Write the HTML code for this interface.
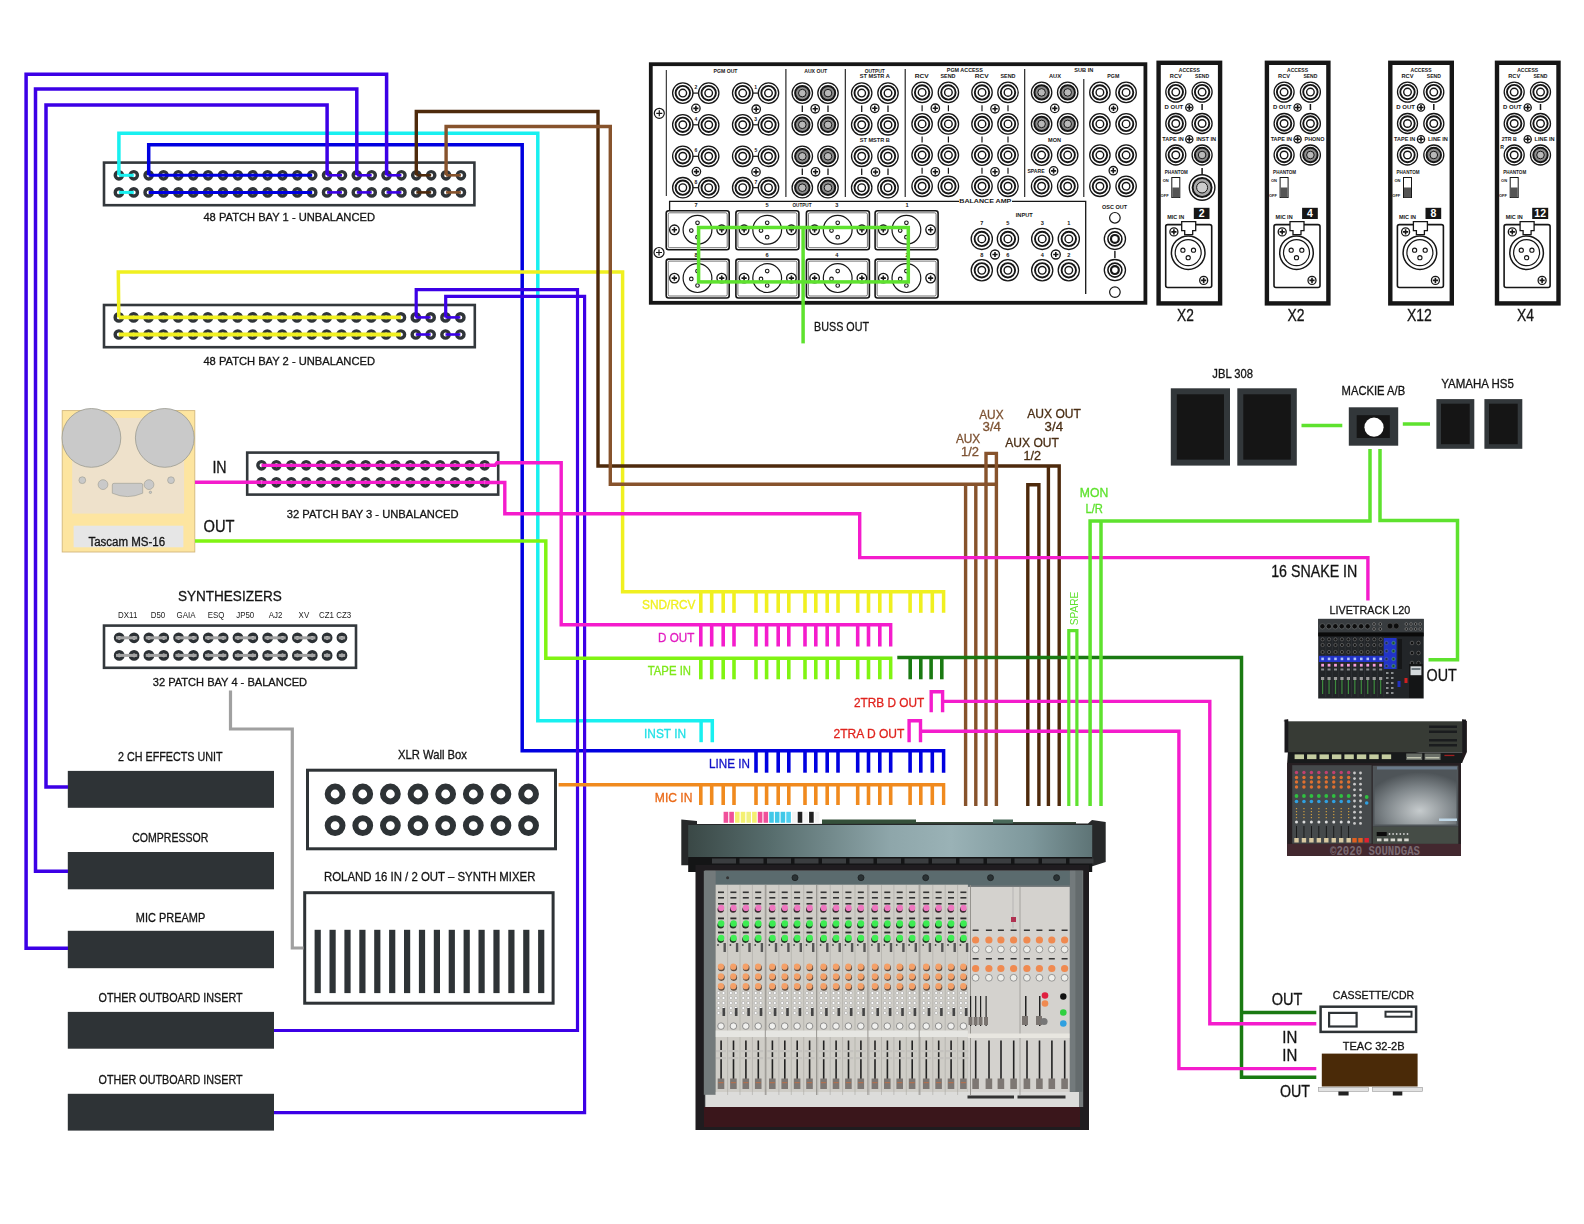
<!DOCTYPE html>
<html><head><meta charset="utf-8"><title>Studio Wiring Diagram</title>
<style>
html,body{margin:0;padding:0;background:#fff;}
body{width:1584px;height:1224px;overflow:hidden;font-family:"Liberation Sans", sans-serif;}
svg{display:block;}
</style></head><body>
<svg width="1584" height="1224" viewBox="0 0 1584 1224" font-family="Liberation Sans, sans-serif">
<rect width="1584" height="1224" fill="#ffffff"/>
<g id="panels">
<rect x="650.8" y="64.2" width="494.6" height="238.6" fill="#fff" stroke="#161616" stroke-width="3.8"/>
<line x1="666.3" y1="70" x2="666.3" y2="196" stroke="#161616" stroke-width="1"/>
<circle cx="659.3" cy="113.3" r="5" fill="#fff" stroke="#161616" stroke-width="1.2"/>
<path d="M656.3,113.3 h6 M659.3,110.3 v6" stroke="#161616" stroke-width="1.2"/>
<circle cx="659" cy="252.5" r="5" fill="#fff" stroke="#161616" stroke-width="1.2"/>
<path d="M656,252.5 h6 M659,249.5 v6" stroke="#161616" stroke-width="1.2"/>
<line x1="785.9" y1="69" x2="785.9" y2="197" stroke="#161616" stroke-width="1.1"/>
<line x1="845.3" y1="69" x2="845.3" y2="197" stroke="#161616" stroke-width="1.1"/>
<line x1="905.2" y1="69" x2="905.2" y2="197" stroke="#161616" stroke-width="1.1"/>
<line x1="1024.7" y1="69" x2="1024.7" y2="197" stroke="#161616" stroke-width="1.1"/>
<line x1="1083.8" y1="79" x2="1083.8" y2="197" stroke="#161616" stroke-width="1.1"/>
<circle cx="682.8" cy="93.1" r="10.2" fill="#fff" stroke="#161616" stroke-width="1.3"/>
<circle cx="682.8" cy="93.1" r="7.2" fill="none" stroke="#161616" stroke-width="1.9"/>
<circle cx="682.8" cy="93.1" r="3.8" fill="none" stroke="#161616" stroke-width="1.4"/>
<circle cx="708.7" cy="93.1" r="10.2" fill="#fff" stroke="#161616" stroke-width="1.3"/>
<circle cx="708.7" cy="93.1" r="7.2" fill="none" stroke="#161616" stroke-width="1.9"/>
<circle cx="708.7" cy="93.1" r="3.8" fill="none" stroke="#161616" stroke-width="1.4"/>
<circle cx="742.7" cy="93.1" r="10.2" fill="#fff" stroke="#161616" stroke-width="1.3"/>
<circle cx="742.7" cy="93.1" r="7.2" fill="none" stroke="#161616" stroke-width="1.9"/>
<circle cx="742.7" cy="93.1" r="3.8" fill="none" stroke="#161616" stroke-width="1.4"/>
<circle cx="768.5" cy="93.1" r="10.2" fill="#fff" stroke="#161616" stroke-width="1.3"/>
<circle cx="768.5" cy="93.1" r="7.2" fill="none" stroke="#161616" stroke-width="1.9"/>
<circle cx="768.5" cy="93.1" r="3.8" fill="none" stroke="#161616" stroke-width="1.4"/>
<line x1="692.6" y1="93.1" x2="698.9" y2="93.1" stroke="#161616" stroke-width="1.2"/>
<line x1="752.5" y1="93.1" x2="758.7" y2="93.1" stroke="#161616" stroke-width="1.2"/>
<circle cx="682.8" cy="124.8" r="10.2" fill="#fff" stroke="#161616" stroke-width="1.3"/>
<circle cx="682.8" cy="124.8" r="7.2" fill="none" stroke="#161616" stroke-width="1.9"/>
<circle cx="682.8" cy="124.8" r="3.8" fill="none" stroke="#161616" stroke-width="1.4"/>
<circle cx="708.7" cy="124.8" r="10.2" fill="#fff" stroke="#161616" stroke-width="1.3"/>
<circle cx="708.7" cy="124.8" r="7.2" fill="none" stroke="#161616" stroke-width="1.9"/>
<circle cx="708.7" cy="124.8" r="3.8" fill="none" stroke="#161616" stroke-width="1.4"/>
<circle cx="742.7" cy="124.8" r="10.2" fill="#fff" stroke="#161616" stroke-width="1.3"/>
<circle cx="742.7" cy="124.8" r="7.2" fill="none" stroke="#161616" stroke-width="1.9"/>
<circle cx="742.7" cy="124.8" r="3.8" fill="none" stroke="#161616" stroke-width="1.4"/>
<circle cx="768.5" cy="124.8" r="10.2" fill="#fff" stroke="#161616" stroke-width="1.3"/>
<circle cx="768.5" cy="124.8" r="7.2" fill="none" stroke="#161616" stroke-width="1.9"/>
<circle cx="768.5" cy="124.8" r="3.8" fill="none" stroke="#161616" stroke-width="1.4"/>
<line x1="692.6" y1="124.8" x2="698.9" y2="124.8" stroke="#161616" stroke-width="1.2"/>
<line x1="752.5" y1="124.8" x2="758.7" y2="124.8" stroke="#161616" stroke-width="1.2"/>
<circle cx="682.8" cy="156.3" r="10.2" fill="#fff" stroke="#161616" stroke-width="1.3"/>
<circle cx="682.8" cy="156.3" r="7.2" fill="none" stroke="#161616" stroke-width="1.9"/>
<circle cx="682.8" cy="156.3" r="3.8" fill="none" stroke="#161616" stroke-width="1.4"/>
<circle cx="708.7" cy="156.3" r="10.2" fill="#fff" stroke="#161616" stroke-width="1.3"/>
<circle cx="708.7" cy="156.3" r="7.2" fill="none" stroke="#161616" stroke-width="1.9"/>
<circle cx="708.7" cy="156.3" r="3.8" fill="none" stroke="#161616" stroke-width="1.4"/>
<circle cx="742.7" cy="156.3" r="10.2" fill="#fff" stroke="#161616" stroke-width="1.3"/>
<circle cx="742.7" cy="156.3" r="7.2" fill="none" stroke="#161616" stroke-width="1.9"/>
<circle cx="742.7" cy="156.3" r="3.8" fill="none" stroke="#161616" stroke-width="1.4"/>
<circle cx="768.5" cy="156.3" r="10.2" fill="#fff" stroke="#161616" stroke-width="1.3"/>
<circle cx="768.5" cy="156.3" r="7.2" fill="none" stroke="#161616" stroke-width="1.9"/>
<circle cx="768.5" cy="156.3" r="3.8" fill="none" stroke="#161616" stroke-width="1.4"/>
<line x1="692.6" y1="156.3" x2="698.9" y2="156.3" stroke="#161616" stroke-width="1.2"/>
<line x1="752.5" y1="156.3" x2="758.7" y2="156.3" stroke="#161616" stroke-width="1.2"/>
<circle cx="682.8" cy="187.7" r="10.2" fill="#fff" stroke="#161616" stroke-width="1.3"/>
<circle cx="682.8" cy="187.7" r="7.2" fill="none" stroke="#161616" stroke-width="1.9"/>
<circle cx="682.8" cy="187.7" r="3.8" fill="none" stroke="#161616" stroke-width="1.4"/>
<circle cx="708.7" cy="187.7" r="10.2" fill="#fff" stroke="#161616" stroke-width="1.3"/>
<circle cx="708.7" cy="187.7" r="7.2" fill="none" stroke="#161616" stroke-width="1.9"/>
<circle cx="708.7" cy="187.7" r="3.8" fill="none" stroke="#161616" stroke-width="1.4"/>
<circle cx="742.7" cy="187.7" r="10.2" fill="#fff" stroke="#161616" stroke-width="1.3"/>
<circle cx="742.7" cy="187.7" r="7.2" fill="none" stroke="#161616" stroke-width="1.9"/>
<circle cx="742.7" cy="187.7" r="3.8" fill="none" stroke="#161616" stroke-width="1.4"/>
<circle cx="768.5" cy="187.7" r="10.2" fill="#fff" stroke="#161616" stroke-width="1.3"/>
<circle cx="768.5" cy="187.7" r="7.2" fill="none" stroke="#161616" stroke-width="1.9"/>
<circle cx="768.5" cy="187.7" r="3.8" fill="none" stroke="#161616" stroke-width="1.4"/>
<line x1="692.6" y1="187.7" x2="698.9" y2="187.7" stroke="#161616" stroke-width="1.2"/>
<line x1="752.5" y1="187.7" x2="758.7" y2="187.7" stroke="#161616" stroke-width="1.2"/>
<circle cx="695.9" cy="108.4" r="4.2" fill="#fff" stroke="#161616" stroke-width="1.3"/>
<path d="M693.3,108.4 h5.2 M695.9,105.80000000000001 v5.2" stroke="#161616" stroke-width="1.6"/>
<circle cx="756.2" cy="109.2" r="4.2" fill="#fff" stroke="#161616" stroke-width="1.3"/>
<path d="M753.6,109.2 h5.2 M756.2,106.60000000000001 v5.2" stroke="#161616" stroke-width="1.6"/>
<circle cx="696.4" cy="171.6" r="4.2" fill="#fff" stroke="#161616" stroke-width="1.3"/>
<path d="M693.8,171.6 h5.2 M696.4,169.0 v5.2" stroke="#161616" stroke-width="1.6"/>
<circle cx="756" cy="171.9" r="4.2" fill="#fff" stroke="#161616" stroke-width="1.3"/>
<path d="M753.4,171.9 h5.2 M756,169.3 v5.2" stroke="#161616" stroke-width="1.6"/>
<circle cx="802.3" cy="93.1" r="10.2" fill="#fff" stroke="#161616" stroke-width="1.3"/>
<circle cx="802.3" cy="93.1" r="7.2" fill="#8d8d8d" stroke="#161616" stroke-width="2"/>
<circle cx="802.3" cy="93.1" r="3.8" fill="#b8b8b8" stroke="#161616" stroke-width="1.0"/>
<circle cx="828" cy="93.1" r="10.2" fill="#fff" stroke="#161616" stroke-width="1.3"/>
<circle cx="828" cy="93.1" r="7.2" fill="#8d8d8d" stroke="#161616" stroke-width="2"/>
<circle cx="828" cy="93.1" r="3.8" fill="#b8b8b8" stroke="#161616" stroke-width="1.0"/>
<circle cx="802.3" cy="124.8" r="10.2" fill="#fff" stroke="#161616" stroke-width="1.3"/>
<circle cx="802.3" cy="124.8" r="7.2" fill="#8d8d8d" stroke="#161616" stroke-width="2"/>
<circle cx="802.3" cy="124.8" r="3.8" fill="#b8b8b8" stroke="#161616" stroke-width="1.0"/>
<circle cx="828" cy="124.8" r="10.2" fill="#fff" stroke="#161616" stroke-width="1.3"/>
<circle cx="828" cy="124.8" r="7.2" fill="#8d8d8d" stroke="#161616" stroke-width="2"/>
<circle cx="828" cy="124.8" r="3.8" fill="#b8b8b8" stroke="#161616" stroke-width="1.0"/>
<circle cx="802.3" cy="156.3" r="10.2" fill="#fff" stroke="#161616" stroke-width="1.3"/>
<circle cx="802.3" cy="156.3" r="7.2" fill="#8d8d8d" stroke="#161616" stroke-width="2"/>
<circle cx="802.3" cy="156.3" r="3.8" fill="#b8b8b8" stroke="#161616" stroke-width="1.0"/>
<circle cx="828" cy="156.3" r="10.2" fill="#fff" stroke="#161616" stroke-width="1.3"/>
<circle cx="828" cy="156.3" r="7.2" fill="#8d8d8d" stroke="#161616" stroke-width="2"/>
<circle cx="828" cy="156.3" r="3.8" fill="#b8b8b8" stroke="#161616" stroke-width="1.0"/>
<circle cx="802.3" cy="187.7" r="10.2" fill="#fff" stroke="#161616" stroke-width="1.3"/>
<circle cx="802.3" cy="187.7" r="7.2" fill="#8d8d8d" stroke="#161616" stroke-width="2"/>
<circle cx="802.3" cy="187.7" r="3.8" fill="#b8b8b8" stroke="#161616" stroke-width="1.0"/>
<circle cx="828" cy="187.7" r="10.2" fill="#fff" stroke="#161616" stroke-width="1.3"/>
<circle cx="828" cy="187.7" r="7.2" fill="#8d8d8d" stroke="#161616" stroke-width="2"/>
<circle cx="828" cy="187.7" r="3.8" fill="#b8b8b8" stroke="#161616" stroke-width="1.0"/>
<circle cx="815.2" cy="108.8" r="4.2" fill="#fff" stroke="#161616" stroke-width="1.3"/>
<path d="M812.6,108.8 h5.2 M815.2,106.2 v5.2" stroke="#161616" stroke-width="1.6"/>
<circle cx="815.5" cy="171.8" r="4.2" fill="#fff" stroke="#161616" stroke-width="1.3"/>
<path d="M812.9,171.8 h5.2 M815.5,169.20000000000002 v5.2" stroke="#161616" stroke-width="1.6"/>
<line x1="802.3" y1="105.5" x2="802.3" y2="112.1" stroke="#161616" stroke-width="1.3"/>
<line x1="828" y1="105.5" x2="828" y2="112.1" stroke="#161616" stroke-width="1.3"/>
<line x1="861.7" y1="105.5" x2="861.7" y2="112.1" stroke="#161616" stroke-width="1.3"/>
<line x1="888" y1="105.5" x2="888" y2="112.1" stroke="#161616" stroke-width="1.3"/>
<line x1="802.3" y1="168.5" x2="802.3" y2="175.10000000000002" stroke="#161616" stroke-width="1.3"/>
<line x1="828" y1="168.5" x2="828" y2="175.10000000000002" stroke="#161616" stroke-width="1.3"/>
<line x1="861.7" y1="168.5" x2="861.7" y2="175.10000000000002" stroke="#161616" stroke-width="1.3"/>
<line x1="888" y1="168.5" x2="888" y2="175.10000000000002" stroke="#161616" stroke-width="1.3"/>
<circle cx="861.7" cy="93.1" r="10.2" fill="#fff" stroke="#161616" stroke-width="1.3"/>
<circle cx="861.7" cy="93.1" r="7.2" fill="none" stroke="#161616" stroke-width="1.9"/>
<circle cx="861.7" cy="93.1" r="3.8" fill="none" stroke="#161616" stroke-width="1.4"/>
<circle cx="888" cy="93.1" r="10.2" fill="#fff" stroke="#161616" stroke-width="1.3"/>
<circle cx="888" cy="93.1" r="7.2" fill="none" stroke="#161616" stroke-width="1.9"/>
<circle cx="888" cy="93.1" r="3.8" fill="none" stroke="#161616" stroke-width="1.4"/>
<circle cx="861.7" cy="124.8" r="10.2" fill="#fff" stroke="#161616" stroke-width="1.3"/>
<circle cx="861.7" cy="124.8" r="7.2" fill="none" stroke="#161616" stroke-width="1.9"/>
<circle cx="861.7" cy="124.8" r="3.8" fill="none" stroke="#161616" stroke-width="1.4"/>
<circle cx="888" cy="124.8" r="10.2" fill="#fff" stroke="#161616" stroke-width="1.3"/>
<circle cx="888" cy="124.8" r="7.2" fill="none" stroke="#161616" stroke-width="1.9"/>
<circle cx="888" cy="124.8" r="3.8" fill="none" stroke="#161616" stroke-width="1.4"/>
<circle cx="861.7" cy="156.3" r="10.2" fill="#fff" stroke="#161616" stroke-width="1.3"/>
<circle cx="861.7" cy="156.3" r="7.2" fill="none" stroke="#161616" stroke-width="1.9"/>
<circle cx="861.7" cy="156.3" r="3.8" fill="none" stroke="#161616" stroke-width="1.4"/>
<circle cx="888" cy="156.3" r="10.2" fill="#fff" stroke="#161616" stroke-width="1.3"/>
<circle cx="888" cy="156.3" r="7.2" fill="none" stroke="#161616" stroke-width="1.9"/>
<circle cx="888" cy="156.3" r="3.8" fill="none" stroke="#161616" stroke-width="1.4"/>
<circle cx="861.7" cy="187.7" r="10.2" fill="#fff" stroke="#161616" stroke-width="1.3"/>
<circle cx="861.7" cy="187.7" r="7.2" fill="none" stroke="#161616" stroke-width="1.9"/>
<circle cx="861.7" cy="187.7" r="3.8" fill="none" stroke="#161616" stroke-width="1.4"/>
<circle cx="888" cy="187.7" r="10.2" fill="#fff" stroke="#161616" stroke-width="1.3"/>
<circle cx="888" cy="187.7" r="7.2" fill="none" stroke="#161616" stroke-width="1.9"/>
<circle cx="888" cy="187.7" r="3.8" fill="none" stroke="#161616" stroke-width="1.4"/>
<circle cx="874.8" cy="108.3" r="4.2" fill="#fff" stroke="#161616" stroke-width="1.3"/>
<path d="M872.1999999999999,108.3 h5.2 M874.8,105.7 v5.2" stroke="#161616" stroke-width="1.6"/>
<circle cx="875.5" cy="172" r="4.2" fill="#fff" stroke="#161616" stroke-width="1.3"/>
<path d="M872.9,172 h5.2 M875.5,169.4 v5.2" stroke="#161616" stroke-width="1.6"/>
<circle cx="922.1" cy="92.4" r="10.2" fill="#fff" stroke="#161616" stroke-width="1.3"/>
<circle cx="922.1" cy="92.4" r="7.2" fill="none" stroke="#161616" stroke-width="1.9"/>
<circle cx="922.1" cy="92.4" r="3.8" fill="none" stroke="#161616" stroke-width="1.4"/>
<circle cx="948.4" cy="92.4" r="10.2" fill="#fff" stroke="#161616" stroke-width="1.3"/>
<circle cx="948.4" cy="92.4" r="7.2" fill="none" stroke="#161616" stroke-width="1.9"/>
<circle cx="948.4" cy="92.4" r="3.8" fill="none" stroke="#161616" stroke-width="1.4"/>
<circle cx="982" cy="92.4" r="10.2" fill="#fff" stroke="#161616" stroke-width="1.3"/>
<circle cx="982" cy="92.4" r="7.2" fill="none" stroke="#161616" stroke-width="1.9"/>
<circle cx="982" cy="92.4" r="3.8" fill="none" stroke="#161616" stroke-width="1.4"/>
<circle cx="1008" cy="92.4" r="10.2" fill="#fff" stroke="#161616" stroke-width="1.3"/>
<circle cx="1008" cy="92.4" r="7.2" fill="none" stroke="#161616" stroke-width="1.9"/>
<circle cx="1008" cy="92.4" r="3.8" fill="none" stroke="#161616" stroke-width="1.4"/>
<circle cx="922.1" cy="123.9" r="10.2" fill="#fff" stroke="#161616" stroke-width="1.3"/>
<circle cx="922.1" cy="123.9" r="7.2" fill="none" stroke="#161616" stroke-width="1.9"/>
<circle cx="922.1" cy="123.9" r="3.8" fill="none" stroke="#161616" stroke-width="1.4"/>
<circle cx="948.4" cy="123.9" r="10.2" fill="#fff" stroke="#161616" stroke-width="1.3"/>
<circle cx="948.4" cy="123.9" r="7.2" fill="none" stroke="#161616" stroke-width="1.9"/>
<circle cx="948.4" cy="123.9" r="3.8" fill="none" stroke="#161616" stroke-width="1.4"/>
<circle cx="982" cy="123.9" r="10.2" fill="#fff" stroke="#161616" stroke-width="1.3"/>
<circle cx="982" cy="123.9" r="7.2" fill="none" stroke="#161616" stroke-width="1.9"/>
<circle cx="982" cy="123.9" r="3.8" fill="none" stroke="#161616" stroke-width="1.4"/>
<circle cx="1008" cy="123.9" r="10.2" fill="#fff" stroke="#161616" stroke-width="1.3"/>
<circle cx="1008" cy="123.9" r="7.2" fill="none" stroke="#161616" stroke-width="1.9"/>
<circle cx="1008" cy="123.9" r="3.8" fill="none" stroke="#161616" stroke-width="1.4"/>
<circle cx="922.1" cy="155.1" r="10.2" fill="#fff" stroke="#161616" stroke-width="1.3"/>
<circle cx="922.1" cy="155.1" r="7.2" fill="none" stroke="#161616" stroke-width="1.9"/>
<circle cx="922.1" cy="155.1" r="3.8" fill="none" stroke="#161616" stroke-width="1.4"/>
<circle cx="948.4" cy="155.1" r="10.2" fill="#fff" stroke="#161616" stroke-width="1.3"/>
<circle cx="948.4" cy="155.1" r="7.2" fill="none" stroke="#161616" stroke-width="1.9"/>
<circle cx="948.4" cy="155.1" r="3.8" fill="none" stroke="#161616" stroke-width="1.4"/>
<circle cx="982" cy="155.1" r="10.2" fill="#fff" stroke="#161616" stroke-width="1.3"/>
<circle cx="982" cy="155.1" r="7.2" fill="none" stroke="#161616" stroke-width="1.9"/>
<circle cx="982" cy="155.1" r="3.8" fill="none" stroke="#161616" stroke-width="1.4"/>
<circle cx="1008" cy="155.1" r="10.2" fill="#fff" stroke="#161616" stroke-width="1.3"/>
<circle cx="1008" cy="155.1" r="7.2" fill="none" stroke="#161616" stroke-width="1.9"/>
<circle cx="1008" cy="155.1" r="3.8" fill="none" stroke="#161616" stroke-width="1.4"/>
<circle cx="922.1" cy="186.3" r="10.2" fill="#fff" stroke="#161616" stroke-width="1.3"/>
<circle cx="922.1" cy="186.3" r="7.2" fill="none" stroke="#161616" stroke-width="1.9"/>
<circle cx="922.1" cy="186.3" r="3.8" fill="none" stroke="#161616" stroke-width="1.4"/>
<circle cx="948.4" cy="186.3" r="10.2" fill="#fff" stroke="#161616" stroke-width="1.3"/>
<circle cx="948.4" cy="186.3" r="7.2" fill="none" stroke="#161616" stroke-width="1.9"/>
<circle cx="948.4" cy="186.3" r="3.8" fill="none" stroke="#161616" stroke-width="1.4"/>
<circle cx="982" cy="186.3" r="10.2" fill="#fff" stroke="#161616" stroke-width="1.3"/>
<circle cx="982" cy="186.3" r="7.2" fill="none" stroke="#161616" stroke-width="1.9"/>
<circle cx="982" cy="186.3" r="3.8" fill="none" stroke="#161616" stroke-width="1.4"/>
<circle cx="1008" cy="186.3" r="10.2" fill="#fff" stroke="#161616" stroke-width="1.3"/>
<circle cx="1008" cy="186.3" r="7.2" fill="none" stroke="#161616" stroke-width="1.9"/>
<circle cx="1008" cy="186.3" r="3.8" fill="none" stroke="#161616" stroke-width="1.4"/>
<line x1="922.1" y1="105.2" x2="922.1" y2="111.2" stroke="#161616" stroke-width="1.2"/>
<line x1="948.4" y1="105.2" x2="948.4" y2="111.2" stroke="#161616" stroke-width="1.2"/>
<line x1="982" y1="105.2" x2="982" y2="111.2" stroke="#161616" stroke-width="1.2"/>
<line x1="1008" y1="105.2" x2="1008" y2="111.2" stroke="#161616" stroke-width="1.2"/>
<line x1="922.1" y1="136.5" x2="922.1" y2="142.5" stroke="#161616" stroke-width="1.2"/>
<line x1="948.4" y1="136.5" x2="948.4" y2="142.5" stroke="#161616" stroke-width="1.2"/>
<line x1="982" y1="136.5" x2="982" y2="142.5" stroke="#161616" stroke-width="1.2"/>
<line x1="1008" y1="136.5" x2="1008" y2="142.5" stroke="#161616" stroke-width="1.2"/>
<line x1="922.1" y1="167.7" x2="922.1" y2="173.7" stroke="#161616" stroke-width="1.2"/>
<line x1="948.4" y1="167.7" x2="948.4" y2="173.7" stroke="#161616" stroke-width="1.2"/>
<line x1="982" y1="167.7" x2="982" y2="173.7" stroke="#161616" stroke-width="1.2"/>
<line x1="1008" y1="167.7" x2="1008" y2="173.7" stroke="#161616" stroke-width="1.2"/>
<circle cx="935.3" cy="108.2" r="4.2" fill="#fff" stroke="#161616" stroke-width="1.3"/>
<path d="M932.6999999999999,108.2 h5.2 M935.3,105.60000000000001 v5.2" stroke="#161616" stroke-width="1.6"/>
<circle cx="995" cy="108.8" r="4.2" fill="#fff" stroke="#161616" stroke-width="1.3"/>
<path d="M992.4,108.8 h5.2 M995,106.2 v5.2" stroke="#161616" stroke-width="1.6"/>
<circle cx="935.3" cy="171.8" r="4.2" fill="#fff" stroke="#161616" stroke-width="1.3"/>
<path d="M932.6999999999999,171.8 h5.2 M935.3,169.20000000000002 v5.2" stroke="#161616" stroke-width="1.6"/>
<circle cx="995" cy="171.8" r="4.2" fill="#fff" stroke="#161616" stroke-width="1.3"/>
<path d="M992.4,171.8 h5.2 M995,169.20000000000002 v5.2" stroke="#161616" stroke-width="1.6"/>
<circle cx="1041.6" cy="92.4" r="10.2" fill="#fff" stroke="#161616" stroke-width="1.3"/>
<circle cx="1041.6" cy="92.4" r="7.2" fill="#8d8d8d" stroke="#161616" stroke-width="2"/>
<circle cx="1041.6" cy="92.4" r="3.8" fill="#b8b8b8" stroke="#161616" stroke-width="1.0"/>
<circle cx="1067.7" cy="92.4" r="10.2" fill="#fff" stroke="#161616" stroke-width="1.3"/>
<circle cx="1067.7" cy="92.4" r="7.2" fill="#8d8d8d" stroke="#161616" stroke-width="2"/>
<circle cx="1067.7" cy="92.4" r="3.8" fill="#b8b8b8" stroke="#161616" stroke-width="1.0"/>
<circle cx="1099.9" cy="92.4" r="10.2" fill="#fff" stroke="#161616" stroke-width="1.3"/>
<circle cx="1099.9" cy="92.4" r="7.2" fill="none" stroke="#161616" stroke-width="1.9"/>
<circle cx="1099.9" cy="92.4" r="3.8" fill="none" stroke="#161616" stroke-width="1.4"/>
<circle cx="1126.1" cy="92.4" r="10.2" fill="#fff" stroke="#161616" stroke-width="1.3"/>
<circle cx="1126.1" cy="92.4" r="7.2" fill="none" stroke="#161616" stroke-width="1.9"/>
<circle cx="1126.1" cy="92.4" r="3.8" fill="none" stroke="#161616" stroke-width="1.4"/>
<circle cx="1041.6" cy="123.9" r="10.2" fill="#fff" stroke="#161616" stroke-width="1.3"/>
<circle cx="1041.6" cy="123.9" r="7.2" fill="#8d8d8d" stroke="#161616" stroke-width="2"/>
<circle cx="1041.6" cy="123.9" r="3.8" fill="#b8b8b8" stroke="#161616" stroke-width="1.0"/>
<circle cx="1067.7" cy="123.9" r="10.2" fill="#fff" stroke="#161616" stroke-width="1.3"/>
<circle cx="1067.7" cy="123.9" r="7.2" fill="#8d8d8d" stroke="#161616" stroke-width="2"/>
<circle cx="1067.7" cy="123.9" r="3.8" fill="#b8b8b8" stroke="#161616" stroke-width="1.0"/>
<circle cx="1099.9" cy="123.9" r="10.2" fill="#fff" stroke="#161616" stroke-width="1.3"/>
<circle cx="1099.9" cy="123.9" r="7.2" fill="none" stroke="#161616" stroke-width="1.9"/>
<circle cx="1099.9" cy="123.9" r="3.8" fill="none" stroke="#161616" stroke-width="1.4"/>
<circle cx="1126.1" cy="123.9" r="10.2" fill="#fff" stroke="#161616" stroke-width="1.3"/>
<circle cx="1126.1" cy="123.9" r="7.2" fill="none" stroke="#161616" stroke-width="1.9"/>
<circle cx="1126.1" cy="123.9" r="3.8" fill="none" stroke="#161616" stroke-width="1.4"/>
<circle cx="1041.6" cy="155.1" r="10.2" fill="#fff" stroke="#161616" stroke-width="1.3"/>
<circle cx="1041.6" cy="155.1" r="7.2" fill="none" stroke="#161616" stroke-width="1.9"/>
<circle cx="1041.6" cy="155.1" r="3.8" fill="none" stroke="#161616" stroke-width="1.4"/>
<circle cx="1067.7" cy="155.1" r="10.2" fill="#fff" stroke="#161616" stroke-width="1.3"/>
<circle cx="1067.7" cy="155.1" r="7.2" fill="none" stroke="#161616" stroke-width="1.9"/>
<circle cx="1067.7" cy="155.1" r="3.8" fill="none" stroke="#161616" stroke-width="1.4"/>
<circle cx="1099.9" cy="155.1" r="10.2" fill="#fff" stroke="#161616" stroke-width="1.3"/>
<circle cx="1099.9" cy="155.1" r="7.2" fill="none" stroke="#161616" stroke-width="1.9"/>
<circle cx="1099.9" cy="155.1" r="3.8" fill="none" stroke="#161616" stroke-width="1.4"/>
<circle cx="1126.1" cy="155.1" r="10.2" fill="#fff" stroke="#161616" stroke-width="1.3"/>
<circle cx="1126.1" cy="155.1" r="7.2" fill="none" stroke="#161616" stroke-width="1.9"/>
<circle cx="1126.1" cy="155.1" r="3.8" fill="none" stroke="#161616" stroke-width="1.4"/>
<circle cx="1041.6" cy="186.3" r="10.2" fill="#fff" stroke="#161616" stroke-width="1.3"/>
<circle cx="1041.6" cy="186.3" r="7.2" fill="none" stroke="#161616" stroke-width="1.9"/>
<circle cx="1041.6" cy="186.3" r="3.8" fill="none" stroke="#161616" stroke-width="1.4"/>
<circle cx="1067.7" cy="186.3" r="10.2" fill="#fff" stroke="#161616" stroke-width="1.3"/>
<circle cx="1067.7" cy="186.3" r="7.2" fill="none" stroke="#161616" stroke-width="1.9"/>
<circle cx="1067.7" cy="186.3" r="3.8" fill="none" stroke="#161616" stroke-width="1.4"/>
<circle cx="1099.9" cy="186.3" r="10.2" fill="#fff" stroke="#161616" stroke-width="1.3"/>
<circle cx="1099.9" cy="186.3" r="7.2" fill="none" stroke="#161616" stroke-width="1.9"/>
<circle cx="1099.9" cy="186.3" r="3.8" fill="none" stroke="#161616" stroke-width="1.4"/>
<circle cx="1126.1" cy="186.3" r="10.2" fill="#fff" stroke="#161616" stroke-width="1.3"/>
<circle cx="1126.1" cy="186.3" r="7.2" fill="none" stroke="#161616" stroke-width="1.9"/>
<circle cx="1126.1" cy="186.3" r="3.8" fill="none" stroke="#161616" stroke-width="1.4"/>
<circle cx="1054.8" cy="108.4" r="4.2" fill="#fff" stroke="#161616" stroke-width="1.3"/>
<path d="M1052.2,108.4 h5.2 M1054.8,105.80000000000001 v5.2" stroke="#161616" stroke-width="1.6"/>
<circle cx="1113.5" cy="108.4" r="4.2" fill="#fff" stroke="#161616" stroke-width="1.3"/>
<path d="M1110.9,108.4 h5.2 M1113.5,105.80000000000001 v5.2" stroke="#161616" stroke-width="1.6"/>
<circle cx="1053.6" cy="170.9" r="4.2" fill="#fff" stroke="#161616" stroke-width="1.3"/>
<path d="M1051.0,170.9 h5.2 M1053.6,168.3 v5.2" stroke="#161616" stroke-width="1.6"/>
<circle cx="1113.3" cy="170.7" r="4.2" fill="#fff" stroke="#161616" stroke-width="1.3"/>
<path d="M1110.7,170.7 h5.2 M1113.3,168.1 v5.2" stroke="#161616" stroke-width="1.6"/>
<text x="725.5" y="73.42" font-size="5.6" font-weight="bold" fill="#161616" text-anchor="middle" font-family="Liberation Sans, sans-serif" textLength="24" lengthAdjust="spacingAndGlyphs">PGM OUT</text>
<text x="815.7" y="73.02" font-size="5.6" font-weight="bold" fill="#161616" text-anchor="middle" font-family="Liberation Sans, sans-serif" textLength="23" lengthAdjust="spacingAndGlyphs">AUX OUT</text>
<text x="874.8" y="73.02" font-size="5.6" font-weight="bold" fill="#161616" text-anchor="middle" font-family="Liberation Sans, sans-serif" textLength="20" lengthAdjust="spacingAndGlyphs">OUTPUT</text>
<text x="874.8" y="78.32" font-size="5.6" font-weight="bold" fill="#161616" text-anchor="middle" font-family="Liberation Sans, sans-serif" textLength="30" lengthAdjust="spacingAndGlyphs">ST MSTR  A</text>
<text x="874.8" y="142.42" font-size="5.6" font-weight="bold" fill="#161616" text-anchor="middle" font-family="Liberation Sans, sans-serif" textLength="30" lengthAdjust="spacingAndGlyphs">ST MSTR  B</text>
<text x="964.8" y="72.12" font-size="5.6" font-weight="bold" fill="#161616" text-anchor="middle" font-family="Liberation Sans, sans-serif" textLength="36" lengthAdjust="spacingAndGlyphs">PGM ACCESS</text>
<text x="921.8" y="78.02" font-size="5.6" font-weight="bold" fill="#161616" text-anchor="middle" font-family="Liberation Sans, sans-serif" textLength="14" lengthAdjust="spacingAndGlyphs">RCV</text>
<text x="948" y="78.02" font-size="5.6" font-weight="bold" fill="#161616" text-anchor="middle" font-family="Liberation Sans, sans-serif" textLength="15" lengthAdjust="spacingAndGlyphs">SEND</text>
<text x="981.7" y="78.02" font-size="5.6" font-weight="bold" fill="#161616" text-anchor="middle" font-family="Liberation Sans, sans-serif" textLength="14" lengthAdjust="spacingAndGlyphs">RCV</text>
<text x="1008" y="78.02" font-size="5.6" font-weight="bold" fill="#161616" text-anchor="middle" font-family="Liberation Sans, sans-serif" textLength="15" lengthAdjust="spacingAndGlyphs">SEND</text>
<text x="1083.8" y="71.82" font-size="5.6" font-weight="bold" fill="#161616" text-anchor="middle" font-family="Liberation Sans, sans-serif" textLength="19" lengthAdjust="spacingAndGlyphs">SUB IN</text>
<text x="1055" y="77.82" font-size="5.6" font-weight="bold" fill="#161616" text-anchor="middle" font-family="Liberation Sans, sans-serif" textLength="12" lengthAdjust="spacingAndGlyphs">AUX</text>
<text x="1113.3" y="77.52" font-size="5.6" font-weight="bold" fill="#161616" text-anchor="middle" font-family="Liberation Sans, sans-serif" textLength="12" lengthAdjust="spacingAndGlyphs">PGM</text>
<text x="1054.6" y="141.52" font-size="5.6" font-weight="bold" fill="#161616" text-anchor="middle" font-family="Liberation Sans, sans-serif" textLength="13" lengthAdjust="spacingAndGlyphs">MON</text>
<text x="1036" y="172.92" font-size="5.6" font-weight="bold" fill="#161616" text-anchor="middle" font-family="Liberation Sans, sans-serif" textLength="17" lengthAdjust="spacingAndGlyphs">SPARE</text>
<text x="695.8" y="88.80" font-size="5" font-weight="bold" fill="#161616" text-anchor="middle" font-family="Liberation Sans, sans-serif" >2</text>
<text x="755.6" y="88.80" font-size="5" font-weight="bold" fill="#161616" text-anchor="middle" font-family="Liberation Sans, sans-serif" >1</text>
<text x="695.8" y="120.80" font-size="5" font-weight="bold" fill="#161616" text-anchor="middle" font-family="Liberation Sans, sans-serif" >4</text>
<text x="755.6" y="120.80" font-size="5" font-weight="bold" fill="#161616" text-anchor="middle" font-family="Liberation Sans, sans-serif" >3</text>
<text x="696" y="151.80" font-size="5" font-weight="bold" fill="#161616" text-anchor="middle" font-family="Liberation Sans, sans-serif" >6</text>
<text x="756" y="151.80" font-size="5" font-weight="bold" fill="#161616" text-anchor="middle" font-family="Liberation Sans, sans-serif" >5</text>
<text x="696" y="183.80" font-size="5" font-weight="bold" fill="#161616" text-anchor="middle" font-family="Liberation Sans, sans-serif" >8</text>
<text x="756" y="183.80" font-size="5" font-weight="bold" fill="#161616" text-anchor="middle" font-family="Liberation Sans, sans-serif" >7</text>
<path d="M669.6,214 V201.4 H959 M1012,201.4 H1085.7 V294" fill="none" stroke="#161616" stroke-width="1.3"/>
<text x="985.3" y="203.43" font-size="6.2" font-weight="bold" fill="#161616" text-anchor="middle" font-family="Liberation Sans, sans-serif" textLength="52" lengthAdjust="spacingAndGlyphs">BALANCE AMP</text>
<text x="802" y="207.22" font-size="5.6" font-weight="bold" fill="#161616" text-anchor="middle" font-family="Liberation Sans, sans-serif" textLength="19" lengthAdjust="spacingAndGlyphs">OUTPUT</text>
<text x="696" y="207.22" font-size="5.6" font-weight="bold" fill="#161616" text-anchor="middle" font-family="Liberation Sans, sans-serif" >7</text>
<text x="767" y="207.22" font-size="5.6" font-weight="bold" fill="#161616" text-anchor="middle" font-family="Liberation Sans, sans-serif" >5</text>
<text x="836.7" y="207.22" font-size="5.6" font-weight="bold" fill="#161616" text-anchor="middle" font-family="Liberation Sans, sans-serif" >3</text>
<text x="907" y="207.22" font-size="5.6" font-weight="bold" fill="#161616" text-anchor="middle" font-family="Liberation Sans, sans-serif" >1</text>
<text x="696" y="256.52" font-size="5.6" font-weight="bold" fill="#161616" text-anchor="middle" font-family="Liberation Sans, sans-serif" >8</text>
<text x="767" y="256.52" font-size="5.6" font-weight="bold" fill="#161616" text-anchor="middle" font-family="Liberation Sans, sans-serif" >6</text>
<text x="836.7" y="256.52" font-size="5.6" font-weight="bold" fill="#161616" text-anchor="middle" font-family="Liberation Sans, sans-serif" >4</text>
<text x="907" y="256.52" font-size="5.6" font-weight="bold" fill="#161616" text-anchor="middle" font-family="Liberation Sans, sans-serif" >2</text>
<rect x="666.2" y="210.8" width="63" height="38.9" rx="2.5" fill="#fff" stroke="#161616" stroke-width="1.6"/>
<rect x="668.2" y="212.8" width="59" height="34.9" rx="1.5" fill="none" stroke="#161616" stroke-width="0.6"/>
<circle cx="697.5" cy="229.8" r="14.4" fill="#fff" stroke="#161616" stroke-width="1.2"/>
<circle cx="697.5" cy="222.8" r="1.8" fill="none" stroke="#161616" stroke-width="1.1"/>
<circle cx="691.3" cy="230.60000000000002" r="1.8" fill="none" stroke="#161616" stroke-width="1.1"/>
<circle cx="697.5" cy="237.20000000000002" r="1.8" fill="none" stroke="#161616" stroke-width="1.1"/>
<circle cx="674.4000000000001" cy="229.8" r="4.8" fill="#fff" stroke="#161616" stroke-width="1.3"/>
<path d="M671.8000000000001,229.8 h5.2 M674.4000000000001,227.20000000000002 v5.2" stroke="#161616" stroke-width="1.6"/>
<circle cx="721.7" cy="229.8" r="4.8" fill="#fff" stroke="#161616" stroke-width="1.3"/>
<path d="M719.1,229.8 h5.2 M721.7,227.20000000000002 v5.2" stroke="#161616" stroke-width="1.6"/>
<rect x="666.2" y="259.1" width="63" height="38.9" rx="2.5" fill="#fff" stroke="#161616" stroke-width="1.6"/>
<rect x="668.2" y="261.1" width="59" height="34.9" rx="1.5" fill="none" stroke="#161616" stroke-width="0.6"/>
<circle cx="697.5" cy="278.1" r="14.4" fill="#fff" stroke="#161616" stroke-width="1.2"/>
<circle cx="697.5" cy="271.1" r="1.8" fill="none" stroke="#161616" stroke-width="1.1"/>
<circle cx="691.3" cy="278.90000000000003" r="1.8" fill="none" stroke="#161616" stroke-width="1.1"/>
<circle cx="697.5" cy="285.5" r="1.8" fill="none" stroke="#161616" stroke-width="1.1"/>
<circle cx="674.4000000000001" cy="278.1" r="4.8" fill="#fff" stroke="#161616" stroke-width="1.3"/>
<path d="M671.8000000000001,278.1 h5.2 M674.4000000000001,275.5 v5.2" stroke="#161616" stroke-width="1.6"/>
<circle cx="721.7" cy="278.1" r="4.8" fill="#fff" stroke="#161616" stroke-width="1.3"/>
<path d="M719.1,278.1 h5.2 M721.7,275.5 v5.2" stroke="#161616" stroke-width="1.6"/>
<rect x="735.9" y="210.8" width="63" height="38.9" rx="2.5" fill="#fff" stroke="#161616" stroke-width="1.6"/>
<rect x="737.9" y="212.8" width="59" height="34.9" rx="1.5" fill="none" stroke="#161616" stroke-width="0.6"/>
<circle cx="767.1999999999999" cy="229.8" r="14.4" fill="#fff" stroke="#161616" stroke-width="1.2"/>
<circle cx="767.1999999999999" cy="222.8" r="1.8" fill="none" stroke="#161616" stroke-width="1.1"/>
<circle cx="760.9999999999999" cy="230.60000000000002" r="1.8" fill="none" stroke="#161616" stroke-width="1.1"/>
<circle cx="767.1999999999999" cy="237.20000000000002" r="1.8" fill="none" stroke="#161616" stroke-width="1.1"/>
<circle cx="744.1" cy="229.8" r="4.8" fill="#fff" stroke="#161616" stroke-width="1.3"/>
<path d="M741.5,229.8 h5.2 M744.1,227.20000000000002 v5.2" stroke="#161616" stroke-width="1.6"/>
<circle cx="791.4" cy="229.8" r="4.8" fill="#fff" stroke="#161616" stroke-width="1.3"/>
<path d="M788.8,229.8 h5.2 M791.4,227.20000000000002 v5.2" stroke="#161616" stroke-width="1.6"/>
<rect x="735.9" y="259.1" width="63" height="38.9" rx="2.5" fill="#fff" stroke="#161616" stroke-width="1.6"/>
<rect x="737.9" y="261.1" width="59" height="34.9" rx="1.5" fill="none" stroke="#161616" stroke-width="0.6"/>
<circle cx="767.1999999999999" cy="278.1" r="14.4" fill="#fff" stroke="#161616" stroke-width="1.2"/>
<circle cx="767.1999999999999" cy="271.1" r="1.8" fill="none" stroke="#161616" stroke-width="1.1"/>
<circle cx="760.9999999999999" cy="278.90000000000003" r="1.8" fill="none" stroke="#161616" stroke-width="1.1"/>
<circle cx="767.1999999999999" cy="285.5" r="1.8" fill="none" stroke="#161616" stroke-width="1.1"/>
<circle cx="744.1" cy="278.1" r="4.8" fill="#fff" stroke="#161616" stroke-width="1.3"/>
<path d="M741.5,278.1 h5.2 M744.1,275.5 v5.2" stroke="#161616" stroke-width="1.6"/>
<circle cx="791.4" cy="278.1" r="4.8" fill="#fff" stroke="#161616" stroke-width="1.3"/>
<path d="M788.8,278.1 h5.2 M791.4,275.5 v5.2" stroke="#161616" stroke-width="1.6"/>
<rect x="806.4" y="210.8" width="63" height="38.9" rx="2.5" fill="#fff" stroke="#161616" stroke-width="1.6"/>
<rect x="808.4" y="212.8" width="59" height="34.9" rx="1.5" fill="none" stroke="#161616" stroke-width="0.6"/>
<circle cx="837.6999999999999" cy="229.8" r="14.4" fill="#fff" stroke="#161616" stroke-width="1.2"/>
<circle cx="837.6999999999999" cy="222.8" r="1.8" fill="none" stroke="#161616" stroke-width="1.1"/>
<circle cx="831.4999999999999" cy="230.60000000000002" r="1.8" fill="none" stroke="#161616" stroke-width="1.1"/>
<circle cx="837.6999999999999" cy="237.20000000000002" r="1.8" fill="none" stroke="#161616" stroke-width="1.1"/>
<circle cx="814.6" cy="229.8" r="4.8" fill="#fff" stroke="#161616" stroke-width="1.3"/>
<path d="M812.0,229.8 h5.2 M814.6,227.20000000000002 v5.2" stroke="#161616" stroke-width="1.6"/>
<circle cx="861.9" cy="229.8" r="4.8" fill="#fff" stroke="#161616" stroke-width="1.3"/>
<path d="M859.3,229.8 h5.2 M861.9,227.20000000000002 v5.2" stroke="#161616" stroke-width="1.6"/>
<rect x="806.4" y="259.1" width="63" height="38.9" rx="2.5" fill="#fff" stroke="#161616" stroke-width="1.6"/>
<rect x="808.4" y="261.1" width="59" height="34.9" rx="1.5" fill="none" stroke="#161616" stroke-width="0.6"/>
<circle cx="837.6999999999999" cy="278.1" r="14.4" fill="#fff" stroke="#161616" stroke-width="1.2"/>
<circle cx="837.6999999999999" cy="271.1" r="1.8" fill="none" stroke="#161616" stroke-width="1.1"/>
<circle cx="831.4999999999999" cy="278.90000000000003" r="1.8" fill="none" stroke="#161616" stroke-width="1.1"/>
<circle cx="837.6999999999999" cy="285.5" r="1.8" fill="none" stroke="#161616" stroke-width="1.1"/>
<circle cx="814.6" cy="278.1" r="4.8" fill="#fff" stroke="#161616" stroke-width="1.3"/>
<path d="M812.0,278.1 h5.2 M814.6,275.5 v5.2" stroke="#161616" stroke-width="1.6"/>
<circle cx="861.9" cy="278.1" r="4.8" fill="#fff" stroke="#161616" stroke-width="1.3"/>
<path d="M859.3,278.1 h5.2 M861.9,275.5 v5.2" stroke="#161616" stroke-width="1.6"/>
<rect x="875.1" y="210.8" width="63" height="38.9" rx="2.5" fill="#fff" stroke="#161616" stroke-width="1.6"/>
<rect x="877.1" y="212.8" width="59" height="34.9" rx="1.5" fill="none" stroke="#161616" stroke-width="0.6"/>
<circle cx="906.4" cy="229.8" r="14.4" fill="#fff" stroke="#161616" stroke-width="1.2"/>
<circle cx="906.4" cy="222.8" r="1.8" fill="none" stroke="#161616" stroke-width="1.1"/>
<circle cx="900.1999999999999" cy="230.60000000000002" r="1.8" fill="none" stroke="#161616" stroke-width="1.1"/>
<circle cx="906.4" cy="237.20000000000002" r="1.8" fill="none" stroke="#161616" stroke-width="1.1"/>
<circle cx="883.3000000000001" cy="229.8" r="4.8" fill="#fff" stroke="#161616" stroke-width="1.3"/>
<path d="M880.7,229.8 h5.2 M883.3000000000001,227.20000000000002 v5.2" stroke="#161616" stroke-width="1.6"/>
<circle cx="930.6" cy="229.8" r="4.8" fill="#fff" stroke="#161616" stroke-width="1.3"/>
<path d="M928.0,229.8 h5.2 M930.6,227.20000000000002 v5.2" stroke="#161616" stroke-width="1.6"/>
<rect x="875.1" y="259.1" width="63" height="38.9" rx="2.5" fill="#fff" stroke="#161616" stroke-width="1.6"/>
<rect x="877.1" y="261.1" width="59" height="34.9" rx="1.5" fill="none" stroke="#161616" stroke-width="0.6"/>
<circle cx="906.4" cy="278.1" r="14.4" fill="#fff" stroke="#161616" stroke-width="1.2"/>
<circle cx="906.4" cy="271.1" r="1.8" fill="none" stroke="#161616" stroke-width="1.1"/>
<circle cx="900.1999999999999" cy="278.90000000000003" r="1.8" fill="none" stroke="#161616" stroke-width="1.1"/>
<circle cx="906.4" cy="285.5" r="1.8" fill="none" stroke="#161616" stroke-width="1.1"/>
<circle cx="883.3000000000001" cy="278.1" r="4.8" fill="#fff" stroke="#161616" stroke-width="1.3"/>
<path d="M880.7,278.1 h5.2 M883.3000000000001,275.5 v5.2" stroke="#161616" stroke-width="1.6"/>
<circle cx="930.6" cy="278.1" r="4.8" fill="#fff" stroke="#161616" stroke-width="1.3"/>
<path d="M928.0,278.1 h5.2 M930.6,275.5 v5.2" stroke="#161616" stroke-width="1.6"/>
<circle cx="981.8" cy="238.9" r="10.6" fill="#fff" stroke="#161616" stroke-width="1.3"/>
<circle cx="981.8" cy="238.9" r="7.2" fill="none" stroke="#161616" stroke-width="1.9"/>
<circle cx="981.8" cy="238.9" r="3.8" fill="none" stroke="#161616" stroke-width="1.4"/>
<circle cx="981.8" cy="270.3" r="10.6" fill="#fff" stroke="#161616" stroke-width="1.3"/>
<circle cx="981.8" cy="270.3" r="7.2" fill="none" stroke="#161616" stroke-width="1.9"/>
<circle cx="981.8" cy="270.3" r="3.8" fill="none" stroke="#161616" stroke-width="1.4"/>
<text x="981.8" y="225.32" font-size="5.6" font-weight="bold" fill="#161616" text-anchor="middle" font-family="Liberation Sans, sans-serif" >7</text>
<text x="981.8" y="256.92" font-size="5.6" font-weight="bold" fill="#161616" text-anchor="middle" font-family="Liberation Sans, sans-serif" >8</text>
<circle cx="1007.9" cy="238.9" r="10.6" fill="#fff" stroke="#161616" stroke-width="1.3"/>
<circle cx="1007.9" cy="238.9" r="7.2" fill="none" stroke="#161616" stroke-width="1.9"/>
<circle cx="1007.9" cy="238.9" r="3.8" fill="none" stroke="#161616" stroke-width="1.4"/>
<circle cx="1007.9" cy="270.3" r="10.6" fill="#fff" stroke="#161616" stroke-width="1.3"/>
<circle cx="1007.9" cy="270.3" r="7.2" fill="none" stroke="#161616" stroke-width="1.9"/>
<circle cx="1007.9" cy="270.3" r="3.8" fill="none" stroke="#161616" stroke-width="1.4"/>
<text x="1007.9" y="225.32" font-size="5.6" font-weight="bold" fill="#161616" text-anchor="middle" font-family="Liberation Sans, sans-serif" >5</text>
<text x="1007.9" y="256.92" font-size="5.6" font-weight="bold" fill="#161616" text-anchor="middle" font-family="Liberation Sans, sans-serif" >6</text>
<circle cx="1042.2" cy="238.9" r="10.6" fill="#fff" stroke="#161616" stroke-width="1.3"/>
<circle cx="1042.2" cy="238.9" r="7.2" fill="none" stroke="#161616" stroke-width="1.9"/>
<circle cx="1042.2" cy="238.9" r="3.8" fill="none" stroke="#161616" stroke-width="1.4"/>
<circle cx="1042.2" cy="270.3" r="10.6" fill="#fff" stroke="#161616" stroke-width="1.3"/>
<circle cx="1042.2" cy="270.3" r="7.2" fill="none" stroke="#161616" stroke-width="1.9"/>
<circle cx="1042.2" cy="270.3" r="3.8" fill="none" stroke="#161616" stroke-width="1.4"/>
<text x="1042.2" y="225.32" font-size="5.6" font-weight="bold" fill="#161616" text-anchor="middle" font-family="Liberation Sans, sans-serif" >3</text>
<text x="1042.2" y="256.92" font-size="5.6" font-weight="bold" fill="#161616" text-anchor="middle" font-family="Liberation Sans, sans-serif" >4</text>
<circle cx="1068.8" cy="238.9" r="10.6" fill="#fff" stroke="#161616" stroke-width="1.3"/>
<circle cx="1068.8" cy="238.9" r="7.2" fill="none" stroke="#161616" stroke-width="1.9"/>
<circle cx="1068.8" cy="238.9" r="3.8" fill="none" stroke="#161616" stroke-width="1.4"/>
<circle cx="1068.8" cy="270.3" r="10.6" fill="#fff" stroke="#161616" stroke-width="1.3"/>
<circle cx="1068.8" cy="270.3" r="7.2" fill="none" stroke="#161616" stroke-width="1.9"/>
<circle cx="1068.8" cy="270.3" r="3.8" fill="none" stroke="#161616" stroke-width="1.4"/>
<text x="1068.8" y="225.32" font-size="5.6" font-weight="bold" fill="#161616" text-anchor="middle" font-family="Liberation Sans, sans-serif" >1</text>
<text x="1068.8" y="256.92" font-size="5.6" font-weight="bold" fill="#161616" text-anchor="middle" font-family="Liberation Sans, sans-serif" >2</text>
<circle cx="995" cy="254.5" r="4.5" fill="#fff" stroke="#161616" stroke-width="1.3"/>
<path d="M992.4,254.5 h5.2 M995,251.9 v5.2" stroke="#161616" stroke-width="1.6"/>
<circle cx="1055.8" cy="254.5" r="4.5" fill="#fff" stroke="#161616" stroke-width="1.3"/>
<path d="M1053.2,254.5 h5.2 M1055.8,251.9 v5.2" stroke="#161616" stroke-width="1.6"/>
<text x="1024.3" y="216.72" font-size="5.6" font-weight="bold" fill="#161616" text-anchor="middle" font-family="Liberation Sans, sans-serif" textLength="17" lengthAdjust="spacingAndGlyphs">INPUT</text>
<text x="1114.6" y="209.02" font-size="5.6" font-weight="bold" fill="#161616" text-anchor="middle" font-family="Liberation Sans, sans-serif" textLength="25" lengthAdjust="spacingAndGlyphs">OSC OUT</text>
<circle cx="1114.9" cy="217.8" r="5.3" fill="none" stroke="#161616" stroke-width="1.2"/>
<circle cx="1114.9" cy="292.1" r="5.3" fill="none" stroke="#161616" stroke-width="1.2"/>
<circle cx="1114.9" cy="238.9" r="10.6" fill="#fff" stroke="#161616" stroke-width="1.3"/>
<circle cx="1114.9" cy="238.9" r="7.0" fill="none" stroke="#161616" stroke-width="1.6"/>
<circle cx="1114.9" cy="238.9" r="3.9" fill="none" stroke="#161616" stroke-width="2.2"/>
<circle cx="1114.9" cy="270.1" r="10.6" fill="#fff" stroke="#161616" stroke-width="1.3"/>
<circle cx="1114.9" cy="270.1" r="7.0" fill="none" stroke="#161616" stroke-width="1.6"/>
<circle cx="1114.9" cy="270.1" r="3.9" fill="none" stroke="#161616" stroke-width="2.2"/>
<line x1="1114.9" y1="251" x2="1114.9" y2="258" stroke="#161616" stroke-width="1.4"/>
<rect x="1158.6" y="62.8" width="61.5" height="240.6" fill="#fff" stroke="#161616" stroke-width="4.4"/>
<text x="1189.3" y="72.37" font-size="5.2" font-weight="bold" fill="#161616" text-anchor="middle" font-family="Liberation Sans, sans-serif" textLength="21" lengthAdjust="spacingAndGlyphs">ACCESS</text>
<text x="1175.8" y="78.17" font-size="5.2" font-weight="bold" fill="#161616" text-anchor="middle" font-family="Liberation Sans, sans-serif" textLength="12" lengthAdjust="spacingAndGlyphs">RCV</text>
<text x="1202.1" y="78.17" font-size="5.2" font-weight="bold" fill="#161616" text-anchor="middle" font-family="Liberation Sans, sans-serif" textLength="14" lengthAdjust="spacingAndGlyphs">SEND</text>
<circle cx="1175.8" cy="92.1" r="10" fill="#fff" stroke="#161616" stroke-width="1.3"/>
<circle cx="1175.8" cy="92.1" r="7.2" fill="none" stroke="#161616" stroke-width="1.9"/>
<circle cx="1175.8" cy="92.1" r="3.8" fill="none" stroke="#161616" stroke-width="1.4"/>
<circle cx="1202.1" cy="92.1" r="10" fill="#fff" stroke="#161616" stroke-width="1.3"/>
<circle cx="1202.1" cy="92.1" r="7.2" fill="none" stroke="#161616" stroke-width="1.9"/>
<circle cx="1202.1" cy="92.1" r="3.8" fill="none" stroke="#161616" stroke-width="1.4"/>
<circle cx="1175.8" cy="123.5" r="10" fill="#fff" stroke="#161616" stroke-width="1.3"/>
<circle cx="1175.8" cy="123.5" r="7.2" fill="none" stroke="#161616" stroke-width="1.9"/>
<circle cx="1175.8" cy="123.5" r="3.8" fill="none" stroke="#161616" stroke-width="1.4"/>
<circle cx="1202.1" cy="123.5" r="10" fill="#fff" stroke="#161616" stroke-width="1.3"/>
<circle cx="1202.1" cy="123.5" r="7.2" fill="none" stroke="#161616" stroke-width="1.9"/>
<circle cx="1202.1" cy="123.5" r="3.8" fill="none" stroke="#161616" stroke-width="1.4"/>
<circle cx="1175.8" cy="155" r="10" fill="#fff" stroke="#161616" stroke-width="1.3"/>
<circle cx="1175.8" cy="155" r="7.2" fill="none" stroke="#161616" stroke-width="1.9"/>
<circle cx="1175.8" cy="155" r="3.8" fill="none" stroke="#161616" stroke-width="1.4"/>
<circle cx="1202.1" cy="155" r="10" fill="#fff" stroke="#161616" stroke-width="1.3"/>
<circle cx="1202.1" cy="155" r="7.2" fill="#8d8d8d" stroke="#161616" stroke-width="2"/>
<circle cx="1202.1" cy="155" r="3.8" fill="#b8b8b8" stroke="#161616" stroke-width="1.0"/>
<text x="1173.8999999999999" y="109.37" font-size="5.2" font-weight="bold" fill="#161616" text-anchor="middle" font-family="Liberation Sans, sans-serif" textLength="18.6" lengthAdjust="spacingAndGlyphs">D OUT</text>
<circle cx="1189.3" cy="107.5" r="3.6" fill="#fff" stroke="#161616" stroke-width="1.3"/>
<path d="M1186.7,107.5 h5.2 M1189.3,104.9 v5.2" stroke="#161616" stroke-width="1.6"/>
<line x1="1202.1" y1="104" x2="1202.1" y2="110" stroke="#161616" stroke-width="1.5"/>
<text x="1173.0" y="141.07" font-size="5.2" font-weight="bold" fill="#161616" text-anchor="middle" font-family="Liberation Sans, sans-serif" textLength="21.3" lengthAdjust="spacingAndGlyphs">TAPE IN</text>
<circle cx="1189.3" cy="139.2" r="3.6" fill="#fff" stroke="#161616" stroke-width="1.3"/>
<path d="M1186.7,139.2 h5.2 M1189.3,136.6 v5.2" stroke="#161616" stroke-width="1.6"/>
<text x="1206.1999999999998" y="141.07" font-size="5.2" font-weight="bold" fill="#161616" text-anchor="middle" font-family="Liberation Sans, sans-serif" textLength="20" lengthAdjust="spacingAndGlyphs">INST IN</text>
<text x="1176.3" y="174.37" font-size="5.2" font-weight="bold" fill="#161616" text-anchor="middle" font-family="Liberation Sans, sans-serif" textLength="23" lengthAdjust="spacingAndGlyphs">PHANTOM</text>
<rect x="1171.8" y="177.5" width="8" height="20" fill="#fff" stroke="#161616" stroke-width="1"/>
<rect x="1172.3" y="187.5" width="7" height="10" fill="#555"/>
<text x="1165.7" y="182.44" font-size="4" font-weight="bold" fill="#161616" text-anchor="middle" font-family="Liberation Sans, sans-serif" >ON</text>
<text x="1164.6" y="197.44" font-size="4" font-weight="bold" fill="#161616" text-anchor="middle" font-family="Liberation Sans, sans-serif" >OFF</text>
<line x1="1202.1" y1="168" x2="1202.1" y2="174" stroke="#161616" stroke-width="1.5"/>
<circle cx="1202.1" cy="187.5" r="12.8" fill="#fff" stroke="#161616" stroke-width="1.4"/>
<circle cx="1202.1" cy="187.5" r="9.5" fill="#aaa" stroke="#161616" stroke-width="2"/>
<circle cx="1202.1" cy="187.5" r="5.5" fill="#ccc" stroke="#161616" stroke-width="1"/>
<rect x="1193.8" y="207.8" width="15.7" height="11.2" fill="#161616"/>
<text x="1201.6499999999999" y="217.4" font-size="10.5" font-weight="bold" fill="#fff" text-anchor="middle" font-family="Liberation Sans, sans-serif">2</text>
<text x="1175.8" y="218.64" font-size="5.4" font-weight="bold" fill="#161616" text-anchor="middle" font-family="Liberation Sans, sans-serif" textLength="17" lengthAdjust="spacingAndGlyphs">MIC IN</text>
<rect x="1165.7" y="224.6" width="46" height="62.9" rx="2" fill="#fff" stroke="#161616" stroke-width="1.6"/>
<path d="M1181.7,224.6 v-3 h14 v3 v6 h-3 v4 h-8 v-4 h-3 z" fill="#fff" stroke="#161616" stroke-width="1.3"/>
<circle cx="1188.2" cy="252.7" r="16.8" fill="#fff" stroke="#161616" stroke-width="1.5"/>
<circle cx="1188.2" cy="252.7" r="13" fill="none" stroke="#161616" stroke-width="1.2"/>
<circle cx="1182.9" cy="250.2" r="2.1" fill="none" stroke="#161616" stroke-width="1.1"/>
<circle cx="1193.5" cy="250.2" r="2.1" fill="none" stroke="#161616" stroke-width="1.1"/>
<circle cx="1188.2" cy="257.7" r="2.1" fill="none" stroke="#161616" stroke-width="1.1"/>
<circle cx="1173.9" cy="231.9" r="4" fill="#fff" stroke="#161616" stroke-width="1.3"/>
<path d="M1171.3000000000002,231.9 h5.2 M1173.9,229.3 v5.2" stroke="#161616" stroke-width="1.6"/>
<circle cx="1203.7" cy="280.4" r="4" fill="#fff" stroke="#161616" stroke-width="1.3"/>
<path d="M1201.1000000000001,280.4 h5.2 M1203.7,277.79999999999995 v5.2" stroke="#161616" stroke-width="1.6"/>
<rect x="1266.8999999999999" y="62.8" width="61.5" height="240.6" fill="#fff" stroke="#161616" stroke-width="4.4"/>
<text x="1297.6" y="72.37" font-size="5.2" font-weight="bold" fill="#161616" text-anchor="middle" font-family="Liberation Sans, sans-serif" textLength="21" lengthAdjust="spacingAndGlyphs">ACCESS</text>
<text x="1284.1" y="78.17" font-size="5.2" font-weight="bold" fill="#161616" text-anchor="middle" font-family="Liberation Sans, sans-serif" textLength="12" lengthAdjust="spacingAndGlyphs">RCV</text>
<text x="1310.3999999999999" y="78.17" font-size="5.2" font-weight="bold" fill="#161616" text-anchor="middle" font-family="Liberation Sans, sans-serif" textLength="14" lengthAdjust="spacingAndGlyphs">SEND</text>
<circle cx="1284.1" cy="92.1" r="10" fill="#fff" stroke="#161616" stroke-width="1.3"/>
<circle cx="1284.1" cy="92.1" r="7.2" fill="none" stroke="#161616" stroke-width="1.9"/>
<circle cx="1284.1" cy="92.1" r="3.8" fill="none" stroke="#161616" stroke-width="1.4"/>
<circle cx="1310.3999999999999" cy="92.1" r="10" fill="#fff" stroke="#161616" stroke-width="1.3"/>
<circle cx="1310.3999999999999" cy="92.1" r="7.2" fill="none" stroke="#161616" stroke-width="1.9"/>
<circle cx="1310.3999999999999" cy="92.1" r="3.8" fill="none" stroke="#161616" stroke-width="1.4"/>
<circle cx="1284.1" cy="123.5" r="10" fill="#fff" stroke="#161616" stroke-width="1.3"/>
<circle cx="1284.1" cy="123.5" r="7.2" fill="none" stroke="#161616" stroke-width="1.9"/>
<circle cx="1284.1" cy="123.5" r="3.8" fill="none" stroke="#161616" stroke-width="1.4"/>
<circle cx="1310.3999999999999" cy="123.5" r="10" fill="#fff" stroke="#161616" stroke-width="1.3"/>
<circle cx="1310.3999999999999" cy="123.5" r="7.2" fill="none" stroke="#161616" stroke-width="1.9"/>
<circle cx="1310.3999999999999" cy="123.5" r="3.8" fill="none" stroke="#161616" stroke-width="1.4"/>
<circle cx="1284.1" cy="155" r="10" fill="#fff" stroke="#161616" stroke-width="1.3"/>
<circle cx="1284.1" cy="155" r="7.2" fill="none" stroke="#161616" stroke-width="1.9"/>
<circle cx="1284.1" cy="155" r="3.8" fill="none" stroke="#161616" stroke-width="1.4"/>
<circle cx="1310.3999999999999" cy="155" r="10" fill="#fff" stroke="#161616" stroke-width="1.3"/>
<circle cx="1310.3999999999999" cy="155" r="7.2" fill="#8d8d8d" stroke="#161616" stroke-width="2"/>
<circle cx="1310.3999999999999" cy="155" r="3.8" fill="#b8b8b8" stroke="#161616" stroke-width="1.0"/>
<text x="1282.1999999999998" y="109.37" font-size="5.2" font-weight="bold" fill="#161616" text-anchor="middle" font-family="Liberation Sans, sans-serif" textLength="18.6" lengthAdjust="spacingAndGlyphs">D OUT</text>
<circle cx="1297.6" cy="107.5" r="3.6" fill="#fff" stroke="#161616" stroke-width="1.3"/>
<path d="M1295.0,107.5 h5.2 M1297.6,104.9 v5.2" stroke="#161616" stroke-width="1.6"/>
<line x1="1310.3999999999999" y1="104" x2="1310.3999999999999" y2="110" stroke="#161616" stroke-width="1.5"/>
<text x="1281.3" y="141.07" font-size="5.2" font-weight="bold" fill="#161616" text-anchor="middle" font-family="Liberation Sans, sans-serif" textLength="21.3" lengthAdjust="spacingAndGlyphs">TAPE IN</text>
<circle cx="1297.6" cy="139.2" r="3.6" fill="#fff" stroke="#161616" stroke-width="1.3"/>
<path d="M1295.0,139.2 h5.2 M1297.6,136.6 v5.2" stroke="#161616" stroke-width="1.6"/>
<text x="1314.4999999999998" y="141.07" font-size="5.2" font-weight="bold" fill="#161616" text-anchor="middle" font-family="Liberation Sans, sans-serif" textLength="20" lengthAdjust="spacingAndGlyphs">PHONO</text>
<text x="1284.6" y="174.37" font-size="5.2" font-weight="bold" fill="#161616" text-anchor="middle" font-family="Liberation Sans, sans-serif" textLength="23" lengthAdjust="spacingAndGlyphs">PHANTOM</text>
<rect x="1280.1" y="177.5" width="8" height="20" fill="#fff" stroke="#161616" stroke-width="1"/>
<rect x="1280.6" y="187.5" width="7" height="10" fill="#555"/>
<text x="1274.0" y="182.44" font-size="4" font-weight="bold" fill="#161616" text-anchor="middle" font-family="Liberation Sans, sans-serif" >ON</text>
<text x="1272.8999999999999" y="197.44" font-size="4" font-weight="bold" fill="#161616" text-anchor="middle" font-family="Liberation Sans, sans-serif" >OFF</text>
<rect x="1302.1" y="207.8" width="15.7" height="11.2" fill="#161616"/>
<text x="1309.9499999999998" y="217.4" font-size="10.5" font-weight="bold" fill="#fff" text-anchor="middle" font-family="Liberation Sans, sans-serif">4</text>
<text x="1284.1" y="218.64" font-size="5.4" font-weight="bold" fill="#161616" text-anchor="middle" font-family="Liberation Sans, sans-serif" textLength="17" lengthAdjust="spacingAndGlyphs">MIC IN</text>
<rect x="1274.0" y="224.6" width="46" height="62.9" rx="2" fill="#fff" stroke="#161616" stroke-width="1.6"/>
<path d="M1290.0,224.6 v-3 h14 v3 v6 h-3 v4 h-8 v-4 h-3 z" fill="#fff" stroke="#161616" stroke-width="1.3"/>
<circle cx="1296.5" cy="252.7" r="16.8" fill="#fff" stroke="#161616" stroke-width="1.5"/>
<circle cx="1296.5" cy="252.7" r="13" fill="none" stroke="#161616" stroke-width="1.2"/>
<circle cx="1291.2" cy="250.2" r="2.1" fill="none" stroke="#161616" stroke-width="1.1"/>
<circle cx="1301.8" cy="250.2" r="2.1" fill="none" stroke="#161616" stroke-width="1.1"/>
<circle cx="1296.5" cy="257.7" r="2.1" fill="none" stroke="#161616" stroke-width="1.1"/>
<circle cx="1282.2" cy="231.9" r="4" fill="#fff" stroke="#161616" stroke-width="1.3"/>
<path d="M1279.6000000000001,231.9 h5.2 M1282.2,229.3 v5.2" stroke="#161616" stroke-width="1.6"/>
<circle cx="1312.0" cy="280.4" r="4" fill="#fff" stroke="#161616" stroke-width="1.3"/>
<path d="M1309.4,280.4 h5.2 M1312.0,277.79999999999995 v5.2" stroke="#161616" stroke-width="1.6"/>
<rect x="1390.3" y="62.8" width="61.5" height="240.6" fill="#fff" stroke="#161616" stroke-width="4.4"/>
<text x="1421" y="72.37" font-size="5.2" font-weight="bold" fill="#161616" text-anchor="middle" font-family="Liberation Sans, sans-serif" textLength="21" lengthAdjust="spacingAndGlyphs">ACCESS</text>
<text x="1407.5" y="78.17" font-size="5.2" font-weight="bold" fill="#161616" text-anchor="middle" font-family="Liberation Sans, sans-serif" textLength="12" lengthAdjust="spacingAndGlyphs">RCV</text>
<text x="1433.8" y="78.17" font-size="5.2" font-weight="bold" fill="#161616" text-anchor="middle" font-family="Liberation Sans, sans-serif" textLength="14" lengthAdjust="spacingAndGlyphs">SEND</text>
<circle cx="1407.5" cy="92.1" r="10" fill="#fff" stroke="#161616" stroke-width="1.3"/>
<circle cx="1407.5" cy="92.1" r="7.2" fill="none" stroke="#161616" stroke-width="1.9"/>
<circle cx="1407.5" cy="92.1" r="3.8" fill="none" stroke="#161616" stroke-width="1.4"/>
<circle cx="1433.8" cy="92.1" r="10" fill="#fff" stroke="#161616" stroke-width="1.3"/>
<circle cx="1433.8" cy="92.1" r="7.2" fill="none" stroke="#161616" stroke-width="1.9"/>
<circle cx="1433.8" cy="92.1" r="3.8" fill="none" stroke="#161616" stroke-width="1.4"/>
<circle cx="1407.5" cy="123.5" r="10" fill="#fff" stroke="#161616" stroke-width="1.3"/>
<circle cx="1407.5" cy="123.5" r="7.2" fill="none" stroke="#161616" stroke-width="1.9"/>
<circle cx="1407.5" cy="123.5" r="3.8" fill="none" stroke="#161616" stroke-width="1.4"/>
<circle cx="1433.8" cy="123.5" r="10" fill="#fff" stroke="#161616" stroke-width="1.3"/>
<circle cx="1433.8" cy="123.5" r="7.2" fill="none" stroke="#161616" stroke-width="1.9"/>
<circle cx="1433.8" cy="123.5" r="3.8" fill="none" stroke="#161616" stroke-width="1.4"/>
<circle cx="1407.5" cy="155" r="10" fill="#fff" stroke="#161616" stroke-width="1.3"/>
<circle cx="1407.5" cy="155" r="7.2" fill="none" stroke="#161616" stroke-width="1.9"/>
<circle cx="1407.5" cy="155" r="3.8" fill="none" stroke="#161616" stroke-width="1.4"/>
<circle cx="1433.8" cy="155" r="10" fill="#fff" stroke="#161616" stroke-width="1.3"/>
<circle cx="1433.8" cy="155" r="7.2" fill="#8d8d8d" stroke="#161616" stroke-width="2"/>
<circle cx="1433.8" cy="155" r="3.8" fill="#b8b8b8" stroke="#161616" stroke-width="1.0"/>
<text x="1405.6" y="109.37" font-size="5.2" font-weight="bold" fill="#161616" text-anchor="middle" font-family="Liberation Sans, sans-serif" textLength="18.6" lengthAdjust="spacingAndGlyphs">D OUT</text>
<circle cx="1421.0" cy="107.5" r="3.6" fill="#fff" stroke="#161616" stroke-width="1.3"/>
<path d="M1418.4,107.5 h5.2 M1421.0,104.9 v5.2" stroke="#161616" stroke-width="1.6"/>
<line x1="1433.8" y1="104" x2="1433.8" y2="110" stroke="#161616" stroke-width="1.5"/>
<text x="1404.7" y="141.07" font-size="5.2" font-weight="bold" fill="#161616" text-anchor="middle" font-family="Liberation Sans, sans-serif" textLength="21.3" lengthAdjust="spacingAndGlyphs">TAPE IN</text>
<circle cx="1421.0" cy="139.2" r="3.6" fill="#fff" stroke="#161616" stroke-width="1.3"/>
<path d="M1418.4,139.2 h5.2 M1421.0,136.6 v5.2" stroke="#161616" stroke-width="1.6"/>
<text x="1437.8999999999999" y="141.07" font-size="5.2" font-weight="bold" fill="#161616" text-anchor="middle" font-family="Liberation Sans, sans-serif" textLength="20" lengthAdjust="spacingAndGlyphs">LINE IN</text>
<text x="1408" y="174.37" font-size="5.2" font-weight="bold" fill="#161616" text-anchor="middle" font-family="Liberation Sans, sans-serif" textLength="23" lengthAdjust="spacingAndGlyphs">PHANTOM</text>
<rect x="1403.5" y="177.5" width="8" height="20" fill="#fff" stroke="#161616" stroke-width="1"/>
<rect x="1404" y="187.5" width="7" height="10" fill="#555"/>
<text x="1397.4" y="182.44" font-size="4" font-weight="bold" fill="#161616" text-anchor="middle" font-family="Liberation Sans, sans-serif" >ON</text>
<text x="1396.3" y="197.44" font-size="4" font-weight="bold" fill="#161616" text-anchor="middle" font-family="Liberation Sans, sans-serif" >OFF</text>
<rect x="1425.5" y="207.8" width="15.7" height="11.2" fill="#161616"/>
<text x="1433.35" y="217.4" font-size="10.5" font-weight="bold" fill="#fff" text-anchor="middle" font-family="Liberation Sans, sans-serif">8</text>
<text x="1407.5" y="218.64" font-size="5.4" font-weight="bold" fill="#161616" text-anchor="middle" font-family="Liberation Sans, sans-serif" textLength="17" lengthAdjust="spacingAndGlyphs">MIC IN</text>
<rect x="1397.4" y="224.6" width="46" height="62.9" rx="2" fill="#fff" stroke="#161616" stroke-width="1.6"/>
<path d="M1413.4,224.6 v-3 h14 v3 v6 h-3 v4 h-8 v-4 h-3 z" fill="#fff" stroke="#161616" stroke-width="1.3"/>
<circle cx="1419.9" cy="252.7" r="16.8" fill="#fff" stroke="#161616" stroke-width="1.5"/>
<circle cx="1419.9" cy="252.7" r="13" fill="none" stroke="#161616" stroke-width="1.2"/>
<circle cx="1414.6000000000001" cy="250.2" r="2.1" fill="none" stroke="#161616" stroke-width="1.1"/>
<circle cx="1425.2" cy="250.2" r="2.1" fill="none" stroke="#161616" stroke-width="1.1"/>
<circle cx="1419.9" cy="257.7" r="2.1" fill="none" stroke="#161616" stroke-width="1.1"/>
<circle cx="1405.6000000000001" cy="231.9" r="4" fill="#fff" stroke="#161616" stroke-width="1.3"/>
<path d="M1403.0000000000002,231.9 h5.2 M1405.6000000000001,229.3 v5.2" stroke="#161616" stroke-width="1.6"/>
<circle cx="1435.4" cy="280.4" r="4" fill="#fff" stroke="#161616" stroke-width="1.3"/>
<path d="M1432.8000000000002,280.4 h5.2 M1435.4,277.79999999999995 v5.2" stroke="#161616" stroke-width="1.6"/>
<rect x="1497.0" y="62.8" width="61.5" height="240.6" fill="#fff" stroke="#161616" stroke-width="4.4"/>
<text x="1527.7" y="72.37" font-size="5.2" font-weight="bold" fill="#161616" text-anchor="middle" font-family="Liberation Sans, sans-serif" textLength="21" lengthAdjust="spacingAndGlyphs">ACCESS</text>
<text x="1514.2" y="78.17" font-size="5.2" font-weight="bold" fill="#161616" text-anchor="middle" font-family="Liberation Sans, sans-serif" textLength="12" lengthAdjust="spacingAndGlyphs">RCV</text>
<text x="1540.5" y="78.17" font-size="5.2" font-weight="bold" fill="#161616" text-anchor="middle" font-family="Liberation Sans, sans-serif" textLength="14" lengthAdjust="spacingAndGlyphs">SEND</text>
<circle cx="1514.2" cy="92.1" r="10" fill="#fff" stroke="#161616" stroke-width="1.3"/>
<circle cx="1514.2" cy="92.1" r="7.2" fill="none" stroke="#161616" stroke-width="1.9"/>
<circle cx="1514.2" cy="92.1" r="3.8" fill="none" stroke="#161616" stroke-width="1.4"/>
<circle cx="1540.5" cy="92.1" r="10" fill="#fff" stroke="#161616" stroke-width="1.3"/>
<circle cx="1540.5" cy="92.1" r="7.2" fill="none" stroke="#161616" stroke-width="1.9"/>
<circle cx="1540.5" cy="92.1" r="3.8" fill="none" stroke="#161616" stroke-width="1.4"/>
<circle cx="1514.2" cy="123.5" r="10" fill="#fff" stroke="#161616" stroke-width="1.3"/>
<circle cx="1514.2" cy="123.5" r="7.2" fill="none" stroke="#161616" stroke-width="1.9"/>
<circle cx="1514.2" cy="123.5" r="3.8" fill="none" stroke="#161616" stroke-width="1.4"/>
<circle cx="1540.5" cy="123.5" r="10" fill="#fff" stroke="#161616" stroke-width="1.3"/>
<circle cx="1540.5" cy="123.5" r="7.2" fill="none" stroke="#161616" stroke-width="1.9"/>
<circle cx="1540.5" cy="123.5" r="3.8" fill="none" stroke="#161616" stroke-width="1.4"/>
<circle cx="1514.2" cy="155" r="10" fill="#fff" stroke="#161616" stroke-width="1.3"/>
<circle cx="1514.2" cy="155" r="7.2" fill="none" stroke="#161616" stroke-width="1.9"/>
<circle cx="1514.2" cy="155" r="3.8" fill="none" stroke="#161616" stroke-width="1.4"/>
<circle cx="1540.5" cy="155" r="10" fill="#fff" stroke="#161616" stroke-width="1.3"/>
<circle cx="1540.5" cy="155" r="7.2" fill="#8d8d8d" stroke="#161616" stroke-width="2"/>
<circle cx="1540.5" cy="155" r="3.8" fill="#b8b8b8" stroke="#161616" stroke-width="1.0"/>
<text x="1512.3" y="109.37" font-size="5.2" font-weight="bold" fill="#161616" text-anchor="middle" font-family="Liberation Sans, sans-serif" textLength="18.6" lengthAdjust="spacingAndGlyphs">D OUT</text>
<circle cx="1527.7" cy="107.5" r="3.6" fill="#fff" stroke="#161616" stroke-width="1.3"/>
<path d="M1525.1000000000001,107.5 h5.2 M1527.7,104.9 v5.2" stroke="#161616" stroke-width="1.6"/>
<line x1="1540.5" y1="104" x2="1540.5" y2="110" stroke="#161616" stroke-width="1.5"/>
<text x="1509.2" y="141.07" font-size="5.2" font-weight="bold" fill="#161616" text-anchor="middle" font-family="Liberation Sans, sans-serif" textLength="15" lengthAdjust="spacingAndGlyphs">2TR B</text>
<circle cx="1527.7" cy="139.2" r="3.6" fill="#fff" stroke="#161616" stroke-width="1.3"/>
<path d="M1525.1000000000001,139.2 h5.2 M1527.7,136.6 v5.2" stroke="#161616" stroke-width="1.6"/>
<text x="1502.2" y="148.87" font-size="5.2" font-weight="bold" fill="#161616" text-anchor="middle" font-family="Liberation Sans, sans-serif" >R</text>
<text x="1544.6" y="141.07" font-size="5.2" font-weight="bold" fill="#161616" text-anchor="middle" font-family="Liberation Sans, sans-serif" textLength="20" lengthAdjust="spacingAndGlyphs">LINE IN</text>
<text x="1514.7" y="174.37" font-size="5.2" font-weight="bold" fill="#161616" text-anchor="middle" font-family="Liberation Sans, sans-serif" textLength="23" lengthAdjust="spacingAndGlyphs">PHANTOM</text>
<rect x="1510.2" y="177.5" width="8" height="20" fill="#fff" stroke="#161616" stroke-width="1"/>
<rect x="1510.7" y="187.5" width="7" height="10" fill="#555"/>
<text x="1504.1000000000001" y="182.44" font-size="4" font-weight="bold" fill="#161616" text-anchor="middle" font-family="Liberation Sans, sans-serif" >ON</text>
<text x="1503.0" y="197.44" font-size="4" font-weight="bold" fill="#161616" text-anchor="middle" font-family="Liberation Sans, sans-serif" >OFF</text>
<rect x="1532.2" y="207.8" width="16" height="11.2" fill="#161616"/>
<text x="1540.2" y="217.4" font-size="10.5" font-weight="bold" fill="#fff" text-anchor="middle" font-family="Liberation Sans, sans-serif">12</text>
<text x="1514.2" y="218.64" font-size="5.4" font-weight="bold" fill="#161616" text-anchor="middle" font-family="Liberation Sans, sans-serif" textLength="17" lengthAdjust="spacingAndGlyphs">MIC IN</text>
<rect x="1504.1000000000001" y="224.6" width="46" height="62.9" rx="2" fill="#fff" stroke="#161616" stroke-width="1.6"/>
<path d="M1520.1000000000001,224.6 v-3 h14 v3 v6 h-3 v4 h-8 v-4 h-3 z" fill="#fff" stroke="#161616" stroke-width="1.3"/>
<circle cx="1526.6000000000001" cy="252.7" r="16.8" fill="#fff" stroke="#161616" stroke-width="1.5"/>
<circle cx="1526.6000000000001" cy="252.7" r="13" fill="none" stroke="#161616" stroke-width="1.2"/>
<circle cx="1521.3000000000002" cy="250.2" r="2.1" fill="none" stroke="#161616" stroke-width="1.1"/>
<circle cx="1531.9" cy="250.2" r="2.1" fill="none" stroke="#161616" stroke-width="1.1"/>
<circle cx="1526.6000000000001" cy="257.7" r="2.1" fill="none" stroke="#161616" stroke-width="1.1"/>
<circle cx="1512.3000000000002" cy="231.9" r="4" fill="#fff" stroke="#161616" stroke-width="1.3"/>
<path d="M1509.7000000000003,231.9 h5.2 M1512.3000000000002,229.3 v5.2" stroke="#161616" stroke-width="1.6"/>
<circle cx="1542.1000000000001" cy="280.4" r="4" fill="#fff" stroke="#161616" stroke-width="1.3"/>
<path d="M1539.5000000000002,280.4 h5.2 M1542.1000000000001,277.79999999999995 v5.2" stroke="#161616" stroke-width="1.6"/>
</g>
<g id="photos">
<rect x="723.60" y="811.80" width="4.60" height="11.00" fill="#f0509a" />
<rect x="729.30" y="811.80" width="4.60" height="11.00" fill="#f0509a" />
<rect x="735.00" y="811.80" width="4.60" height="11.00" fill="#f4f070" />
<rect x="740.70" y="811.80" width="4.60" height="11.00" fill="#f4f070" />
<rect x="746.40" y="811.80" width="4.60" height="11.00" fill="#f0f080" />
<rect x="752.10" y="811.80" width="4.60" height="11.00" fill="#f4f070" />
<rect x="757.80" y="811.80" width="4.60" height="11.00" fill="#f0509a" />
<rect x="763.50" y="811.80" width="4.60" height="11.00" fill="#f0509a" />
<rect x="769.20" y="811.80" width="4.60" height="11.00" fill="#40c8e8" />
<rect x="774.90" y="811.80" width="4.60" height="11.00" fill="#40c8e8" />
<rect x="780.60" y="811.80" width="4.60" height="11.00" fill="#40c8e8" />
<rect x="786.30" y="811.80" width="4.60" height="11.00" fill="#50d0f0" />
<rect x="792.00" y="811.80" width="4.60" height="11.00" fill="#f4f4f4" />
<rect x="797.70" y="811.80" width="4.60" height="11.00" fill="#202020" />
<rect x="803.40" y="811.80" width="4.60" height="11.00" fill="#f4f4f4" />
<rect x="809.10" y="811.80" width="4.60" height="11.00" fill="#202020" />
<rect x="814.80" y="811.80" width="4.60" height="11.00" fill="#f4f4f4" />
<rect x="822.00" y="819.50" width="94.00" height="5.50" fill="#35503a" />
<rect x="916.00" y="822.00" width="160.00" height="3.00" fill="#3a4a3a" />
<rect x="993.00" y="819.50" width="20.00" height="6.00" fill="#4a6a5a" />
<path d="M681.3,819.4 L697,821 L697,824 L1088,823.5 L1092,820 L1105.7,822 L1105.7,862 L1090,867 L1082,867 L704,867 L695,865.3 L681.3,865.3 Z" fill="#262829"/>
<defs><linearGradient id="brg" x1="0" y1="0" x2="1" y2="0"><stop offset="0" stop-color="#3a4846"/><stop offset="0.2" stop-color="#566c6c"/><stop offset="0.5" stop-color="#8ea6aa"/><stop offset="0.65" stop-color="#9ab2b6"/><stop offset="0.85" stop-color="#7e989c"/><stop offset="1" stop-color="#5e7476"/></linearGradient></defs>
<rect x="688.20" y="825.00" width="404.00" height="33.50" fill="url(#brg)" />
<rect x="688.20" y="857.00" width="404.00" height="15.00" fill="#141516" />
<rect x="712.00" y="858.50" width="24.00" height="5.00" fill="#3a3d3f" />
<rect x="739.50" y="858.50" width="24.00" height="5.00" fill="#3a3d3f" />
<rect x="767.00" y="858.50" width="24.00" height="5.00" fill="#3a3d3f" />
<rect x="794.50" y="858.50" width="24.00" height="5.00" fill="#3a3d3f" />
<rect x="822.00" y="858.50" width="24.00" height="5.00" fill="#3a3d3f" />
<rect x="849.50" y="858.50" width="24.00" height="5.00" fill="#3a3d3f" />
<rect x="877.00" y="858.50" width="24.00" height="5.00" fill="#3a3d3f" />
<rect x="904.50" y="858.50" width="24.00" height="5.00" fill="#3a3d3f" />
<rect x="932.00" y="858.50" width="24.00" height="5.00" fill="#3a3d3f" />
<rect x="959.50" y="858.50" width="24.00" height="5.00" fill="#3a3d3f" />
<rect x="987.00" y="858.50" width="24.00" height="5.00" fill="#3a3d3f" />
<rect x="1014.50" y="858.50" width="24.00" height="5.00" fill="#3a3d3f" />
<rect x="1042.00" y="858.50" width="24.00" height="5.00" fill="#3a3d3f" />
<rect x="1069.50" y="858.50" width="24.00" height="5.00" fill="#3a3d3f" />
<rect x="695.50" y="865.00" width="393.50" height="265.00" fill="#1f1c1f" />
<rect x="704.80" y="870.50" width="378.40" height="236.50" fill="#767b7c" />
<rect x="715.40" y="871.00" width="354.60" height="14.50" fill="#5b6b6e" />
<circle cx="795.00" cy="877.70" r="3" fill="#2a3234" stroke="#1a1e20" stroke-width="0.8"/>
<circle cx="861.00" cy="877.70" r="3" fill="#2a3234" stroke="#1a1e20" stroke-width="0.8"/>
<circle cx="925.70" cy="877.70" r="3" fill="#2a3234" stroke="#1a1e20" stroke-width="0.8"/>
<circle cx="990.50" cy="877.70" r="3" fill="#2a3234" stroke="#1a1e20" stroke-width="0.8"/>
<circle cx="1056.60" cy="877.70" r="3" fill="#2a3234" stroke="#1a1e20" stroke-width="0.8"/>
<circle cx="727.60" cy="877.70" r="1.5" fill="#333" />
<rect x="715.40" y="884.70" width="252.50" height="213.60" fill="#cfcdc7" />
<rect x="967.70" y="887.00" width="102.20" height="211.30" fill="#d4d2ce" />
<rect x="705.50" y="1092.00" width="373.50" height="15.00" fill="#dcdcda" />
<rect x="704.00" y="1107.00" width="376.00" height="20.00" fill="#3a161b" />
<line x1="715.20" y1="885" x2="715.20" y2="1095" stroke="#a9a7a2" stroke-width="0.6"/>
<rect x="718.00" y="891.50" width="6.00" height="1.60" fill="#333" />
<rect x="718.00" y="897.00" width="6.00" height="1.60" fill="#333" />
<rect x="718.00" y="903.00" width="6.00" height="1.60" fill="#333" />
<circle cx="720.70" cy="909.60" r="3.2" fill="#3a2a30" />
<circle cx="721.20" cy="907.90" r="3.1" fill="#ee78c0" />
<rect x="718.00" y="917.50" width="6.00" height="1.80" fill="#2a2a2a" />
<circle cx="720.70" cy="925.20" r="3.3" fill="#1f3a22" />
<circle cx="721.20" cy="923.50" r="3.2" fill="#3cec52" />
<rect x="718.00" y="931.60" width="6.00" height="1.80" fill="#2a2a2a" />
<circle cx="720.70" cy="939.60" r="3.3" fill="#1f3a22" />
<circle cx="721.20" cy="938.00" r="3.2" fill="#42ee56" />
<rect x="723.50" y="943.00" width="2.40" height="9.00" fill="#555" />
<circle cx="718.00" cy="945.00" r="0.9" fill="#444" />
<circle cx="721.40" cy="967.90" r="3.3" fill="#5a4a40" />
<circle cx="720.90" cy="966.70" r="3.1" fill="#f4a068" />
<circle cx="721.40" cy="977.60" r="3.3" fill="#5a4a40" />
<circle cx="720.90" cy="976.40" r="3.1" fill="#f4a068" />
<circle cx="721.40" cy="987.40" r="3.3" fill="#5a4a40" />
<circle cx="720.90" cy="986.20" r="3.1" fill="#f4a068" />
<circle cx="718.50" cy="993.00" r="1.5" fill="#fff" stroke="#999" stroke-width="0.5"/>
<circle cx="723.50" cy="993.00" r="1.5" fill="#fff" stroke="#999" stroke-width="0.5"/>
<circle cx="718.50" cy="998.00" r="1.5" fill="#fff" stroke="#999" stroke-width="0.5"/>
<circle cx="723.50" cy="998.00" r="1.5" fill="#fff" stroke="#999" stroke-width="0.5"/>
<circle cx="718.50" cy="1003.00" r="1.5" fill="#fff" stroke="#999" stroke-width="0.5"/>
<circle cx="723.50" cy="1003.00" r="1.5" fill="#fff" stroke="#999" stroke-width="0.5"/>
<circle cx="718.50" cy="1008.00" r="1.5" fill="#fff" stroke="#999" stroke-width="0.5"/>
<circle cx="723.50" cy="1008.00" r="1.5" fill="#fff" stroke="#999" stroke-width="0.5"/>
<circle cx="718.50" cy="1013.00" r="1.5" fill="#fff" stroke="#999" stroke-width="0.5"/>
<circle cx="723.50" cy="1013.00" r="1.5" fill="#fff" stroke="#999" stroke-width="0.5"/>
<rect x="722.50" y="1008.00" width="2.60" height="8.00" fill="#444" />
<circle cx="721.00" cy="1026.10" r="3.3" fill="#f0f0ee" stroke="#777" stroke-width="0.8"/>
<rect x="720.30" y="1040.50" width="1.60" height="42.00" fill="#222" />
<rect x="717.70" y="1078.50" width="6.60" height="10.50" fill="#7d7773" />
<rect x="718.40" y="1082.00" width="5.20" height="1.20" fill="#b07050" />
<rect x="716.00" y="1050.00" width="10.00" height="2.20" fill="#c4c2be" />
<rect x="716.00" y="1057.00" width="10.00" height="2.20" fill="#c4c2be" />
<line x1="727.60" y1="885" x2="727.60" y2="1095" stroke="#a9a7a2" stroke-width="0.6"/>
<rect x="730.40" y="891.50" width="6.00" height="1.60" fill="#333" />
<rect x="730.40" y="897.00" width="6.00" height="1.60" fill="#333" />
<rect x="730.40" y="903.00" width="6.00" height="1.60" fill="#333" />
<circle cx="733.10" cy="909.60" r="3.2" fill="#3a2a30" />
<circle cx="733.60" cy="907.90" r="3.1" fill="#ee78c0" />
<rect x="730.40" y="917.50" width="6.00" height="1.80" fill="#2a2a2a" />
<circle cx="733.10" cy="925.20" r="3.3" fill="#1f3a22" />
<circle cx="733.60" cy="923.50" r="3.2" fill="#3cec52" />
<rect x="730.40" y="931.60" width="6.00" height="1.80" fill="#2a2a2a" />
<circle cx="733.10" cy="939.60" r="3.3" fill="#1f3a22" />
<circle cx="733.60" cy="938.00" r="3.2" fill="#42ee56" />
<rect x="735.90" y="943.00" width="2.40" height="9.00" fill="#555" />
<circle cx="730.40" cy="945.00" r="0.9" fill="#444" />
<circle cx="733.80" cy="967.90" r="3.3" fill="#5a4a40" />
<circle cx="733.30" cy="966.70" r="3.1" fill="#f4a068" />
<circle cx="733.80" cy="977.60" r="3.3" fill="#5a4a40" />
<circle cx="733.30" cy="976.40" r="3.1" fill="#f4a068" />
<circle cx="733.80" cy="987.40" r="3.3" fill="#5a4a40" />
<circle cx="733.30" cy="986.20" r="3.1" fill="#f4a068" />
<circle cx="730.90" cy="993.00" r="1.5" fill="#fff" stroke="#999" stroke-width="0.5"/>
<circle cx="735.90" cy="993.00" r="1.5" fill="#fff" stroke="#999" stroke-width="0.5"/>
<circle cx="730.90" cy="998.00" r="1.5" fill="#fff" stroke="#999" stroke-width="0.5"/>
<circle cx="735.90" cy="998.00" r="1.5" fill="#fff" stroke="#999" stroke-width="0.5"/>
<circle cx="730.90" cy="1003.00" r="1.5" fill="#fff" stroke="#999" stroke-width="0.5"/>
<circle cx="735.90" cy="1003.00" r="1.5" fill="#fff" stroke="#999" stroke-width="0.5"/>
<circle cx="730.90" cy="1008.00" r="1.5" fill="#fff" stroke="#999" stroke-width="0.5"/>
<circle cx="735.90" cy="1008.00" r="1.5" fill="#fff" stroke="#999" stroke-width="0.5"/>
<circle cx="730.90" cy="1013.00" r="1.5" fill="#fff" stroke="#999" stroke-width="0.5"/>
<circle cx="735.90" cy="1013.00" r="1.5" fill="#fff" stroke="#999" stroke-width="0.5"/>
<rect x="734.90" y="1008.00" width="2.60" height="8.00" fill="#444" />
<circle cx="733.40" cy="1026.10" r="3.3" fill="#f0f0ee" stroke="#777" stroke-width="0.8"/>
<rect x="732.70" y="1040.50" width="1.60" height="42.00" fill="#222" />
<rect x="730.10" y="1078.50" width="6.60" height="10.50" fill="#7d7773" />
<rect x="730.80" y="1082.00" width="5.20" height="1.20" fill="#b07050" />
<rect x="728.40" y="1050.00" width="10.00" height="2.20" fill="#c4c2be" />
<rect x="728.40" y="1057.00" width="10.00" height="2.20" fill="#c4c2be" />
<line x1="740.00" y1="885" x2="740.00" y2="1095" stroke="#a9a7a2" stroke-width="0.6"/>
<rect x="742.80" y="891.50" width="6.00" height="1.60" fill="#333" />
<rect x="742.80" y="897.00" width="6.00" height="1.60" fill="#333" />
<rect x="742.80" y="903.00" width="6.00" height="1.60" fill="#333" />
<circle cx="745.50" cy="909.60" r="3.2" fill="#3a2a30" />
<circle cx="746.00" cy="907.90" r="3.1" fill="#ee78c0" />
<rect x="742.80" y="917.50" width="6.00" height="1.80" fill="#2a2a2a" />
<circle cx="745.50" cy="925.20" r="3.3" fill="#1f3a22" />
<circle cx="746.00" cy="923.50" r="3.2" fill="#3cec52" />
<rect x="742.80" y="931.60" width="6.00" height="1.80" fill="#2a2a2a" />
<circle cx="745.50" cy="939.60" r="3.3" fill="#1f3a22" />
<circle cx="746.00" cy="938.00" r="3.2" fill="#42ee56" />
<rect x="748.30" y="943.00" width="2.40" height="9.00" fill="#555" />
<circle cx="742.80" cy="945.00" r="0.9" fill="#444" />
<circle cx="746.20" cy="967.90" r="3.3" fill="#5a4a40" />
<circle cx="745.70" cy="966.70" r="3.1" fill="#f4a068" />
<circle cx="746.20" cy="977.60" r="3.3" fill="#5a4a40" />
<circle cx="745.70" cy="976.40" r="3.1" fill="#f4a068" />
<circle cx="746.20" cy="987.40" r="3.3" fill="#5a4a40" />
<circle cx="745.70" cy="986.20" r="3.1" fill="#f4a068" />
<circle cx="743.30" cy="993.00" r="1.5" fill="#fff" stroke="#999" stroke-width="0.5"/>
<circle cx="748.30" cy="993.00" r="1.5" fill="#fff" stroke="#999" stroke-width="0.5"/>
<circle cx="743.30" cy="998.00" r="1.5" fill="#fff" stroke="#999" stroke-width="0.5"/>
<circle cx="748.30" cy="998.00" r="1.5" fill="#fff" stroke="#999" stroke-width="0.5"/>
<circle cx="743.30" cy="1003.00" r="1.5" fill="#fff" stroke="#999" stroke-width="0.5"/>
<circle cx="748.30" cy="1003.00" r="1.5" fill="#fff" stroke="#999" stroke-width="0.5"/>
<circle cx="743.30" cy="1008.00" r="1.5" fill="#fff" stroke="#999" stroke-width="0.5"/>
<circle cx="748.30" cy="1008.00" r="1.5" fill="#fff" stroke="#999" stroke-width="0.5"/>
<circle cx="743.30" cy="1013.00" r="1.5" fill="#fff" stroke="#999" stroke-width="0.5"/>
<circle cx="748.30" cy="1013.00" r="1.5" fill="#fff" stroke="#999" stroke-width="0.5"/>
<rect x="747.30" y="1008.00" width="2.60" height="8.00" fill="#444" />
<circle cx="745.80" cy="1026.10" r="3.3" fill="#f0f0ee" stroke="#777" stroke-width="0.8"/>
<rect x="745.10" y="1040.50" width="1.60" height="42.00" fill="#222" />
<rect x="742.50" y="1078.50" width="6.60" height="10.50" fill="#7d7773" />
<rect x="743.20" y="1082.00" width="5.20" height="1.20" fill="#b07050" />
<rect x="740.80" y="1050.00" width="10.00" height="2.20" fill="#c4c2be" />
<rect x="740.80" y="1057.00" width="10.00" height="2.20" fill="#c4c2be" />
<line x1="752.40" y1="885" x2="752.40" y2="1095" stroke="#a9a7a2" stroke-width="0.6"/>
<rect x="755.20" y="891.50" width="6.00" height="1.60" fill="#333" />
<rect x="755.20" y="897.00" width="6.00" height="1.60" fill="#333" />
<rect x="755.20" y="903.00" width="6.00" height="1.60" fill="#333" />
<circle cx="757.90" cy="909.60" r="3.2" fill="#3a2a30" />
<circle cx="758.40" cy="907.90" r="3.1" fill="#ee78c0" />
<rect x="755.20" y="917.50" width="6.00" height="1.80" fill="#2a2a2a" />
<circle cx="757.90" cy="925.20" r="3.3" fill="#1f3a22" />
<circle cx="758.40" cy="923.50" r="3.2" fill="#3cec52" />
<rect x="755.20" y="931.60" width="6.00" height="1.80" fill="#2a2a2a" />
<circle cx="757.90" cy="939.60" r="3.3" fill="#1f3a22" />
<circle cx="758.40" cy="938.00" r="3.2" fill="#42ee56" />
<rect x="760.70" y="943.00" width="2.40" height="9.00" fill="#555" />
<circle cx="755.20" cy="945.00" r="0.9" fill="#444" />
<circle cx="758.60" cy="967.90" r="3.3" fill="#5a4a40" />
<circle cx="758.10" cy="966.70" r="3.1" fill="#f4a068" />
<circle cx="758.60" cy="977.60" r="3.3" fill="#5a4a40" />
<circle cx="758.10" cy="976.40" r="3.1" fill="#f4a068" />
<circle cx="758.60" cy="987.40" r="3.3" fill="#5a4a40" />
<circle cx="758.10" cy="986.20" r="3.1" fill="#f4a068" />
<circle cx="755.70" cy="993.00" r="1.5" fill="#fff" stroke="#999" stroke-width="0.5"/>
<circle cx="760.70" cy="993.00" r="1.5" fill="#fff" stroke="#999" stroke-width="0.5"/>
<circle cx="755.70" cy="998.00" r="1.5" fill="#fff" stroke="#999" stroke-width="0.5"/>
<circle cx="760.70" cy="998.00" r="1.5" fill="#fff" stroke="#999" stroke-width="0.5"/>
<circle cx="755.70" cy="1003.00" r="1.5" fill="#fff" stroke="#999" stroke-width="0.5"/>
<circle cx="760.70" cy="1003.00" r="1.5" fill="#fff" stroke="#999" stroke-width="0.5"/>
<circle cx="755.70" cy="1008.00" r="1.5" fill="#fff" stroke="#999" stroke-width="0.5"/>
<circle cx="760.70" cy="1008.00" r="1.5" fill="#fff" stroke="#999" stroke-width="0.5"/>
<circle cx="755.70" cy="1013.00" r="1.5" fill="#fff" stroke="#999" stroke-width="0.5"/>
<circle cx="760.70" cy="1013.00" r="1.5" fill="#fff" stroke="#999" stroke-width="0.5"/>
<rect x="759.70" y="1008.00" width="2.60" height="8.00" fill="#444" />
<circle cx="758.20" cy="1026.10" r="3.3" fill="#f0f0ee" stroke="#777" stroke-width="0.8"/>
<rect x="757.50" y="1040.50" width="1.60" height="42.00" fill="#222" />
<rect x="754.90" y="1078.50" width="6.60" height="10.50" fill="#7d7773" />
<rect x="755.60" y="1082.00" width="5.20" height="1.20" fill="#b07050" />
<rect x="753.20" y="1050.00" width="10.00" height="2.20" fill="#c4c2be" />
<rect x="753.20" y="1057.00" width="10.00" height="2.20" fill="#c4c2be" />
<line x1="766.50" y1="885" x2="766.50" y2="1095" stroke="#a9a7a2" stroke-width="0.6"/>
<rect x="769.30" y="891.50" width="6.00" height="1.60" fill="#333" />
<rect x="769.30" y="897.00" width="6.00" height="1.60" fill="#333" />
<rect x="769.30" y="903.00" width="6.00" height="1.60" fill="#333" />
<circle cx="772.00" cy="909.60" r="3.2" fill="#3a2a30" />
<circle cx="772.50" cy="907.90" r="3.1" fill="#ee78c0" />
<rect x="769.30" y="917.50" width="6.00" height="1.80" fill="#2a2a2a" />
<circle cx="772.00" cy="925.20" r="3.3" fill="#1f3a22" />
<circle cx="772.50" cy="923.50" r="3.2" fill="#3cec52" />
<rect x="769.30" y="931.60" width="6.00" height="1.80" fill="#2a2a2a" />
<circle cx="772.00" cy="939.60" r="3.3" fill="#1f3a22" />
<circle cx="772.50" cy="938.00" r="3.2" fill="#42ee56" />
<rect x="774.80" y="943.00" width="2.40" height="9.00" fill="#555" />
<circle cx="769.30" cy="945.00" r="0.9" fill="#444" />
<circle cx="772.70" cy="967.90" r="3.3" fill="#5a4a40" />
<circle cx="772.20" cy="966.70" r="3.1" fill="#f4a068" />
<circle cx="772.70" cy="977.60" r="3.3" fill="#5a4a40" />
<circle cx="772.20" cy="976.40" r="3.1" fill="#f4a068" />
<circle cx="772.70" cy="987.40" r="3.3" fill="#5a4a40" />
<circle cx="772.20" cy="986.20" r="3.1" fill="#f4a068" />
<circle cx="769.80" cy="993.00" r="1.5" fill="#fff" stroke="#999" stroke-width="0.5"/>
<circle cx="774.80" cy="993.00" r="1.5" fill="#fff" stroke="#999" stroke-width="0.5"/>
<circle cx="769.80" cy="998.00" r="1.5" fill="#fff" stroke="#999" stroke-width="0.5"/>
<circle cx="774.80" cy="998.00" r="1.5" fill="#fff" stroke="#999" stroke-width="0.5"/>
<circle cx="769.80" cy="1003.00" r="1.5" fill="#fff" stroke="#999" stroke-width="0.5"/>
<circle cx="774.80" cy="1003.00" r="1.5" fill="#fff" stroke="#999" stroke-width="0.5"/>
<circle cx="769.80" cy="1008.00" r="1.5" fill="#fff" stroke="#999" stroke-width="0.5"/>
<circle cx="774.80" cy="1008.00" r="1.5" fill="#fff" stroke="#999" stroke-width="0.5"/>
<circle cx="769.80" cy="1013.00" r="1.5" fill="#fff" stroke="#999" stroke-width="0.5"/>
<circle cx="774.80" cy="1013.00" r="1.5" fill="#fff" stroke="#999" stroke-width="0.5"/>
<rect x="773.80" y="1008.00" width="2.60" height="8.00" fill="#444" />
<circle cx="772.30" cy="1026.10" r="3.3" fill="#f0f0ee" stroke="#777" stroke-width="0.8"/>
<rect x="771.60" y="1040.50" width="1.60" height="42.00" fill="#222" />
<rect x="769.00" y="1078.50" width="6.60" height="10.50" fill="#7d7773" />
<rect x="769.70" y="1082.00" width="5.20" height="1.20" fill="#b07050" />
<rect x="767.30" y="1050.00" width="10.00" height="2.20" fill="#c4c2be" />
<rect x="767.30" y="1057.00" width="10.00" height="2.20" fill="#c4c2be" />
<line x1="778.90" y1="885" x2="778.90" y2="1095" stroke="#a9a7a2" stroke-width="0.6"/>
<rect x="781.70" y="891.50" width="6.00" height="1.60" fill="#333" />
<rect x="781.70" y="897.00" width="6.00" height="1.60" fill="#333" />
<rect x="781.70" y="903.00" width="6.00" height="1.60" fill="#333" />
<circle cx="784.40" cy="909.60" r="3.2" fill="#3a2a30" />
<circle cx="784.90" cy="907.90" r="3.1" fill="#ee78c0" />
<rect x="781.70" y="917.50" width="6.00" height="1.80" fill="#2a2a2a" />
<circle cx="784.40" cy="925.20" r="3.3" fill="#1f3a22" />
<circle cx="784.90" cy="923.50" r="3.2" fill="#3cec52" />
<rect x="781.70" y="931.60" width="6.00" height="1.80" fill="#2a2a2a" />
<circle cx="784.40" cy="939.60" r="3.3" fill="#1f3a22" />
<circle cx="784.90" cy="938.00" r="3.2" fill="#42ee56" />
<rect x="787.20" y="943.00" width="2.40" height="9.00" fill="#555" />
<circle cx="781.70" cy="945.00" r="0.9" fill="#444" />
<circle cx="785.10" cy="967.90" r="3.3" fill="#5a4a40" />
<circle cx="784.60" cy="966.70" r="3.1" fill="#f4a068" />
<circle cx="785.10" cy="977.60" r="3.3" fill="#5a4a40" />
<circle cx="784.60" cy="976.40" r="3.1" fill="#f4a068" />
<circle cx="785.10" cy="987.40" r="3.3" fill="#5a4a40" />
<circle cx="784.60" cy="986.20" r="3.1" fill="#f4a068" />
<circle cx="782.20" cy="993.00" r="1.5" fill="#fff" stroke="#999" stroke-width="0.5"/>
<circle cx="787.20" cy="993.00" r="1.5" fill="#fff" stroke="#999" stroke-width="0.5"/>
<circle cx="782.20" cy="998.00" r="1.5" fill="#fff" stroke="#999" stroke-width="0.5"/>
<circle cx="787.20" cy="998.00" r="1.5" fill="#fff" stroke="#999" stroke-width="0.5"/>
<circle cx="782.20" cy="1003.00" r="1.5" fill="#fff" stroke="#999" stroke-width="0.5"/>
<circle cx="787.20" cy="1003.00" r="1.5" fill="#fff" stroke="#999" stroke-width="0.5"/>
<circle cx="782.20" cy="1008.00" r="1.5" fill="#fff" stroke="#999" stroke-width="0.5"/>
<circle cx="787.20" cy="1008.00" r="1.5" fill="#fff" stroke="#999" stroke-width="0.5"/>
<circle cx="782.20" cy="1013.00" r="1.5" fill="#fff" stroke="#999" stroke-width="0.5"/>
<circle cx="787.20" cy="1013.00" r="1.5" fill="#fff" stroke="#999" stroke-width="0.5"/>
<rect x="786.20" y="1008.00" width="2.60" height="8.00" fill="#444" />
<circle cx="784.70" cy="1026.10" r="3.3" fill="#f0f0ee" stroke="#777" stroke-width="0.8"/>
<rect x="784.00" y="1040.50" width="1.60" height="42.00" fill="#222" />
<rect x="781.40" y="1078.50" width="6.60" height="10.50" fill="#7d7773" />
<rect x="782.10" y="1082.00" width="5.20" height="1.20" fill="#b07050" />
<rect x="779.70" y="1050.00" width="10.00" height="2.20" fill="#c4c2be" />
<rect x="779.70" y="1057.00" width="10.00" height="2.20" fill="#c4c2be" />
<line x1="791.30" y1="885" x2="791.30" y2="1095" stroke="#a9a7a2" stroke-width="0.6"/>
<rect x="794.10" y="891.50" width="6.00" height="1.60" fill="#333" />
<rect x="794.10" y="897.00" width="6.00" height="1.60" fill="#333" />
<rect x="794.10" y="903.00" width="6.00" height="1.60" fill="#333" />
<circle cx="796.80" cy="909.60" r="3.2" fill="#3a2a30" />
<circle cx="797.30" cy="907.90" r="3.1" fill="#ee78c0" />
<rect x="794.10" y="917.50" width="6.00" height="1.80" fill="#2a2a2a" />
<circle cx="796.80" cy="925.20" r="3.3" fill="#1f3a22" />
<circle cx="797.30" cy="923.50" r="3.2" fill="#3cec52" />
<rect x="794.10" y="931.60" width="6.00" height="1.80" fill="#2a2a2a" />
<circle cx="796.80" cy="939.60" r="3.3" fill="#1f3a22" />
<circle cx="797.30" cy="938.00" r="3.2" fill="#42ee56" />
<rect x="799.60" y="943.00" width="2.40" height="9.00" fill="#555" />
<circle cx="794.10" cy="945.00" r="0.9" fill="#444" />
<circle cx="797.50" cy="967.90" r="3.3" fill="#5a4a40" />
<circle cx="797.00" cy="966.70" r="3.1" fill="#f4a068" />
<circle cx="797.50" cy="977.60" r="3.3" fill="#5a4a40" />
<circle cx="797.00" cy="976.40" r="3.1" fill="#f4a068" />
<circle cx="797.50" cy="987.40" r="3.3" fill="#5a4a40" />
<circle cx="797.00" cy="986.20" r="3.1" fill="#f4a068" />
<circle cx="794.60" cy="993.00" r="1.5" fill="#fff" stroke="#999" stroke-width="0.5"/>
<circle cx="799.60" cy="993.00" r="1.5" fill="#fff" stroke="#999" stroke-width="0.5"/>
<circle cx="794.60" cy="998.00" r="1.5" fill="#fff" stroke="#999" stroke-width="0.5"/>
<circle cx="799.60" cy="998.00" r="1.5" fill="#fff" stroke="#999" stroke-width="0.5"/>
<circle cx="794.60" cy="1003.00" r="1.5" fill="#fff" stroke="#999" stroke-width="0.5"/>
<circle cx="799.60" cy="1003.00" r="1.5" fill="#fff" stroke="#999" stroke-width="0.5"/>
<circle cx="794.60" cy="1008.00" r="1.5" fill="#fff" stroke="#999" stroke-width="0.5"/>
<circle cx="799.60" cy="1008.00" r="1.5" fill="#fff" stroke="#999" stroke-width="0.5"/>
<circle cx="794.60" cy="1013.00" r="1.5" fill="#fff" stroke="#999" stroke-width="0.5"/>
<circle cx="799.60" cy="1013.00" r="1.5" fill="#fff" stroke="#999" stroke-width="0.5"/>
<rect x="798.60" y="1008.00" width="2.60" height="8.00" fill="#444" />
<circle cx="797.10" cy="1026.10" r="3.3" fill="#f0f0ee" stroke="#777" stroke-width="0.8"/>
<rect x="796.40" y="1040.50" width="1.60" height="42.00" fill="#222" />
<rect x="793.80" y="1078.50" width="6.60" height="10.50" fill="#7d7773" />
<rect x="794.50" y="1082.00" width="5.20" height="1.20" fill="#b07050" />
<rect x="792.10" y="1050.00" width="10.00" height="2.20" fill="#c4c2be" />
<rect x="792.10" y="1057.00" width="10.00" height="2.20" fill="#c4c2be" />
<line x1="803.70" y1="885" x2="803.70" y2="1095" stroke="#a9a7a2" stroke-width="0.6"/>
<rect x="806.50" y="891.50" width="6.00" height="1.60" fill="#333" />
<rect x="806.50" y="897.00" width="6.00" height="1.60" fill="#333" />
<rect x="806.50" y="903.00" width="6.00" height="1.60" fill="#333" />
<circle cx="809.20" cy="909.60" r="3.2" fill="#3a2a30" />
<circle cx="809.70" cy="907.90" r="3.1" fill="#ee78c0" />
<rect x="806.50" y="917.50" width="6.00" height="1.80" fill="#2a2a2a" />
<circle cx="809.20" cy="925.20" r="3.3" fill="#1f3a22" />
<circle cx="809.70" cy="923.50" r="3.2" fill="#3cec52" />
<rect x="806.50" y="931.60" width="6.00" height="1.80" fill="#2a2a2a" />
<circle cx="809.20" cy="939.60" r="3.3" fill="#1f3a22" />
<circle cx="809.70" cy="938.00" r="3.2" fill="#42ee56" />
<rect x="812.00" y="943.00" width="2.40" height="9.00" fill="#555" />
<circle cx="806.50" cy="945.00" r="0.9" fill="#444" />
<circle cx="809.90" cy="967.90" r="3.3" fill="#5a4a40" />
<circle cx="809.40" cy="966.70" r="3.1" fill="#f4a068" />
<circle cx="809.90" cy="977.60" r="3.3" fill="#5a4a40" />
<circle cx="809.40" cy="976.40" r="3.1" fill="#f4a068" />
<circle cx="809.90" cy="987.40" r="3.3" fill="#5a4a40" />
<circle cx="809.40" cy="986.20" r="3.1" fill="#f4a068" />
<circle cx="807.00" cy="993.00" r="1.5" fill="#fff" stroke="#999" stroke-width="0.5"/>
<circle cx="812.00" cy="993.00" r="1.5" fill="#fff" stroke="#999" stroke-width="0.5"/>
<circle cx="807.00" cy="998.00" r="1.5" fill="#fff" stroke="#999" stroke-width="0.5"/>
<circle cx="812.00" cy="998.00" r="1.5" fill="#fff" stroke="#999" stroke-width="0.5"/>
<circle cx="807.00" cy="1003.00" r="1.5" fill="#fff" stroke="#999" stroke-width="0.5"/>
<circle cx="812.00" cy="1003.00" r="1.5" fill="#fff" stroke="#999" stroke-width="0.5"/>
<circle cx="807.00" cy="1008.00" r="1.5" fill="#fff" stroke="#999" stroke-width="0.5"/>
<circle cx="812.00" cy="1008.00" r="1.5" fill="#fff" stroke="#999" stroke-width="0.5"/>
<circle cx="807.00" cy="1013.00" r="1.5" fill="#fff" stroke="#999" stroke-width="0.5"/>
<circle cx="812.00" cy="1013.00" r="1.5" fill="#fff" stroke="#999" stroke-width="0.5"/>
<rect x="811.00" y="1008.00" width="2.60" height="8.00" fill="#444" />
<circle cx="809.50" cy="1026.10" r="3.3" fill="#f0f0ee" stroke="#777" stroke-width="0.8"/>
<rect x="808.80" y="1040.50" width="1.60" height="42.00" fill="#222" />
<rect x="806.20" y="1078.50" width="6.60" height="10.50" fill="#7d7773" />
<rect x="806.90" y="1082.00" width="5.20" height="1.20" fill="#b07050" />
<rect x="804.50" y="1050.00" width="10.00" height="2.20" fill="#c4c2be" />
<rect x="804.50" y="1057.00" width="10.00" height="2.20" fill="#c4c2be" />
<line x1="817.80" y1="885" x2="817.80" y2="1095" stroke="#a9a7a2" stroke-width="0.6"/>
<rect x="820.60" y="891.50" width="6.00" height="1.60" fill="#333" />
<rect x="820.60" y="897.00" width="6.00" height="1.60" fill="#333" />
<rect x="820.60" y="903.00" width="6.00" height="1.60" fill="#333" />
<circle cx="823.30" cy="909.60" r="3.2" fill="#3a2a30" />
<circle cx="823.80" cy="907.90" r="3.1" fill="#ee78c0" />
<rect x="820.60" y="917.50" width="6.00" height="1.80" fill="#2a2a2a" />
<circle cx="823.30" cy="925.20" r="3.3" fill="#1f3a22" />
<circle cx="823.80" cy="923.50" r="3.2" fill="#3cec52" />
<rect x="820.60" y="931.60" width="6.00" height="1.80" fill="#2a2a2a" />
<circle cx="823.30" cy="939.60" r="3.3" fill="#1f3a22" />
<circle cx="823.80" cy="938.00" r="3.2" fill="#42ee56" />
<rect x="826.10" y="943.00" width="2.40" height="9.00" fill="#555" />
<circle cx="820.60" cy="945.00" r="0.9" fill="#444" />
<circle cx="824.00" cy="967.90" r="3.3" fill="#5a4a40" />
<circle cx="823.50" cy="966.70" r="3.1" fill="#f4a068" />
<circle cx="824.00" cy="977.60" r="3.3" fill="#5a4a40" />
<circle cx="823.50" cy="976.40" r="3.1" fill="#f4a068" />
<circle cx="824.00" cy="987.40" r="3.3" fill="#5a4a40" />
<circle cx="823.50" cy="986.20" r="3.1" fill="#f4a068" />
<circle cx="821.10" cy="993.00" r="1.5" fill="#fff" stroke="#999" stroke-width="0.5"/>
<circle cx="826.10" cy="993.00" r="1.5" fill="#fff" stroke="#999" stroke-width="0.5"/>
<circle cx="821.10" cy="998.00" r="1.5" fill="#fff" stroke="#999" stroke-width="0.5"/>
<circle cx="826.10" cy="998.00" r="1.5" fill="#fff" stroke="#999" stroke-width="0.5"/>
<circle cx="821.10" cy="1003.00" r="1.5" fill="#fff" stroke="#999" stroke-width="0.5"/>
<circle cx="826.10" cy="1003.00" r="1.5" fill="#fff" stroke="#999" stroke-width="0.5"/>
<circle cx="821.10" cy="1008.00" r="1.5" fill="#fff" stroke="#999" stroke-width="0.5"/>
<circle cx="826.10" cy="1008.00" r="1.5" fill="#fff" stroke="#999" stroke-width="0.5"/>
<circle cx="821.10" cy="1013.00" r="1.5" fill="#fff" stroke="#999" stroke-width="0.5"/>
<circle cx="826.10" cy="1013.00" r="1.5" fill="#fff" stroke="#999" stroke-width="0.5"/>
<rect x="825.10" y="1008.00" width="2.60" height="8.00" fill="#444" />
<circle cx="823.60" cy="1026.10" r="3.3" fill="#f0f0ee" stroke="#777" stroke-width="0.8"/>
<rect x="822.90" y="1040.50" width="1.60" height="42.00" fill="#222" />
<rect x="820.30" y="1078.50" width="6.60" height="10.50" fill="#7d7773" />
<rect x="821.00" y="1082.00" width="5.20" height="1.20" fill="#b07050" />
<rect x="818.60" y="1050.00" width="10.00" height="2.20" fill="#c4c2be" />
<rect x="818.60" y="1057.00" width="10.00" height="2.20" fill="#c4c2be" />
<line x1="830.20" y1="885" x2="830.20" y2="1095" stroke="#a9a7a2" stroke-width="0.6"/>
<rect x="833.00" y="891.50" width="6.00" height="1.60" fill="#333" />
<rect x="833.00" y="897.00" width="6.00" height="1.60" fill="#333" />
<rect x="833.00" y="903.00" width="6.00" height="1.60" fill="#333" />
<circle cx="835.70" cy="909.60" r="3.2" fill="#3a2a30" />
<circle cx="836.20" cy="907.90" r="3.1" fill="#ee78c0" />
<rect x="833.00" y="917.50" width="6.00" height="1.80" fill="#2a2a2a" />
<circle cx="835.70" cy="925.20" r="3.3" fill="#1f3a22" />
<circle cx="836.20" cy="923.50" r="3.2" fill="#3cec52" />
<rect x="833.00" y="931.60" width="6.00" height="1.80" fill="#2a2a2a" />
<circle cx="835.70" cy="939.60" r="3.3" fill="#1f3a22" />
<circle cx="836.20" cy="938.00" r="3.2" fill="#42ee56" />
<rect x="838.50" y="943.00" width="2.40" height="9.00" fill="#555" />
<circle cx="833.00" cy="945.00" r="0.9" fill="#444" />
<circle cx="836.40" cy="967.90" r="3.3" fill="#5a4a40" />
<circle cx="835.90" cy="966.70" r="3.1" fill="#f4a068" />
<circle cx="836.40" cy="977.60" r="3.3" fill="#5a4a40" />
<circle cx="835.90" cy="976.40" r="3.1" fill="#f4a068" />
<circle cx="836.40" cy="987.40" r="3.3" fill="#5a4a40" />
<circle cx="835.90" cy="986.20" r="3.1" fill="#f4a068" />
<circle cx="833.50" cy="993.00" r="1.5" fill="#fff" stroke="#999" stroke-width="0.5"/>
<circle cx="838.50" cy="993.00" r="1.5" fill="#fff" stroke="#999" stroke-width="0.5"/>
<circle cx="833.50" cy="998.00" r="1.5" fill="#fff" stroke="#999" stroke-width="0.5"/>
<circle cx="838.50" cy="998.00" r="1.5" fill="#fff" stroke="#999" stroke-width="0.5"/>
<circle cx="833.50" cy="1003.00" r="1.5" fill="#fff" stroke="#999" stroke-width="0.5"/>
<circle cx="838.50" cy="1003.00" r="1.5" fill="#fff" stroke="#999" stroke-width="0.5"/>
<circle cx="833.50" cy="1008.00" r="1.5" fill="#fff" stroke="#999" stroke-width="0.5"/>
<circle cx="838.50" cy="1008.00" r="1.5" fill="#fff" stroke="#999" stroke-width="0.5"/>
<circle cx="833.50" cy="1013.00" r="1.5" fill="#fff" stroke="#999" stroke-width="0.5"/>
<circle cx="838.50" cy="1013.00" r="1.5" fill="#fff" stroke="#999" stroke-width="0.5"/>
<rect x="837.50" y="1008.00" width="2.60" height="8.00" fill="#444" />
<circle cx="836.00" cy="1026.10" r="3.3" fill="#f0f0ee" stroke="#777" stroke-width="0.8"/>
<rect x="835.30" y="1040.50" width="1.60" height="42.00" fill="#222" />
<rect x="832.70" y="1078.50" width="6.60" height="10.50" fill="#7d7773" />
<rect x="833.40" y="1082.00" width="5.20" height="1.20" fill="#b07050" />
<rect x="831.00" y="1050.00" width="10.00" height="2.20" fill="#c4c2be" />
<rect x="831.00" y="1057.00" width="10.00" height="2.20" fill="#c4c2be" />
<line x1="842.60" y1="885" x2="842.60" y2="1095" stroke="#a9a7a2" stroke-width="0.6"/>
<rect x="845.40" y="891.50" width="6.00" height="1.60" fill="#333" />
<rect x="845.40" y="897.00" width="6.00" height="1.60" fill="#333" />
<rect x="845.40" y="903.00" width="6.00" height="1.60" fill="#333" />
<circle cx="848.10" cy="909.60" r="3.2" fill="#3a2a30" />
<circle cx="848.60" cy="907.90" r="3.1" fill="#ee78c0" />
<rect x="845.40" y="917.50" width="6.00" height="1.80" fill="#2a2a2a" />
<circle cx="848.10" cy="925.20" r="3.3" fill="#1f3a22" />
<circle cx="848.60" cy="923.50" r="3.2" fill="#3cec52" />
<rect x="845.40" y="931.60" width="6.00" height="1.80" fill="#2a2a2a" />
<circle cx="848.10" cy="939.60" r="3.3" fill="#1f3a22" />
<circle cx="848.60" cy="938.00" r="3.2" fill="#42ee56" />
<rect x="850.90" y="943.00" width="2.40" height="9.00" fill="#555" />
<circle cx="845.40" cy="945.00" r="0.9" fill="#444" />
<circle cx="848.80" cy="967.90" r="3.3" fill="#5a4a40" />
<circle cx="848.30" cy="966.70" r="3.1" fill="#f4a068" />
<circle cx="848.80" cy="977.60" r="3.3" fill="#5a4a40" />
<circle cx="848.30" cy="976.40" r="3.1" fill="#f4a068" />
<circle cx="848.80" cy="987.40" r="3.3" fill="#5a4a40" />
<circle cx="848.30" cy="986.20" r="3.1" fill="#f4a068" />
<circle cx="845.90" cy="993.00" r="1.5" fill="#fff" stroke="#999" stroke-width="0.5"/>
<circle cx="850.90" cy="993.00" r="1.5" fill="#fff" stroke="#999" stroke-width="0.5"/>
<circle cx="845.90" cy="998.00" r="1.5" fill="#fff" stroke="#999" stroke-width="0.5"/>
<circle cx="850.90" cy="998.00" r="1.5" fill="#fff" stroke="#999" stroke-width="0.5"/>
<circle cx="845.90" cy="1003.00" r="1.5" fill="#fff" stroke="#999" stroke-width="0.5"/>
<circle cx="850.90" cy="1003.00" r="1.5" fill="#fff" stroke="#999" stroke-width="0.5"/>
<circle cx="845.90" cy="1008.00" r="1.5" fill="#fff" stroke="#999" stroke-width="0.5"/>
<circle cx="850.90" cy="1008.00" r="1.5" fill="#fff" stroke="#999" stroke-width="0.5"/>
<circle cx="845.90" cy="1013.00" r="1.5" fill="#fff" stroke="#999" stroke-width="0.5"/>
<circle cx="850.90" cy="1013.00" r="1.5" fill="#fff" stroke="#999" stroke-width="0.5"/>
<rect x="849.90" y="1008.00" width="2.60" height="8.00" fill="#444" />
<circle cx="848.40" cy="1026.10" r="3.3" fill="#f0f0ee" stroke="#777" stroke-width="0.8"/>
<rect x="847.70" y="1040.50" width="1.60" height="42.00" fill="#222" />
<rect x="845.10" y="1078.50" width="6.60" height="10.50" fill="#7d7773" />
<rect x="845.80" y="1082.00" width="5.20" height="1.20" fill="#b07050" />
<rect x="843.40" y="1050.00" width="10.00" height="2.20" fill="#c4c2be" />
<rect x="843.40" y="1057.00" width="10.00" height="2.20" fill="#c4c2be" />
<line x1="855.00" y1="885" x2="855.00" y2="1095" stroke="#a9a7a2" stroke-width="0.6"/>
<rect x="857.80" y="891.50" width="6.00" height="1.60" fill="#333" />
<rect x="857.80" y="897.00" width="6.00" height="1.60" fill="#333" />
<rect x="857.80" y="903.00" width="6.00" height="1.60" fill="#333" />
<circle cx="860.50" cy="909.60" r="3.2" fill="#3a2a30" />
<circle cx="861.00" cy="907.90" r="3.1" fill="#ee78c0" />
<rect x="857.80" y="917.50" width="6.00" height="1.80" fill="#2a2a2a" />
<circle cx="860.50" cy="925.20" r="3.3" fill="#1f3a22" />
<circle cx="861.00" cy="923.50" r="3.2" fill="#3cec52" />
<rect x="857.80" y="931.60" width="6.00" height="1.80" fill="#2a2a2a" />
<circle cx="860.50" cy="939.60" r="3.3" fill="#1f3a22" />
<circle cx="861.00" cy="938.00" r="3.2" fill="#42ee56" />
<rect x="863.30" y="943.00" width="2.40" height="9.00" fill="#555" />
<circle cx="857.80" cy="945.00" r="0.9" fill="#444" />
<circle cx="861.20" cy="967.90" r="3.3" fill="#5a4a40" />
<circle cx="860.70" cy="966.70" r="3.1" fill="#f4a068" />
<circle cx="861.20" cy="977.60" r="3.3" fill="#5a4a40" />
<circle cx="860.70" cy="976.40" r="3.1" fill="#f4a068" />
<circle cx="861.20" cy="987.40" r="3.3" fill="#5a4a40" />
<circle cx="860.70" cy="986.20" r="3.1" fill="#f4a068" />
<circle cx="858.30" cy="993.00" r="1.5" fill="#fff" stroke="#999" stroke-width="0.5"/>
<circle cx="863.30" cy="993.00" r="1.5" fill="#fff" stroke="#999" stroke-width="0.5"/>
<circle cx="858.30" cy="998.00" r="1.5" fill="#fff" stroke="#999" stroke-width="0.5"/>
<circle cx="863.30" cy="998.00" r="1.5" fill="#fff" stroke="#999" stroke-width="0.5"/>
<circle cx="858.30" cy="1003.00" r="1.5" fill="#fff" stroke="#999" stroke-width="0.5"/>
<circle cx="863.30" cy="1003.00" r="1.5" fill="#fff" stroke="#999" stroke-width="0.5"/>
<circle cx="858.30" cy="1008.00" r="1.5" fill="#fff" stroke="#999" stroke-width="0.5"/>
<circle cx="863.30" cy="1008.00" r="1.5" fill="#fff" stroke="#999" stroke-width="0.5"/>
<circle cx="858.30" cy="1013.00" r="1.5" fill="#fff" stroke="#999" stroke-width="0.5"/>
<circle cx="863.30" cy="1013.00" r="1.5" fill="#fff" stroke="#999" stroke-width="0.5"/>
<rect x="862.30" y="1008.00" width="2.60" height="8.00" fill="#444" />
<circle cx="860.80" cy="1026.10" r="3.3" fill="#f0f0ee" stroke="#777" stroke-width="0.8"/>
<rect x="860.10" y="1040.50" width="1.60" height="42.00" fill="#222" />
<rect x="857.50" y="1078.50" width="6.60" height="10.50" fill="#7d7773" />
<rect x="858.20" y="1082.00" width="5.20" height="1.20" fill="#b07050" />
<rect x="855.80" y="1050.00" width="10.00" height="2.20" fill="#c4c2be" />
<rect x="855.80" y="1057.00" width="10.00" height="2.20" fill="#c4c2be" />
<line x1="869.10" y1="885" x2="869.10" y2="1095" stroke="#a9a7a2" stroke-width="0.6"/>
<rect x="871.90" y="891.50" width="6.00" height="1.60" fill="#333" />
<rect x="871.90" y="897.00" width="6.00" height="1.60" fill="#333" />
<rect x="871.90" y="903.00" width="6.00" height="1.60" fill="#333" />
<circle cx="874.60" cy="909.60" r="3.2" fill="#3a2a30" />
<circle cx="875.10" cy="907.90" r="3.1" fill="#ee78c0" />
<rect x="871.90" y="917.50" width="6.00" height="1.80" fill="#2a2a2a" />
<circle cx="874.60" cy="925.20" r="3.3" fill="#1f3a22" />
<circle cx="875.10" cy="923.50" r="3.2" fill="#3cec52" />
<rect x="871.90" y="931.60" width="6.00" height="1.80" fill="#2a2a2a" />
<circle cx="874.60" cy="939.60" r="3.3" fill="#1f3a22" />
<circle cx="875.10" cy="938.00" r="3.2" fill="#42ee56" />
<rect x="877.40" y="943.00" width="2.40" height="9.00" fill="#555" />
<circle cx="871.90" cy="945.00" r="0.9" fill="#444" />
<circle cx="875.30" cy="967.90" r="3.3" fill="#5a4a40" />
<circle cx="874.80" cy="966.70" r="3.1" fill="#f4a068" />
<circle cx="875.30" cy="977.60" r="3.3" fill="#5a4a40" />
<circle cx="874.80" cy="976.40" r="3.1" fill="#f4a068" />
<circle cx="875.30" cy="987.40" r="3.3" fill="#5a4a40" />
<circle cx="874.80" cy="986.20" r="3.1" fill="#f4a068" />
<circle cx="872.40" cy="993.00" r="1.5" fill="#fff" stroke="#999" stroke-width="0.5"/>
<circle cx="877.40" cy="993.00" r="1.5" fill="#fff" stroke="#999" stroke-width="0.5"/>
<circle cx="872.40" cy="998.00" r="1.5" fill="#fff" stroke="#999" stroke-width="0.5"/>
<circle cx="877.40" cy="998.00" r="1.5" fill="#fff" stroke="#999" stroke-width="0.5"/>
<circle cx="872.40" cy="1003.00" r="1.5" fill="#fff" stroke="#999" stroke-width="0.5"/>
<circle cx="877.40" cy="1003.00" r="1.5" fill="#fff" stroke="#999" stroke-width="0.5"/>
<circle cx="872.40" cy="1008.00" r="1.5" fill="#fff" stroke="#999" stroke-width="0.5"/>
<circle cx="877.40" cy="1008.00" r="1.5" fill="#fff" stroke="#999" stroke-width="0.5"/>
<circle cx="872.40" cy="1013.00" r="1.5" fill="#fff" stroke="#999" stroke-width="0.5"/>
<circle cx="877.40" cy="1013.00" r="1.5" fill="#fff" stroke="#999" stroke-width="0.5"/>
<rect x="876.40" y="1008.00" width="2.60" height="8.00" fill="#444" />
<circle cx="874.90" cy="1026.10" r="3.3" fill="#f0f0ee" stroke="#777" stroke-width="0.8"/>
<rect x="874.20" y="1040.50" width="1.60" height="42.00" fill="#222" />
<rect x="871.60" y="1078.50" width="6.60" height="10.50" fill="#7d7773" />
<rect x="872.30" y="1082.00" width="5.20" height="1.20" fill="#b07050" />
<rect x="869.90" y="1050.00" width="10.00" height="2.20" fill="#c4c2be" />
<rect x="869.90" y="1057.00" width="10.00" height="2.20" fill="#c4c2be" />
<line x1="881.50" y1="885" x2="881.50" y2="1095" stroke="#a9a7a2" stroke-width="0.6"/>
<rect x="884.30" y="891.50" width="6.00" height="1.60" fill="#333" />
<rect x="884.30" y="897.00" width="6.00" height="1.60" fill="#333" />
<rect x="884.30" y="903.00" width="6.00" height="1.60" fill="#333" />
<circle cx="887.00" cy="909.60" r="3.2" fill="#3a2a30" />
<circle cx="887.50" cy="907.90" r="3.1" fill="#ee78c0" />
<rect x="884.30" y="917.50" width="6.00" height="1.80" fill="#2a2a2a" />
<circle cx="887.00" cy="925.20" r="3.3" fill="#1f3a22" />
<circle cx="887.50" cy="923.50" r="3.2" fill="#3cec52" />
<rect x="884.30" y="931.60" width="6.00" height="1.80" fill="#2a2a2a" />
<circle cx="887.00" cy="939.60" r="3.3" fill="#1f3a22" />
<circle cx="887.50" cy="938.00" r="3.2" fill="#42ee56" />
<rect x="889.80" y="943.00" width="2.40" height="9.00" fill="#555" />
<circle cx="884.30" cy="945.00" r="0.9" fill="#444" />
<circle cx="887.70" cy="967.90" r="3.3" fill="#5a4a40" />
<circle cx="887.20" cy="966.70" r="3.1" fill="#f4a068" />
<circle cx="887.70" cy="977.60" r="3.3" fill="#5a4a40" />
<circle cx="887.20" cy="976.40" r="3.1" fill="#f4a068" />
<circle cx="887.70" cy="987.40" r="3.3" fill="#5a4a40" />
<circle cx="887.20" cy="986.20" r="3.1" fill="#f4a068" />
<circle cx="884.80" cy="993.00" r="1.5" fill="#fff" stroke="#999" stroke-width="0.5"/>
<circle cx="889.80" cy="993.00" r="1.5" fill="#fff" stroke="#999" stroke-width="0.5"/>
<circle cx="884.80" cy="998.00" r="1.5" fill="#fff" stroke="#999" stroke-width="0.5"/>
<circle cx="889.80" cy="998.00" r="1.5" fill="#fff" stroke="#999" stroke-width="0.5"/>
<circle cx="884.80" cy="1003.00" r="1.5" fill="#fff" stroke="#999" stroke-width="0.5"/>
<circle cx="889.80" cy="1003.00" r="1.5" fill="#fff" stroke="#999" stroke-width="0.5"/>
<circle cx="884.80" cy="1008.00" r="1.5" fill="#fff" stroke="#999" stroke-width="0.5"/>
<circle cx="889.80" cy="1008.00" r="1.5" fill="#fff" stroke="#999" stroke-width="0.5"/>
<circle cx="884.80" cy="1013.00" r="1.5" fill="#fff" stroke="#999" stroke-width="0.5"/>
<circle cx="889.80" cy="1013.00" r="1.5" fill="#fff" stroke="#999" stroke-width="0.5"/>
<rect x="888.80" y="1008.00" width="2.60" height="8.00" fill="#444" />
<circle cx="887.30" cy="1026.10" r="3.3" fill="#f0f0ee" stroke="#777" stroke-width="0.8"/>
<rect x="886.60" y="1040.50" width="1.60" height="42.00" fill="#222" />
<rect x="884.00" y="1078.50" width="6.60" height="10.50" fill="#7d7773" />
<rect x="884.70" y="1082.00" width="5.20" height="1.20" fill="#b07050" />
<rect x="882.30" y="1050.00" width="10.00" height="2.20" fill="#c4c2be" />
<rect x="882.30" y="1057.00" width="10.00" height="2.20" fill="#c4c2be" />
<line x1="893.90" y1="885" x2="893.90" y2="1095" stroke="#a9a7a2" stroke-width="0.6"/>
<rect x="896.70" y="891.50" width="6.00" height="1.60" fill="#333" />
<rect x="896.70" y="897.00" width="6.00" height="1.60" fill="#333" />
<rect x="896.70" y="903.00" width="6.00" height="1.60" fill="#333" />
<circle cx="899.40" cy="909.60" r="3.2" fill="#3a2a30" />
<circle cx="899.90" cy="907.90" r="3.1" fill="#ee78c0" />
<rect x="896.70" y="917.50" width="6.00" height="1.80" fill="#2a2a2a" />
<circle cx="899.40" cy="925.20" r="3.3" fill="#1f3a22" />
<circle cx="899.90" cy="923.50" r="3.2" fill="#3cec52" />
<rect x="896.70" y="931.60" width="6.00" height="1.80" fill="#2a2a2a" />
<circle cx="899.40" cy="939.60" r="3.3" fill="#1f3a22" />
<circle cx="899.90" cy="938.00" r="3.2" fill="#42ee56" />
<rect x="902.20" y="943.00" width="2.40" height="9.00" fill="#555" />
<circle cx="896.70" cy="945.00" r="0.9" fill="#444" />
<circle cx="900.10" cy="967.90" r="3.3" fill="#5a4a40" />
<circle cx="899.60" cy="966.70" r="3.1" fill="#f4a068" />
<circle cx="900.10" cy="977.60" r="3.3" fill="#5a4a40" />
<circle cx="899.60" cy="976.40" r="3.1" fill="#f4a068" />
<circle cx="900.10" cy="987.40" r="3.3" fill="#5a4a40" />
<circle cx="899.60" cy="986.20" r="3.1" fill="#f4a068" />
<circle cx="897.20" cy="993.00" r="1.5" fill="#fff" stroke="#999" stroke-width="0.5"/>
<circle cx="902.20" cy="993.00" r="1.5" fill="#fff" stroke="#999" stroke-width="0.5"/>
<circle cx="897.20" cy="998.00" r="1.5" fill="#fff" stroke="#999" stroke-width="0.5"/>
<circle cx="902.20" cy="998.00" r="1.5" fill="#fff" stroke="#999" stroke-width="0.5"/>
<circle cx="897.20" cy="1003.00" r="1.5" fill="#fff" stroke="#999" stroke-width="0.5"/>
<circle cx="902.20" cy="1003.00" r="1.5" fill="#fff" stroke="#999" stroke-width="0.5"/>
<circle cx="897.20" cy="1008.00" r="1.5" fill="#fff" stroke="#999" stroke-width="0.5"/>
<circle cx="902.20" cy="1008.00" r="1.5" fill="#fff" stroke="#999" stroke-width="0.5"/>
<circle cx="897.20" cy="1013.00" r="1.5" fill="#fff" stroke="#999" stroke-width="0.5"/>
<circle cx="902.20" cy="1013.00" r="1.5" fill="#fff" stroke="#999" stroke-width="0.5"/>
<rect x="901.20" y="1008.00" width="2.60" height="8.00" fill="#444" />
<circle cx="899.70" cy="1026.10" r="3.3" fill="#f0f0ee" stroke="#777" stroke-width="0.8"/>
<rect x="899.00" y="1040.50" width="1.60" height="42.00" fill="#222" />
<rect x="896.40" y="1078.50" width="6.60" height="10.50" fill="#7d7773" />
<rect x="897.10" y="1082.00" width="5.20" height="1.20" fill="#b07050" />
<rect x="894.70" y="1050.00" width="10.00" height="2.20" fill="#c4c2be" />
<rect x="894.70" y="1057.00" width="10.00" height="2.20" fill="#c4c2be" />
<line x1="906.30" y1="885" x2="906.30" y2="1095" stroke="#a9a7a2" stroke-width="0.6"/>
<rect x="909.10" y="891.50" width="6.00" height="1.60" fill="#333" />
<rect x="909.10" y="897.00" width="6.00" height="1.60" fill="#333" />
<rect x="909.10" y="903.00" width="6.00" height="1.60" fill="#333" />
<circle cx="911.80" cy="909.60" r="3.2" fill="#3a2a30" />
<circle cx="912.30" cy="907.90" r="3.1" fill="#ee78c0" />
<rect x="909.10" y="917.50" width="6.00" height="1.80" fill="#2a2a2a" />
<circle cx="911.80" cy="925.20" r="3.3" fill="#1f3a22" />
<circle cx="912.30" cy="923.50" r="3.2" fill="#3cec52" />
<rect x="909.10" y="931.60" width="6.00" height="1.80" fill="#2a2a2a" />
<circle cx="911.80" cy="939.60" r="3.3" fill="#1f3a22" />
<circle cx="912.30" cy="938.00" r="3.2" fill="#42ee56" />
<rect x="914.60" y="943.00" width="2.40" height="9.00" fill="#555" />
<circle cx="909.10" cy="945.00" r="0.9" fill="#444" />
<circle cx="912.50" cy="967.90" r="3.3" fill="#5a4a40" />
<circle cx="912.00" cy="966.70" r="3.1" fill="#f4a068" />
<circle cx="912.50" cy="977.60" r="3.3" fill="#5a4a40" />
<circle cx="912.00" cy="976.40" r="3.1" fill="#f4a068" />
<circle cx="912.50" cy="987.40" r="3.3" fill="#5a4a40" />
<circle cx="912.00" cy="986.20" r="3.1" fill="#f4a068" />
<circle cx="909.60" cy="993.00" r="1.5" fill="#fff" stroke="#999" stroke-width="0.5"/>
<circle cx="914.60" cy="993.00" r="1.5" fill="#fff" stroke="#999" stroke-width="0.5"/>
<circle cx="909.60" cy="998.00" r="1.5" fill="#fff" stroke="#999" stroke-width="0.5"/>
<circle cx="914.60" cy="998.00" r="1.5" fill="#fff" stroke="#999" stroke-width="0.5"/>
<circle cx="909.60" cy="1003.00" r="1.5" fill="#fff" stroke="#999" stroke-width="0.5"/>
<circle cx="914.60" cy="1003.00" r="1.5" fill="#fff" stroke="#999" stroke-width="0.5"/>
<circle cx="909.60" cy="1008.00" r="1.5" fill="#fff" stroke="#999" stroke-width="0.5"/>
<circle cx="914.60" cy="1008.00" r="1.5" fill="#fff" stroke="#999" stroke-width="0.5"/>
<circle cx="909.60" cy="1013.00" r="1.5" fill="#fff" stroke="#999" stroke-width="0.5"/>
<circle cx="914.60" cy="1013.00" r="1.5" fill="#fff" stroke="#999" stroke-width="0.5"/>
<rect x="913.60" y="1008.00" width="2.60" height="8.00" fill="#444" />
<circle cx="912.10" cy="1026.10" r="3.3" fill="#f0f0ee" stroke="#777" stroke-width="0.8"/>
<rect x="911.40" y="1040.50" width="1.60" height="42.00" fill="#222" />
<rect x="908.80" y="1078.50" width="6.60" height="10.50" fill="#7d7773" />
<rect x="909.50" y="1082.00" width="5.20" height="1.20" fill="#b07050" />
<rect x="907.10" y="1050.00" width="10.00" height="2.20" fill="#c4c2be" />
<rect x="907.10" y="1057.00" width="10.00" height="2.20" fill="#c4c2be" />
<line x1="920.40" y1="885" x2="920.40" y2="1095" stroke="#a9a7a2" stroke-width="0.6"/>
<rect x="923.20" y="891.50" width="6.00" height="1.60" fill="#333" />
<rect x="923.20" y="897.00" width="6.00" height="1.60" fill="#333" />
<rect x="923.20" y="903.00" width="6.00" height="1.60" fill="#333" />
<circle cx="925.90" cy="909.60" r="3.2" fill="#3a2a30" />
<circle cx="926.40" cy="907.90" r="3.1" fill="#ee78c0" />
<rect x="923.20" y="917.50" width="6.00" height="1.80" fill="#2a2a2a" />
<circle cx="925.90" cy="925.20" r="3.3" fill="#1f3a22" />
<circle cx="926.40" cy="923.50" r="3.2" fill="#3cec52" />
<rect x="923.20" y="931.60" width="6.00" height="1.80" fill="#2a2a2a" />
<circle cx="925.90" cy="939.60" r="3.3" fill="#1f3a22" />
<circle cx="926.40" cy="938.00" r="3.2" fill="#42ee56" />
<rect x="928.70" y="943.00" width="2.40" height="9.00" fill="#555" />
<circle cx="923.20" cy="945.00" r="0.9" fill="#444" />
<circle cx="926.60" cy="967.90" r="3.3" fill="#5a4a40" />
<circle cx="926.10" cy="966.70" r="3.1" fill="#f4a068" />
<circle cx="926.60" cy="977.60" r="3.3" fill="#5a4a40" />
<circle cx="926.10" cy="976.40" r="3.1" fill="#f4a068" />
<circle cx="926.60" cy="987.40" r="3.3" fill="#5a4a40" />
<circle cx="926.10" cy="986.20" r="3.1" fill="#f4a068" />
<circle cx="923.70" cy="993.00" r="1.5" fill="#fff" stroke="#999" stroke-width="0.5"/>
<circle cx="928.70" cy="993.00" r="1.5" fill="#fff" stroke="#999" stroke-width="0.5"/>
<circle cx="923.70" cy="998.00" r="1.5" fill="#fff" stroke="#999" stroke-width="0.5"/>
<circle cx="928.70" cy="998.00" r="1.5" fill="#fff" stroke="#999" stroke-width="0.5"/>
<circle cx="923.70" cy="1003.00" r="1.5" fill="#fff" stroke="#999" stroke-width="0.5"/>
<circle cx="928.70" cy="1003.00" r="1.5" fill="#fff" stroke="#999" stroke-width="0.5"/>
<circle cx="923.70" cy="1008.00" r="1.5" fill="#fff" stroke="#999" stroke-width="0.5"/>
<circle cx="928.70" cy="1008.00" r="1.5" fill="#fff" stroke="#999" stroke-width="0.5"/>
<circle cx="923.70" cy="1013.00" r="1.5" fill="#fff" stroke="#999" stroke-width="0.5"/>
<circle cx="928.70" cy="1013.00" r="1.5" fill="#fff" stroke="#999" stroke-width="0.5"/>
<rect x="927.70" y="1008.00" width="2.60" height="8.00" fill="#444" />
<circle cx="926.20" cy="1026.10" r="3.3" fill="#f0f0ee" stroke="#777" stroke-width="0.8"/>
<rect x="925.50" y="1040.50" width="1.60" height="42.00" fill="#222" />
<rect x="922.90" y="1078.50" width="6.60" height="10.50" fill="#7d7773" />
<rect x="923.60" y="1082.00" width="5.20" height="1.20" fill="#b07050" />
<rect x="921.20" y="1050.00" width="10.00" height="2.20" fill="#c4c2be" />
<rect x="921.20" y="1057.00" width="10.00" height="2.20" fill="#c4c2be" />
<line x1="932.80" y1="885" x2="932.80" y2="1095" stroke="#a9a7a2" stroke-width="0.6"/>
<rect x="935.60" y="891.50" width="6.00" height="1.60" fill="#333" />
<rect x="935.60" y="897.00" width="6.00" height="1.60" fill="#333" />
<rect x="935.60" y="903.00" width="6.00" height="1.60" fill="#333" />
<circle cx="938.30" cy="909.60" r="3.2" fill="#3a2a30" />
<circle cx="938.80" cy="907.90" r="3.1" fill="#ee78c0" />
<rect x="935.60" y="917.50" width="6.00" height="1.80" fill="#2a2a2a" />
<circle cx="938.30" cy="925.20" r="3.3" fill="#1f3a22" />
<circle cx="938.80" cy="923.50" r="3.2" fill="#3cec52" />
<rect x="935.60" y="931.60" width="6.00" height="1.80" fill="#2a2a2a" />
<circle cx="938.30" cy="939.60" r="3.3" fill="#1f3a22" />
<circle cx="938.80" cy="938.00" r="3.2" fill="#42ee56" />
<rect x="941.10" y="943.00" width="2.40" height="9.00" fill="#555" />
<circle cx="935.60" cy="945.00" r="0.9" fill="#444" />
<circle cx="939.00" cy="967.90" r="3.3" fill="#5a4a40" />
<circle cx="938.50" cy="966.70" r="3.1" fill="#f4a068" />
<circle cx="939.00" cy="977.60" r="3.3" fill="#5a4a40" />
<circle cx="938.50" cy="976.40" r="3.1" fill="#f4a068" />
<circle cx="939.00" cy="987.40" r="3.3" fill="#5a4a40" />
<circle cx="938.50" cy="986.20" r="3.1" fill="#f4a068" />
<circle cx="936.10" cy="993.00" r="1.5" fill="#fff" stroke="#999" stroke-width="0.5"/>
<circle cx="941.10" cy="993.00" r="1.5" fill="#fff" stroke="#999" stroke-width="0.5"/>
<circle cx="936.10" cy="998.00" r="1.5" fill="#fff" stroke="#999" stroke-width="0.5"/>
<circle cx="941.10" cy="998.00" r="1.5" fill="#fff" stroke="#999" stroke-width="0.5"/>
<circle cx="936.10" cy="1003.00" r="1.5" fill="#fff" stroke="#999" stroke-width="0.5"/>
<circle cx="941.10" cy="1003.00" r="1.5" fill="#fff" stroke="#999" stroke-width="0.5"/>
<circle cx="936.10" cy="1008.00" r="1.5" fill="#fff" stroke="#999" stroke-width="0.5"/>
<circle cx="941.10" cy="1008.00" r="1.5" fill="#fff" stroke="#999" stroke-width="0.5"/>
<circle cx="936.10" cy="1013.00" r="1.5" fill="#fff" stroke="#999" stroke-width="0.5"/>
<circle cx="941.10" cy="1013.00" r="1.5" fill="#fff" stroke="#999" stroke-width="0.5"/>
<rect x="940.10" y="1008.00" width="2.60" height="8.00" fill="#444" />
<circle cx="938.60" cy="1026.10" r="3.3" fill="#f0f0ee" stroke="#777" stroke-width="0.8"/>
<rect x="937.90" y="1040.50" width="1.60" height="42.00" fill="#222" />
<rect x="935.30" y="1078.50" width="6.60" height="10.50" fill="#7d7773" />
<rect x="936.00" y="1082.00" width="5.20" height="1.20" fill="#b07050" />
<rect x="933.60" y="1050.00" width="10.00" height="2.20" fill="#c4c2be" />
<rect x="933.60" y="1057.00" width="10.00" height="2.20" fill="#c4c2be" />
<line x1="945.20" y1="885" x2="945.20" y2="1095" stroke="#a9a7a2" stroke-width="0.6"/>
<rect x="948.00" y="891.50" width="6.00" height="1.60" fill="#333" />
<rect x="948.00" y="897.00" width="6.00" height="1.60" fill="#333" />
<rect x="948.00" y="903.00" width="6.00" height="1.60" fill="#333" />
<circle cx="950.70" cy="909.60" r="3.2" fill="#3a2a30" />
<circle cx="951.20" cy="907.90" r="3.1" fill="#ee78c0" />
<rect x="948.00" y="917.50" width="6.00" height="1.80" fill="#2a2a2a" />
<circle cx="950.70" cy="925.20" r="3.3" fill="#1f3a22" />
<circle cx="951.20" cy="923.50" r="3.2" fill="#3cec52" />
<rect x="948.00" y="931.60" width="6.00" height="1.80" fill="#2a2a2a" />
<circle cx="950.70" cy="939.60" r="3.3" fill="#1f3a22" />
<circle cx="951.20" cy="938.00" r="3.2" fill="#42ee56" />
<rect x="953.50" y="943.00" width="2.40" height="9.00" fill="#555" />
<circle cx="948.00" cy="945.00" r="0.9" fill="#444" />
<circle cx="951.40" cy="967.90" r="3.3" fill="#5a4a40" />
<circle cx="950.90" cy="966.70" r="3.1" fill="#f4a068" />
<circle cx="951.40" cy="977.60" r="3.3" fill="#5a4a40" />
<circle cx="950.90" cy="976.40" r="3.1" fill="#f4a068" />
<circle cx="951.40" cy="987.40" r="3.3" fill="#5a4a40" />
<circle cx="950.90" cy="986.20" r="3.1" fill="#f4a068" />
<circle cx="948.50" cy="993.00" r="1.5" fill="#fff" stroke="#999" stroke-width="0.5"/>
<circle cx="953.50" cy="993.00" r="1.5" fill="#fff" stroke="#999" stroke-width="0.5"/>
<circle cx="948.50" cy="998.00" r="1.5" fill="#fff" stroke="#999" stroke-width="0.5"/>
<circle cx="953.50" cy="998.00" r="1.5" fill="#fff" stroke="#999" stroke-width="0.5"/>
<circle cx="948.50" cy="1003.00" r="1.5" fill="#fff" stroke="#999" stroke-width="0.5"/>
<circle cx="953.50" cy="1003.00" r="1.5" fill="#fff" stroke="#999" stroke-width="0.5"/>
<circle cx="948.50" cy="1008.00" r="1.5" fill="#fff" stroke="#999" stroke-width="0.5"/>
<circle cx="953.50" cy="1008.00" r="1.5" fill="#fff" stroke="#999" stroke-width="0.5"/>
<circle cx="948.50" cy="1013.00" r="1.5" fill="#fff" stroke="#999" stroke-width="0.5"/>
<circle cx="953.50" cy="1013.00" r="1.5" fill="#fff" stroke="#999" stroke-width="0.5"/>
<rect x="952.50" y="1008.00" width="2.60" height="8.00" fill="#444" />
<circle cx="951.00" cy="1026.10" r="3.3" fill="#f0f0ee" stroke="#777" stroke-width="0.8"/>
<rect x="950.30" y="1040.50" width="1.60" height="42.00" fill="#222" />
<rect x="947.70" y="1078.50" width="6.60" height="10.50" fill="#7d7773" />
<rect x="948.40" y="1082.00" width="5.20" height="1.20" fill="#b07050" />
<rect x="946.00" y="1050.00" width="10.00" height="2.20" fill="#c4c2be" />
<rect x="946.00" y="1057.00" width="10.00" height="2.20" fill="#c4c2be" />
<line x1="957.60" y1="885" x2="957.60" y2="1095" stroke="#a9a7a2" stroke-width="0.6"/>
<rect x="960.40" y="891.50" width="6.00" height="1.60" fill="#333" />
<rect x="960.40" y="897.00" width="6.00" height="1.60" fill="#333" />
<rect x="960.40" y="903.00" width="6.00" height="1.60" fill="#333" />
<circle cx="963.10" cy="909.60" r="3.2" fill="#3a2a30" />
<circle cx="963.60" cy="907.90" r="3.1" fill="#ee78c0" />
<rect x="960.40" y="917.50" width="6.00" height="1.80" fill="#2a2a2a" />
<circle cx="963.10" cy="925.20" r="3.3" fill="#1f3a22" />
<circle cx="963.60" cy="923.50" r="3.2" fill="#3cec52" />
<rect x="960.40" y="931.60" width="6.00" height="1.80" fill="#2a2a2a" />
<circle cx="963.10" cy="939.60" r="3.3" fill="#1f3a22" />
<circle cx="963.60" cy="938.00" r="3.2" fill="#42ee56" />
<rect x="965.90" y="943.00" width="2.40" height="9.00" fill="#555" />
<circle cx="960.40" cy="945.00" r="0.9" fill="#444" />
<circle cx="963.80" cy="967.90" r="3.3" fill="#5a4a40" />
<circle cx="963.30" cy="966.70" r="3.1" fill="#f4a068" />
<circle cx="963.80" cy="977.60" r="3.3" fill="#5a4a40" />
<circle cx="963.30" cy="976.40" r="3.1" fill="#f4a068" />
<circle cx="963.80" cy="987.40" r="3.3" fill="#5a4a40" />
<circle cx="963.30" cy="986.20" r="3.1" fill="#f4a068" />
<circle cx="960.90" cy="993.00" r="1.5" fill="#fff" stroke="#999" stroke-width="0.5"/>
<circle cx="965.90" cy="993.00" r="1.5" fill="#fff" stroke="#999" stroke-width="0.5"/>
<circle cx="960.90" cy="998.00" r="1.5" fill="#fff" stroke="#999" stroke-width="0.5"/>
<circle cx="965.90" cy="998.00" r="1.5" fill="#fff" stroke="#999" stroke-width="0.5"/>
<circle cx="960.90" cy="1003.00" r="1.5" fill="#fff" stroke="#999" stroke-width="0.5"/>
<circle cx="965.90" cy="1003.00" r="1.5" fill="#fff" stroke="#999" stroke-width="0.5"/>
<circle cx="960.90" cy="1008.00" r="1.5" fill="#fff" stroke="#999" stroke-width="0.5"/>
<circle cx="965.90" cy="1008.00" r="1.5" fill="#fff" stroke="#999" stroke-width="0.5"/>
<circle cx="960.90" cy="1013.00" r="1.5" fill="#fff" stroke="#999" stroke-width="0.5"/>
<circle cx="965.90" cy="1013.00" r="1.5" fill="#fff" stroke="#999" stroke-width="0.5"/>
<rect x="964.90" y="1008.00" width="2.60" height="8.00" fill="#444" />
<circle cx="963.40" cy="1026.10" r="3.3" fill="#f0f0ee" stroke="#777" stroke-width="0.8"/>
<rect x="962.70" y="1040.50" width="1.60" height="42.00" fill="#222" />
<rect x="960.10" y="1078.50" width="6.60" height="10.50" fill="#7d7773" />
<rect x="960.80" y="1082.00" width="5.20" height="1.20" fill="#b07050" />
<rect x="958.40" y="1050.00" width="10.00" height="2.20" fill="#c4c2be" />
<rect x="958.40" y="1057.00" width="10.00" height="2.20" fill="#c4c2be" />
<rect x="715.40" y="1030.50" width="252.50" height="6.50" fill="#e6e6e2" />
<line x1="765.30" y1="885" x2="765.30" y2="1095" stroke="#8e8c88" stroke-width="0.9"/>
<line x1="816.60" y1="885" x2="816.60" y2="1095" stroke="#8e8c88" stroke-width="0.9"/>
<line x1="867.90" y1="885" x2="867.90" y2="1095" stroke="#8e8c88" stroke-width="0.9"/>
<line x1="919.20" y1="885" x2="919.20" y2="1095" stroke="#8e8c88" stroke-width="0.9"/>
<line x1="970.50" y1="885" x2="970.50" y2="1095" stroke="#8e8c88" stroke-width="0.9"/>
<line x1="1013" y1="887" x2="1013" y2="928" stroke="#aaa" stroke-width="0.7"/>
<line x1="1020" y1="887" x2="1020" y2="1095" stroke="#9a9894" stroke-width="0.8"/>
<rect x="1011.00" y="917.00" width="5.00" height="5.00" fill="#b03050" />
<rect x="972.60" y="929.50" width="6.00" height="1.50" fill="#333" />
<circle cx="975.60" cy="940.00" r="3.6" fill="#f08a50" />
<circle cx="975.60" cy="949.40" r="3.4" fill="#eeeeea" stroke="#777" stroke-width="0.7"/>
<rect x="972.60" y="958.00" width="6.00" height="1.50" fill="#333" />
<circle cx="975.60" cy="968.50" r="3.6" fill="#f08a50" />
<circle cx="975.60" cy="977.80" r="3.4" fill="#eeeeea" stroke="#777" stroke-width="0.7"/>
<rect x="974.90" y="1040.50" width="1.60" height="42.00" fill="#222" />
<rect x="972.30" y="1078.50" width="6.60" height="10.50" fill="#7d7773" />
<rect x="985.90" y="929.50" width="6.00" height="1.50" fill="#333" />
<circle cx="988.90" cy="940.00" r="3.6" fill="#f08a50" />
<circle cx="988.90" cy="949.40" r="3.4" fill="#eeeeea" stroke="#777" stroke-width="0.7"/>
<rect x="985.90" y="958.00" width="6.00" height="1.50" fill="#333" />
<circle cx="988.90" cy="968.50" r="3.6" fill="#f08a50" />
<circle cx="988.90" cy="977.80" r="3.4" fill="#eeeeea" stroke="#777" stroke-width="0.7"/>
<rect x="988.20" y="1040.50" width="1.60" height="42.00" fill="#222" />
<rect x="985.60" y="1078.50" width="6.60" height="10.50" fill="#7d7773" />
<rect x="997.90" y="929.50" width="6.00" height="1.50" fill="#333" />
<circle cx="1000.90" cy="940.00" r="3.6" fill="#f08a50" />
<circle cx="1000.90" cy="949.40" r="3.4" fill="#eeeeea" stroke="#777" stroke-width="0.7"/>
<rect x="997.90" y="958.00" width="6.00" height="1.50" fill="#333" />
<circle cx="1000.90" cy="968.50" r="3.6" fill="#f08a50" />
<circle cx="1000.90" cy="977.80" r="3.4" fill="#eeeeea" stroke="#777" stroke-width="0.7"/>
<rect x="1000.20" y="1040.50" width="1.60" height="42.00" fill="#222" />
<rect x="997.60" y="1078.50" width="6.60" height="10.50" fill="#7d7773" />
<rect x="1010.60" y="929.50" width="6.00" height="1.50" fill="#333" />
<circle cx="1013.60" cy="940.00" r="3.6" fill="#f08a50" />
<circle cx="1013.60" cy="949.40" r="3.4" fill="#eeeeea" stroke="#777" stroke-width="0.7"/>
<rect x="1010.60" y="958.00" width="6.00" height="1.50" fill="#333" />
<circle cx="1013.60" cy="968.50" r="3.6" fill="#f08a50" />
<circle cx="1013.60" cy="977.80" r="3.4" fill="#eeeeea" stroke="#777" stroke-width="0.7"/>
<rect x="1012.90" y="1040.50" width="1.60" height="42.00" fill="#222" />
<rect x="1010.30" y="1078.50" width="6.60" height="10.50" fill="#7d7773" />
<rect x="1023.90" y="929.50" width="6.00" height="1.50" fill="#333" />
<circle cx="1026.90" cy="940.00" r="3.6" fill="#f08a50" />
<circle cx="1026.90" cy="949.40" r="3.4" fill="#eeeeea" stroke="#777" stroke-width="0.7"/>
<rect x="1023.90" y="958.00" width="6.00" height="1.50" fill="#333" />
<circle cx="1026.90" cy="968.50" r="3.6" fill="#f08a50" />
<circle cx="1026.90" cy="977.80" r="3.4" fill="#eeeeea" stroke="#777" stroke-width="0.7"/>
<rect x="1026.20" y="1040.50" width="1.60" height="42.00" fill="#222" />
<rect x="1023.60" y="1078.50" width="6.60" height="10.50" fill="#7d7773" />
<rect x="1036.40" y="929.50" width="6.00" height="1.50" fill="#333" />
<circle cx="1039.40" cy="940.00" r="3.6" fill="#f08a50" />
<circle cx="1039.40" cy="949.40" r="3.4" fill="#eeeeea" stroke="#777" stroke-width="0.7"/>
<rect x="1036.40" y="958.00" width="6.00" height="1.50" fill="#333" />
<circle cx="1039.40" cy="968.50" r="3.6" fill="#f08a50" />
<circle cx="1039.40" cy="977.80" r="3.4" fill="#eeeeea" stroke="#777" stroke-width="0.7"/>
<rect x="1038.70" y="1040.50" width="1.60" height="42.00" fill="#222" />
<rect x="1036.10" y="1078.50" width="6.60" height="10.50" fill="#7d7773" />
<rect x="1048.80" y="929.50" width="6.00" height="1.50" fill="#333" />
<circle cx="1051.80" cy="940.00" r="3.6" fill="#f08a50" />
<circle cx="1051.80" cy="949.40" r="3.4" fill="#eeeeea" stroke="#777" stroke-width="0.7"/>
<rect x="1048.80" y="958.00" width="6.00" height="1.50" fill="#333" />
<circle cx="1051.80" cy="968.50" r="3.6" fill="#f08a50" />
<circle cx="1051.80" cy="977.80" r="3.4" fill="#eeeeea" stroke="#777" stroke-width="0.7"/>
<rect x="1051.10" y="1040.50" width="1.60" height="42.00" fill="#222" />
<rect x="1048.50" y="1078.50" width="6.60" height="10.50" fill="#7d7773" />
<rect x="1061.60" y="929.50" width="6.00" height="1.50" fill="#333" />
<circle cx="1064.60" cy="940.00" r="3.6" fill="#f08a50" />
<circle cx="1064.60" cy="949.40" r="3.4" fill="#eeeeea" stroke="#777" stroke-width="0.7"/>
<rect x="1061.60" y="958.00" width="6.00" height="1.50" fill="#333" />
<circle cx="1064.60" cy="968.50" r="3.6" fill="#f08a50" />
<circle cx="1064.60" cy="977.80" r="3.4" fill="#eeeeea" stroke="#777" stroke-width="0.7"/>
<rect x="1063.90" y="1040.50" width="1.60" height="42.00" fill="#222" />
<rect x="1061.30" y="1078.50" width="6.60" height="10.50" fill="#7d7773" />
<rect x="970.00" y="996.00" width="1.20" height="30.00" fill="#222" />
<rect x="968.50" y="1017.00" width="4.00" height="8.00" fill="#7a7470" />
<rect x="975.10" y="996.00" width="1.20" height="30.00" fill="#222" />
<rect x="973.60" y="1017.00" width="4.00" height="8.00" fill="#7a7470" />
<rect x="980.00" y="996.00" width="1.20" height="30.00" fill="#222" />
<rect x="978.50" y="1017.00" width="4.00" height="8.00" fill="#7a7470" />
<rect x="985.50" y="996.00" width="1.20" height="30.00" fill="#222" />
<rect x="984.00" y="1017.00" width="4.00" height="8.00" fill="#7a7470" />
<rect x="1025.00" y="996.00" width="1.50" height="30.00" fill="#222" />
<rect x="1022.00" y="1016.00" width="6.00" height="9.00" fill="#7a7470" />
<rect x="1039.00" y="996.00" width="1.50" height="30.00" fill="#222" />
<rect x="1036.00" y="1016.00" width="6.00" height="9.00" fill="#7a7470" />
<circle cx="1045.00" cy="995.50" r="3.3" fill="#e02040" />
<circle cx="1045.00" cy="1003.50" r="3.3" fill="#f08a50" />
<circle cx="1063.30" cy="996.50" r="3.2" fill="#111" />
<circle cx="1063.30" cy="1012.50" r="3.3" fill="#30d040" />
<circle cx="1063.30" cy="1023.50" r="3.3" fill="#30a0e0" />
<circle cx="1044.00" cy="1021.50" r="3.6" fill="#777" />
<rect x="967.70" y="1033.50" width="102.20" height="4.50" fill="#e8e6e0" />
<rect x="967.50" y="1095.50" width="46.50" height="3.00" fill="#333" />
<rect x="1017.50" y="1095.50" width="48.00" height="3.00" fill="#333" />
<rect x="1069.90" y="870.80" width="12.50" height="221.00" fill="#646b6d" />
<rect x="1069.90" y="870.80" width="5.50" height="221.00" fill="#737a7c" />
<rect x="703.80" y="870.80" width="11.60" height="224.00" fill="#737a7b" />
<rect x="1318.20" y="618.90" width="105.50" height="79.60" fill="#222528" />
<rect x="1318.20" y="618.90" width="105.50" height="13.60" fill="#383c3f" />
<circle cx="1322.40" cy="626.30" r="2.7" fill="#0c0c0c" stroke="#6a6e70" stroke-width="0.7"/>
<circle cx="1328.85" cy="626.30" r="2.7" fill="#0c0c0c" stroke="#6a6e70" stroke-width="0.7"/>
<circle cx="1335.30" cy="626.30" r="2.7" fill="#0c0c0c" stroke="#6a6e70" stroke-width="0.7"/>
<circle cx="1341.75" cy="626.30" r="2.7" fill="#0c0c0c" stroke="#6a6e70" stroke-width="0.7"/>
<circle cx="1348.20" cy="626.30" r="2.7" fill="#0c0c0c" stroke="#6a6e70" stroke-width="0.7"/>
<circle cx="1354.65" cy="626.30" r="2.7" fill="#0c0c0c" stroke="#6a6e70" stroke-width="0.7"/>
<circle cx="1361.10" cy="626.30" r="2.7" fill="#0c0c0c" stroke="#6a6e70" stroke-width="0.7"/>
<circle cx="1367.55" cy="626.30" r="2.7" fill="#0c0c0c" stroke="#6a6e70" stroke-width="0.7"/>
<circle cx="1374.00" cy="624.00" r="1.4" fill="#111" stroke="#9a9a9a" stroke-width="0.6"/>
<circle cx="1374.00" cy="629.00" r="1.4" fill="#111" stroke="#9a9a9a" stroke-width="0.6"/>
<circle cx="1380.30" cy="624.00" r="1.4" fill="#111" stroke="#9a9a9a" stroke-width="0.6"/>
<circle cx="1380.30" cy="629.00" r="1.4" fill="#111" stroke="#9a9a9a" stroke-width="0.6"/>
<circle cx="1390.00" cy="626.00" r="2.9" fill="#0c0c0c" stroke="#555" stroke-width="0.6"/>
<circle cx="1396.20" cy="626.00" r="2.9" fill="#0c0c0c" stroke="#555" stroke-width="0.6"/>
<circle cx="1406.30" cy="624.00" r="1.3" fill="#111" stroke="#999" stroke-width="0.6"/>
<circle cx="1406.30" cy="629.00" r="1.3" fill="#111" stroke="#999" stroke-width="0.6"/>
<circle cx="1411.00" cy="624.00" r="1.3" fill="#111" stroke="#999" stroke-width="0.6"/>
<circle cx="1411.00" cy="629.00" r="1.3" fill="#111" stroke="#999" stroke-width="0.6"/>
<circle cx="1415.60" cy="624.00" r="1.3" fill="#111" stroke="#999" stroke-width="0.6"/>
<circle cx="1415.60" cy="629.00" r="1.3" fill="#111" stroke="#999" stroke-width="0.6"/>
<circle cx="1420.20" cy="624.00" r="1.3" fill="#111" stroke="#999" stroke-width="0.6"/>
<circle cx="1420.20" cy="629.00" r="1.3" fill="#111" stroke="#999" stroke-width="0.6"/>
<rect x="1318.20" y="632.50" width="105.50" height="3.90" fill="#0a0a0a" />
<circle cx="1322.60" cy="639.30" r="1.6" fill="#141414" stroke="#7a7a7a" stroke-width="0.6"/>
<circle cx="1322.60" cy="645.00" r="1.6" fill="#141414" stroke="#7a7a7a" stroke-width="0.6"/>
<circle cx="1322.60" cy="652.00" r="1.6" fill="#141414" stroke="#7a7a7a" stroke-width="0.6"/>
<line x1="1325.80" y1="637" x2="1325.80" y2="697" stroke="#3a3d40" stroke-width="0.5"/>
<circle cx="1329.05" cy="639.30" r="1.6" fill="#141414" stroke="#7a7a7a" stroke-width="0.6"/>
<circle cx="1329.05" cy="645.00" r="1.6" fill="#141414" stroke="#7a7a7a" stroke-width="0.6"/>
<circle cx="1329.05" cy="652.00" r="1.6" fill="#141414" stroke="#7a7a7a" stroke-width="0.6"/>
<line x1="1332.25" y1="637" x2="1332.25" y2="697" stroke="#3a3d40" stroke-width="0.5"/>
<circle cx="1335.50" cy="639.30" r="1.6" fill="#141414" stroke="#7a7a7a" stroke-width="0.6"/>
<circle cx="1335.50" cy="645.00" r="1.6" fill="#141414" stroke="#7a7a7a" stroke-width="0.6"/>
<circle cx="1335.50" cy="652.00" r="1.6" fill="#141414" stroke="#7a7a7a" stroke-width="0.6"/>
<line x1="1338.70" y1="637" x2="1338.70" y2="697" stroke="#3a3d40" stroke-width="0.5"/>
<circle cx="1341.95" cy="639.30" r="1.6" fill="#141414" stroke="#7a7a7a" stroke-width="0.6"/>
<circle cx="1341.95" cy="645.00" r="1.6" fill="#141414" stroke="#7a7a7a" stroke-width="0.6"/>
<circle cx="1341.95" cy="652.00" r="1.6" fill="#141414" stroke="#7a7a7a" stroke-width="0.6"/>
<line x1="1345.15" y1="637" x2="1345.15" y2="697" stroke="#3a3d40" stroke-width="0.5"/>
<circle cx="1348.40" cy="639.30" r="1.6" fill="#141414" stroke="#7a7a7a" stroke-width="0.6"/>
<circle cx="1348.40" cy="645.00" r="1.6" fill="#141414" stroke="#7a7a7a" stroke-width="0.6"/>
<circle cx="1348.40" cy="652.00" r="1.6" fill="#141414" stroke="#7a7a7a" stroke-width="0.6"/>
<line x1="1351.60" y1="637" x2="1351.60" y2="697" stroke="#3a3d40" stroke-width="0.5"/>
<circle cx="1354.85" cy="639.30" r="1.6" fill="#141414" stroke="#7a7a7a" stroke-width="0.6"/>
<circle cx="1354.85" cy="645.00" r="1.6" fill="#141414" stroke="#7a7a7a" stroke-width="0.6"/>
<circle cx="1354.85" cy="652.00" r="1.6" fill="#141414" stroke="#7a7a7a" stroke-width="0.6"/>
<line x1="1358.05" y1="637" x2="1358.05" y2="697" stroke="#3a3d40" stroke-width="0.5"/>
<circle cx="1361.30" cy="639.30" r="1.6" fill="#141414" stroke="#7a7a7a" stroke-width="0.6"/>
<circle cx="1361.30" cy="645.00" r="1.6" fill="#141414" stroke="#7a7a7a" stroke-width="0.6"/>
<circle cx="1361.30" cy="652.00" r="1.6" fill="#141414" stroke="#7a7a7a" stroke-width="0.6"/>
<line x1="1364.50" y1="637" x2="1364.50" y2="697" stroke="#3a3d40" stroke-width="0.5"/>
<circle cx="1367.75" cy="639.30" r="1.6" fill="#141414" stroke="#7a7a7a" stroke-width="0.6"/>
<circle cx="1367.75" cy="645.00" r="1.6" fill="#141414" stroke="#7a7a7a" stroke-width="0.6"/>
<circle cx="1367.75" cy="652.00" r="1.6" fill="#141414" stroke="#7a7a7a" stroke-width="0.6"/>
<line x1="1370.95" y1="637" x2="1370.95" y2="697" stroke="#3a3d40" stroke-width="0.5"/>
<circle cx="1374.20" cy="639.30" r="1.6" fill="#141414" stroke="#7a7a7a" stroke-width="0.6"/>
<circle cx="1374.20" cy="645.00" r="1.6" fill="#141414" stroke="#7a7a7a" stroke-width="0.6"/>
<circle cx="1374.20" cy="652.00" r="1.6" fill="#141414" stroke="#7a7a7a" stroke-width="0.6"/>
<line x1="1377.40" y1="637" x2="1377.40" y2="697" stroke="#3a3d40" stroke-width="0.5"/>
<circle cx="1380.65" cy="639.30" r="1.6" fill="#141414" stroke="#7a7a7a" stroke-width="0.6"/>
<circle cx="1380.65" cy="645.00" r="1.6" fill="#141414" stroke="#7a7a7a" stroke-width="0.6"/>
<circle cx="1380.65" cy="652.00" r="1.6" fill="#141414" stroke="#7a7a7a" stroke-width="0.6"/>
<line x1="1383.85" y1="637" x2="1383.85" y2="697" stroke="#3a3d40" stroke-width="0.5"/>
<rect x="1319.00" y="655.80" width="64.80" height="6.20" fill="#2234c8" />
<rect x="1321.30" y="657.60" width="2.60" height="2.60" fill="#b0c0f8" />
<rect x="1321.20" y="663.80" width="2.80" height="2.80" fill="#f4a0dc" />
<rect x="1321.10" y="668.50" width="3.00" height="2.00" fill="#8a8e90" />
<rect x="1322.00" y="678.00" width="1.20" height="16.00" fill="#3e8a3e" />
<rect x="1321.00" y="677.00" width="3.20" height="3.00" fill="#9a9a9a" />
<rect x="1327.75" y="657.60" width="2.60" height="2.60" fill="#b0c0f8" />
<rect x="1327.65" y="663.80" width="2.80" height="2.80" fill="#f4a0dc" />
<rect x="1327.55" y="668.50" width="3.00" height="2.00" fill="#8a8e90" />
<rect x="1328.45" y="678.00" width="1.20" height="16.00" fill="#3e8a3e" />
<rect x="1327.45" y="677.00" width="3.20" height="3.00" fill="#9a9a9a" />
<rect x="1334.20" y="657.60" width="2.60" height="2.60" fill="#b0c0f8" />
<rect x="1334.10" y="663.80" width="2.80" height="2.80" fill="#f4a0dc" />
<rect x="1334.00" y="668.50" width="3.00" height="2.00" fill="#8a8e90" />
<rect x="1334.90" y="678.00" width="1.20" height="16.00" fill="#3e8a3e" />
<rect x="1333.90" y="677.00" width="3.20" height="3.00" fill="#9a9a9a" />
<rect x="1340.65" y="657.60" width="2.60" height="2.60" fill="#b0c0f8" />
<rect x="1340.55" y="663.80" width="2.80" height="2.80" fill="#f4a0dc" />
<rect x="1340.45" y="668.50" width="3.00" height="2.00" fill="#8a8e90" />
<rect x="1341.35" y="678.00" width="1.20" height="16.00" fill="#3e8a3e" />
<rect x="1340.35" y="677.00" width="3.20" height="3.00" fill="#9a9a9a" />
<rect x="1347.10" y="657.60" width="2.60" height="2.60" fill="#b0c0f8" />
<rect x="1347.00" y="663.80" width="2.80" height="2.80" fill="#f4a0dc" />
<rect x="1346.90" y="668.50" width="3.00" height="2.00" fill="#8a8e90" />
<rect x="1347.80" y="678.00" width="1.20" height="16.00" fill="#3e8a3e" />
<rect x="1346.80" y="677.00" width="3.20" height="3.00" fill="#9a9a9a" />
<rect x="1353.55" y="657.60" width="2.60" height="2.60" fill="#b0c0f8" />
<rect x="1353.45" y="663.80" width="2.80" height="2.80" fill="#f4a0dc" />
<rect x="1353.35" y="668.50" width="3.00" height="2.00" fill="#8a8e90" />
<rect x="1354.25" y="678.00" width="1.20" height="16.00" fill="#3e8a3e" />
<rect x="1353.25" y="677.00" width="3.20" height="3.00" fill="#9a9a9a" />
<rect x="1360.00" y="657.60" width="2.60" height="2.60" fill="#b0c0f8" />
<rect x="1359.90" y="663.80" width="2.80" height="2.80" fill="#f4a0dc" />
<rect x="1359.80" y="668.50" width="3.00" height="2.00" fill="#8a8e90" />
<rect x="1360.70" y="678.00" width="1.20" height="16.00" fill="#3e8a3e" />
<rect x="1359.70" y="677.00" width="3.20" height="3.00" fill="#9a9a9a" />
<rect x="1366.45" y="657.60" width="2.60" height="2.60" fill="#b0c0f8" />
<rect x="1366.35" y="663.80" width="2.80" height="2.80" fill="#f4a0dc" />
<rect x="1366.25" y="668.50" width="3.00" height="2.00" fill="#8a8e90" />
<rect x="1367.15" y="678.00" width="1.20" height="16.00" fill="#3e8a3e" />
<rect x="1366.15" y="677.00" width="3.20" height="3.00" fill="#9a9a9a" />
<rect x="1372.90" y="657.60" width="2.60" height="2.60" fill="#b0c0f8" />
<rect x="1372.80" y="663.80" width="2.80" height="2.80" fill="#f4a0dc" />
<rect x="1372.70" y="668.50" width="3.00" height="2.00" fill="#8a8e90" />
<rect x="1373.60" y="678.00" width="1.20" height="16.00" fill="#3e8a3e" />
<rect x="1372.60" y="677.00" width="3.20" height="3.00" fill="#9a9a9a" />
<rect x="1379.35" y="657.60" width="2.60" height="2.60" fill="#b0c0f8" />
<rect x="1379.25" y="663.80" width="2.80" height="2.80" fill="#f4a0dc" />
<rect x="1379.15" y="668.50" width="3.00" height="2.00" fill="#8a8e90" />
<rect x="1380.05" y="678.00" width="1.20" height="16.00" fill="#3e8a3e" />
<rect x="1379.05" y="677.00" width="3.20" height="3.00" fill="#9a9a9a" />
<rect x="1383.80" y="638.00" width="12.80" height="31.00" fill="#2234c8" />
<circle cx="1386.50" cy="643.00" r="1.6" fill="#203050" stroke="#6070c0" stroke-width="0.5"/>
<circle cx="1393.50" cy="643.00" r="1.6" fill="#204a30" stroke="#60c080" stroke-width="0.5"/>
<circle cx="1386.50" cy="651.00" r="1.6" fill="#203050" stroke="#6070c0" stroke-width="0.5"/>
<circle cx="1393.50" cy="651.00" r="1.6" fill="#204a30" stroke="#60c080" stroke-width="0.5"/>
<circle cx="1386.50" cy="659.00" r="1.6" fill="#203050" stroke="#6070c0" stroke-width="0.5"/>
<circle cx="1393.50" cy="659.00" r="1.6" fill="#204a30" stroke="#60c080" stroke-width="0.5"/>
<circle cx="1386.50" cy="666.00" r="1.6" fill="#203050" stroke="#6070c0" stroke-width="0.5"/>
<circle cx="1393.50" cy="666.00" r="1.6" fill="#204a30" stroke="#60c080" stroke-width="0.5"/>
<rect x="1398.00" y="639.00" width="4.00" height="30.00" fill="#151617" />
<circle cx="1412.00" cy="643.00" r="1.8" fill="#111" stroke="#777" stroke-width="0.6"/>
<circle cx="1418.50" cy="643.00" r="1.8" fill="#111" stroke="#777" stroke-width="0.6"/>
<circle cx="1412.00" cy="653.00" r="1.8" fill="#111" stroke="#777" stroke-width="0.6"/>
<circle cx="1418.50" cy="653.00" r="1.8" fill="#111" stroke="#777" stroke-width="0.6"/>
<circle cx="1412.00" cy="663.00" r="1.8" fill="#111" stroke="#777" stroke-width="0.6"/>
<circle cx="1418.50" cy="663.00" r="1.8" fill="#111" stroke="#777" stroke-width="0.6"/>
<rect x="1409.00" y="664.00" width="14.00" height="34.00" fill="#141516" />
<rect x="1410.50" y="666.30" width="10.90" height="8.90" fill="#d4d9dc" />
<rect x="1411.50" y="668.00" width="8.90" height="2.00" fill="#707a80" />
<rect x="1404.50" y="678.00" width="3.00" height="5.00" fill="#d02020" />
<rect x="1397.50" y="681.00" width="3.00" height="6.00" fill="#2030c0" />
<rect x="1386.00" y="672.00" width="2.50" height="2.00" fill="#8a8e90" />
<rect x="1391.00" y="672.00" width="2.50" height="2.00" fill="#8a8e90" />
<rect x="1386.00" y="677.00" width="2.50" height="2.00" fill="#8a8e90" />
<rect x="1391.00" y="677.00" width="2.50" height="2.00" fill="#8a8e90" />
<rect x="1386.00" y="682.00" width="2.50" height="2.00" fill="#8a8e90" />
<rect x="1391.00" y="682.00" width="2.50" height="2.00" fill="#8a8e90" />
<rect x="1386.00" y="687.00" width="2.50" height="2.00" fill="#8a8e90" />
<rect x="1391.00" y="687.00" width="2.50" height="2.00" fill="#8a8e90" />
<rect x="1386.00" y="692.00" width="2.50" height="2.00" fill="#8a8e90" />
<rect x="1391.00" y="692.00" width="2.50" height="2.00" fill="#8a8e90" />
<path d="M1283.3,721 L1288,719.3 L1288,752 L1287.2,763 L1287.2,855.8 L1461,855.8 L1461,763 L1462.2,752 L1462.2,719.3 L1466.9,721 L1466.9,752 L1462,763 Z" fill="#221a1c"/>
<rect x="1287.90" y="721.30" width="174.30" height="31.10" fill="#373b35" />
<rect x="1284.50" y="719.50" width="3.80" height="33.00" fill="#1a191c" />
<rect x="1462.20" y="719.50" width="3.80" height="33.00" fill="#1a191c" />
<rect x="1287.90" y="752.40" width="174.30" height="10.60" fill="#181a1b" />
<rect x="1294.60" y="754.40" width="9.40" height="4.70" fill="#c4ccA0" />
<rect x="1307.05" y="754.40" width="9.40" height="4.70" fill="#c4ccA0" />
<rect x="1319.50" y="754.40" width="9.40" height="4.70" fill="#c4ccA0" />
<rect x="1331.95" y="754.40" width="9.40" height="4.70" fill="#c4ccA0" />
<rect x="1344.40" y="754.40" width="9.40" height="4.70" fill="#c4ccA0" />
<rect x="1356.85" y="754.40" width="9.40" height="4.70" fill="#c4ccA0" />
<rect x="1369.30" y="754.40" width="9.40" height="4.70" fill="#c4ccA0" />
<rect x="1381.75" y="754.40" width="9.40" height="4.70" fill="#c4ccA0" />
<rect x="1406.20" y="753.50" width="16.00" height="6.50" fill="#6a6f68" />
<rect x="1424.60" y="753.50" width="16.00" height="6.50" fill="#6a6f68" />
<rect x="1407.00" y="757.00" width="14.00" height="1.50" fill="#c0c4b0" />
<rect x="1425.40" y="757.00" width="14.00" height="1.50" fill="#c0c4b0" />
<rect x="1444.40" y="754.80" width="10.00" height="1.30" fill="#a02020" />
<rect x="1429.00" y="725.50" width="28.00" height="2.50" fill="#1a1c1e" />
<rect x="1429.00" y="730.50" width="28.00" height="2.50" fill="#1a1c1e" />
<rect x="1429.00" y="739.00" width="28.00" height="2.50" fill="#1a1c1e" />
<rect x="1429.00" y="744.00" width="28.00" height="2.50" fill="#1a1c1e" />
<rect x="1287.20" y="763.00" width="173.80" height="92.80" fill="#261f22" />
<rect x="1292.20" y="765.20" width="79.40" height="78.50" fill="#45494b" />
<circle cx="1296.50" cy="772.50" r="1.7" fill="#c04070" />
<circle cx="1296.50" cy="777.50" r="1.7" fill="#e07030" />
<circle cx="1296.50" cy="782.00" r="1.7" fill="#e07030" />
<circle cx="1296.50" cy="787.00" r="1.7" fill="#e07030" />
<circle cx="1296.50" cy="796.00" r="1.9" fill="#30c040" />
<circle cx="1296.50" cy="801.50" r="1.8" fill="#30a0e0" />
<rect x="1295.90" y="808.00" width="1.20" height="1.20" fill="#d0a040" />
<rect x="1295.90" y="811.00" width="1.20" height="1.20" fill="#d0a040" />
<rect x="1295.90" y="814.00" width="1.20" height="1.20" fill="#d0a040" />
<rect x="1295.90" y="817.00" width="1.20" height="1.20" fill="#d0a040" />
<circle cx="1296.50" cy="822.00" r="1.5" fill="#ddd" />
<rect x="1296.10" y="826.00" width="0.80" height="12.00" fill="#111" />
<rect x="1294.30" y="838.00" width="4.40" height="4.50" fill="#d8c8a0" />
<circle cx="1303.95" cy="772.50" r="1.7" fill="#c04070" />
<circle cx="1303.95" cy="777.50" r="1.7" fill="#e07030" />
<circle cx="1303.95" cy="782.00" r="1.7" fill="#e07030" />
<circle cx="1303.95" cy="787.00" r="1.7" fill="#e07030" />
<circle cx="1303.95" cy="796.00" r="1.9" fill="#30c040" />
<circle cx="1303.95" cy="801.50" r="1.8" fill="#30a0e0" />
<rect x="1303.35" y="808.00" width="1.20" height="1.20" fill="#d0a040" />
<rect x="1303.35" y="811.00" width="1.20" height="1.20" fill="#d0a040" />
<rect x="1303.35" y="814.00" width="1.20" height="1.20" fill="#d0a040" />
<rect x="1303.35" y="817.00" width="1.20" height="1.20" fill="#d0a040" />
<circle cx="1303.95" cy="822.00" r="1.5" fill="#ddd" />
<rect x="1303.55" y="826.00" width="0.80" height="12.00" fill="#111" />
<rect x="1301.75" y="838.00" width="4.40" height="4.50" fill="#d8c8a0" />
<circle cx="1311.40" cy="772.50" r="1.7" fill="#c04070" />
<circle cx="1311.40" cy="777.50" r="1.7" fill="#e07030" />
<circle cx="1311.40" cy="782.00" r="1.7" fill="#e07030" />
<circle cx="1311.40" cy="787.00" r="1.7" fill="#e07030" />
<circle cx="1311.40" cy="796.00" r="1.9" fill="#30c040" />
<circle cx="1311.40" cy="801.50" r="1.8" fill="#30a0e0" />
<rect x="1310.80" y="808.00" width="1.20" height="1.20" fill="#d0a040" />
<rect x="1310.80" y="811.00" width="1.20" height="1.20" fill="#d0a040" />
<rect x="1310.80" y="814.00" width="1.20" height="1.20" fill="#d0a040" />
<rect x="1310.80" y="817.00" width="1.20" height="1.20" fill="#d0a040" />
<circle cx="1311.40" cy="822.00" r="1.5" fill="#ddd" />
<rect x="1311.00" y="826.00" width="0.80" height="12.00" fill="#111" />
<rect x="1309.20" y="838.00" width="4.40" height="4.50" fill="#d8c8a0" />
<circle cx="1318.85" cy="772.50" r="1.7" fill="#c04070" />
<circle cx="1318.85" cy="777.50" r="1.7" fill="#e07030" />
<circle cx="1318.85" cy="782.00" r="1.7" fill="#e07030" />
<circle cx="1318.85" cy="787.00" r="1.7" fill="#e07030" />
<circle cx="1318.85" cy="796.00" r="1.9" fill="#30c040" />
<circle cx="1318.85" cy="801.50" r="1.8" fill="#30a0e0" />
<rect x="1318.25" y="808.00" width="1.20" height="1.20" fill="#d0a040" />
<rect x="1318.25" y="811.00" width="1.20" height="1.20" fill="#d0a040" />
<rect x="1318.25" y="814.00" width="1.20" height="1.20" fill="#d0a040" />
<rect x="1318.25" y="817.00" width="1.20" height="1.20" fill="#d0a040" />
<circle cx="1318.85" cy="822.00" r="1.5" fill="#ddd" />
<rect x="1318.45" y="826.00" width="0.80" height="12.00" fill="#111" />
<rect x="1316.65" y="838.00" width="4.40" height="4.50" fill="#d8c8a0" />
<circle cx="1326.30" cy="772.50" r="1.7" fill="#c04070" />
<circle cx="1326.30" cy="777.50" r="1.7" fill="#e07030" />
<circle cx="1326.30" cy="782.00" r="1.7" fill="#e07030" />
<circle cx="1326.30" cy="787.00" r="1.7" fill="#e07030" />
<circle cx="1326.30" cy="796.00" r="1.9" fill="#30c040" />
<circle cx="1326.30" cy="801.50" r="1.8" fill="#30a0e0" />
<rect x="1325.70" y="808.00" width="1.20" height="1.20" fill="#d0a040" />
<rect x="1325.70" y="811.00" width="1.20" height="1.20" fill="#d0a040" />
<rect x="1325.70" y="814.00" width="1.20" height="1.20" fill="#d0a040" />
<rect x="1325.70" y="817.00" width="1.20" height="1.20" fill="#d0a040" />
<circle cx="1326.30" cy="822.00" r="1.5" fill="#ddd" />
<rect x="1325.90" y="826.00" width="0.80" height="12.00" fill="#111" />
<rect x="1324.10" y="838.00" width="4.40" height="4.50" fill="#d8c8a0" />
<circle cx="1333.75" cy="772.50" r="1.7" fill="#c04070" />
<circle cx="1333.75" cy="777.50" r="1.7" fill="#e07030" />
<circle cx="1333.75" cy="782.00" r="1.7" fill="#e07030" />
<circle cx="1333.75" cy="787.00" r="1.7" fill="#e07030" />
<circle cx="1333.75" cy="796.00" r="1.9" fill="#30c040" />
<circle cx="1333.75" cy="801.50" r="1.8" fill="#30a0e0" />
<rect x="1333.15" y="808.00" width="1.20" height="1.20" fill="#d0a040" />
<rect x="1333.15" y="811.00" width="1.20" height="1.20" fill="#d0a040" />
<rect x="1333.15" y="814.00" width="1.20" height="1.20" fill="#d0a040" />
<rect x="1333.15" y="817.00" width="1.20" height="1.20" fill="#d0a040" />
<circle cx="1333.75" cy="822.00" r="1.5" fill="#ddd" />
<rect x="1333.35" y="826.00" width="0.80" height="12.00" fill="#111" />
<rect x="1331.55" y="838.00" width="4.40" height="4.50" fill="#d8c8a0" />
<circle cx="1341.20" cy="772.50" r="1.7" fill="#c04070" />
<circle cx="1341.20" cy="777.50" r="1.7" fill="#e07030" />
<circle cx="1341.20" cy="782.00" r="1.7" fill="#e07030" />
<circle cx="1341.20" cy="787.00" r="1.7" fill="#e07030" />
<circle cx="1341.20" cy="796.00" r="1.9" fill="#30c040" />
<circle cx="1341.20" cy="801.50" r="1.8" fill="#30a0e0" />
<rect x="1340.60" y="808.00" width="1.20" height="1.20" fill="#d0a040" />
<rect x="1340.60" y="811.00" width="1.20" height="1.20" fill="#d0a040" />
<rect x="1340.60" y="814.00" width="1.20" height="1.20" fill="#d0a040" />
<rect x="1340.60" y="817.00" width="1.20" height="1.20" fill="#d0a040" />
<circle cx="1341.20" cy="822.00" r="1.5" fill="#ddd" />
<rect x="1340.80" y="826.00" width="0.80" height="12.00" fill="#111" />
<rect x="1339.00" y="838.00" width="4.40" height="4.50" fill="#d8c8a0" />
<circle cx="1348.65" cy="772.50" r="1.7" fill="#c04070" />
<circle cx="1348.65" cy="777.50" r="1.7" fill="#e07030" />
<circle cx="1348.65" cy="782.00" r="1.7" fill="#e07030" />
<circle cx="1348.65" cy="787.00" r="1.7" fill="#e07030" />
<circle cx="1348.65" cy="796.00" r="1.9" fill="#30c040" />
<circle cx="1348.65" cy="801.50" r="1.8" fill="#30a0e0" />
<rect x="1348.05" y="808.00" width="1.20" height="1.20" fill="#d0a040" />
<rect x="1348.05" y="811.00" width="1.20" height="1.20" fill="#d0a040" />
<rect x="1348.05" y="814.00" width="1.20" height="1.20" fill="#d0a040" />
<rect x="1348.05" y="817.00" width="1.20" height="1.20" fill="#d0a040" />
<circle cx="1348.65" cy="822.00" r="1.5" fill="#ddd" />
<rect x="1348.25" y="826.00" width="0.80" height="12.00" fill="#111" />
<rect x="1346.45" y="838.00" width="4.40" height="4.50" fill="#d8c8a0" />
<circle cx="1354.50" cy="773.00" r="1.4" fill="#c8c8c8" />
<circle cx="1354.50" cy="778.60" r="1.4" fill="#c8c8c8" />
<circle cx="1354.50" cy="784.20" r="1.4" fill="#c8c8c8" />
<circle cx="1354.50" cy="789.80" r="1.4" fill="#c8c8c8" />
<circle cx="1354.50" cy="795.40" r="1.4" fill="#c8c8c8" />
<circle cx="1354.50" cy="801.00" r="1.4" fill="#c8c8c8" />
<circle cx="1354.50" cy="806.60" r="1.4" fill="#c8c8c8" />
<circle cx="1354.50" cy="812.20" r="1.4" fill="#c8c8c8" />
<circle cx="1354.50" cy="817.80" r="1.4" fill="#c8c8c8" />
<circle cx="1354.50" cy="823.40" r="1.4" fill="#c8c8c8" />
<rect x="1352.30" y="838.00" width="4.40" height="4.50" fill="#e06020" />
<circle cx="1360.50" cy="773.00" r="1.4" fill="#c8c8c8" />
<circle cx="1360.50" cy="778.60" r="1.4" fill="#c8c8c8" />
<circle cx="1360.50" cy="784.20" r="1.4" fill="#c8c8c8" />
<circle cx="1360.50" cy="789.80" r="1.4" fill="#c8c8c8" />
<circle cx="1360.50" cy="795.40" r="1.4" fill="#c8c8c8" />
<circle cx="1360.50" cy="801.00" r="1.4" fill="#c8c8c8" />
<circle cx="1360.50" cy="806.60" r="1.4" fill="#c8c8c8" />
<circle cx="1360.50" cy="812.20" r="1.4" fill="#c8c8c8" />
<circle cx="1360.50" cy="817.80" r="1.4" fill="#c8c8c8" />
<circle cx="1360.50" cy="823.40" r="1.4" fill="#c8c8c8" />
<rect x="1358.30" y="838.00" width="4.40" height="4.50" fill="#e06020" />
<circle cx="1366.70" cy="797.00" r="1.9" fill="#30c040" />
<circle cx="1366.70" cy="803.00" r="1.8" fill="#30a0e0" />
<rect x="1364.50" y="838.00" width="4.40" height="4.50" fill="#e02030" />
<defs><radialGradient id="scr" cx="0.55" cy="0.75" r="0.7"><stop offset="0" stop-color="#c6cbcd"/><stop offset="0.6" stop-color="#7f868a"/><stop offset="1" stop-color="#4e5458"/></radialGradient></defs>
<rect x="1372.70" y="765.70" width="85.60" height="61.00" fill="#50565a" />
<rect x="1374.50" y="769.50" width="82.00" height="55.00" fill="url(#scr)" />
<rect x="1377.00" y="766.50" width="80.00" height="3.00" fill="#6a7a8a" />
<rect x="1439.00" y="818.50" width="18.00" height="2.50" fill="#c0d8e8" />
<rect x="1372.70" y="826.70" width="85.60" height="17.20" fill="#454c46" />
<rect x="1376.70" y="832.00" width="10.00" height="4.00" fill="#0c0c0c" />
<rect x="1377.00" y="838.50" width="4.50" height="2.80" fill="#d8d8d0" />
<rect x="1383.80" y="838.50" width="4.50" height="2.80" fill="#d8d8d0" />
<rect x="1390.60" y="838.50" width="4.50" height="2.80" fill="#d8d8d0" />
<rect x="1397.40" y="838.50" width="4.50" height="2.80" fill="#d8d8d0" />
<rect x="1404.20" y="838.50" width="4.50" height="2.80" fill="#d8d8d0" />
<circle cx="1389.50" cy="834.00" r="0.9" fill="#ccc" />
<circle cx="1393.10" cy="834.00" r="0.9" fill="#ccc" />
<circle cx="1396.70" cy="834.00" r="0.9" fill="#ccc" />
<circle cx="1400.30" cy="834.00" r="0.9" fill="#ccc" />
<circle cx="1403.90" cy="834.00" r="0.9" fill="#ccc" />
<circle cx="1407.50" cy="834.00" r="0.9" fill="#ccc" />
<rect x="1287.20" y="843.90" width="173.80" height="11.90" fill="#43282f" />
<text x="1330" y="855" font-size="13.5" font-weight="bold" fill="#7a6a72" font-family="Liberation Mono, monospace" textLength="90" lengthAdjust="spacingAndGlyphs">©2020 SOUNDGAS</text>
</g>
<g id="devices">
<rect x="67.8" y="770.9" width="206.2" height="36.9" fill="#2e3336"/>
<rect x="67.8" y="852" width="206.2" height="37.3" fill="#2e3336"/>
<rect x="67.8" y="930.8" width="206.2" height="37.4" fill="#2e3336"/>
<rect x="67.8" y="1011.9" width="206.2" height="36.8" fill="#2e3336"/>
<rect x="67.8" y="1093.8" width="206.2" height="36.8" fill="#2e3336"/>
<rect x="307.5" y="770.2" width="248" height="78.6" fill="none" stroke="#2e3336" stroke-width="3"/>
<circle cx="335.10" cy="794" r="7.4" fill="none" stroke="#2e3336" stroke-width="6"/>
<circle cx="335.10" cy="825.6" r="7.4" fill="none" stroke="#2e3336" stroke-width="6"/>
<circle cx="362.74" cy="794" r="7.4" fill="none" stroke="#2e3336" stroke-width="6"/>
<circle cx="362.74" cy="825.6" r="7.4" fill="none" stroke="#2e3336" stroke-width="6"/>
<circle cx="390.38" cy="794" r="7.4" fill="none" stroke="#2e3336" stroke-width="6"/>
<circle cx="390.38" cy="825.6" r="7.4" fill="none" stroke="#2e3336" stroke-width="6"/>
<circle cx="418.02" cy="794" r="7.4" fill="none" stroke="#2e3336" stroke-width="6"/>
<circle cx="418.02" cy="825.6" r="7.4" fill="none" stroke="#2e3336" stroke-width="6"/>
<circle cx="445.66" cy="794" r="7.4" fill="none" stroke="#2e3336" stroke-width="6"/>
<circle cx="445.66" cy="825.6" r="7.4" fill="none" stroke="#2e3336" stroke-width="6"/>
<circle cx="473.30" cy="794" r="7.4" fill="none" stroke="#2e3336" stroke-width="6"/>
<circle cx="473.30" cy="825.6" r="7.4" fill="none" stroke="#2e3336" stroke-width="6"/>
<circle cx="500.94" cy="794" r="7.4" fill="none" stroke="#2e3336" stroke-width="6"/>
<circle cx="500.94" cy="825.6" r="7.4" fill="none" stroke="#2e3336" stroke-width="6"/>
<circle cx="528.58" cy="794" r="7.4" fill="none" stroke="#2e3336" stroke-width="6"/>
<circle cx="528.58" cy="825.6" r="7.4" fill="none" stroke="#2e3336" stroke-width="6"/>
<rect x="304.7" y="892.7" width="248.4" height="110.5" fill="none" stroke="#2e3336" stroke-width="3"/>
<rect x="314.60" y="929.8" width="6.2" height="63.3" fill="#2e3336"/>
<rect x="329.50" y="929.8" width="6.2" height="63.3" fill="#2e3336"/>
<rect x="344.40" y="929.8" width="6.2" height="63.3" fill="#2e3336"/>
<rect x="359.30" y="929.8" width="6.2" height="63.3" fill="#2e3336"/>
<rect x="374.20" y="929.8" width="6.2" height="63.3" fill="#2e3336"/>
<rect x="389.10" y="929.8" width="6.2" height="63.3" fill="#2e3336"/>
<rect x="404.00" y="929.8" width="6.2" height="63.3" fill="#2e3336"/>
<rect x="418.90" y="929.8" width="6.2" height="63.3" fill="#2e3336"/>
<rect x="433.80" y="929.8" width="6.2" height="63.3" fill="#2e3336"/>
<rect x="448.70" y="929.8" width="6.2" height="63.3" fill="#2e3336"/>
<rect x="463.60" y="929.8" width="6.2" height="63.3" fill="#2e3336"/>
<rect x="478.50" y="929.8" width="6.2" height="63.3" fill="#2e3336"/>
<rect x="493.40" y="929.8" width="6.2" height="63.3" fill="#2e3336"/>
<rect x="508.30" y="929.8" width="6.2" height="63.3" fill="#2e3336"/>
<rect x="523.20" y="929.8" width="6.2" height="63.3" fill="#2e3336"/>
<rect x="538.10" y="929.8" width="6.2" height="63.3" fill="#2e3336"/>
<rect x="62.2" y="410.6" width="132.6" height="141.4" fill="#fde5a0" stroke="#d3b77c" stroke-width="0.9"/>
<rect x="72.2" y="417.9" width="111.9" height="95.7" fill="#eee1cb"/>
<rect x="73.6" y="525.7" width="109.8" height="21.6" fill="#e6e6e6"/>
<circle cx="91.4" cy="437.9" r="29.4" fill="#c9c9c9" stroke="#9a9a90" stroke-width="0.8"/>
<circle cx="164.8" cy="437.9" r="29.4" fill="#c9c9c9" stroke="#9a9a90" stroke-width="0.8"/>
<circle cx="82.3" cy="480.2" r="3.4" fill="#c9c9c9" stroke="#9a9a90" stroke-width="0.6"/>
<circle cx="103" cy="484.6" r="4.9" fill="#c9c9c9" stroke="#9a9a90" stroke-width="0.6"/>
<circle cx="149" cy="484.6" r="4.9" fill="#c9c9c9" stroke="#9a9a90" stroke-width="0.6"/>
<circle cx="171" cy="480.2" r="3.4" fill="#c9c9c9" stroke="#9a9a90" stroke-width="0.6"/>
<circle cx="150.4" cy="492.3" r="1.2" fill="#c9c9c9" stroke="#9a9a90" stroke-width="0.6"/>
<path d="M112.3,485 Q112.3,483.3 114,483.3 L141,483.3 Q142.7,483.3 142.7,485 L142.7,493.2 Q135,496.6 127.5,496.6 Q120,496.6 112.3,493.2 Z" fill="#c9c9c9" stroke="#9a9a90" stroke-width="0.6"/>
<rect x="1170.8" y="388.3" width="59.2" height="77.3" fill="#32373a"/>
<rect x="1176.8" y="394.3" width="47.2" height="65.3" fill="#151515"/>
<rect x="1237.3" y="388.3" width="59.5" height="77.3" fill="#32373a"/>
<rect x="1243.3" y="394.3" width="47.5" height="65.3" fill="#151515"/>
<rect x="1436.4" y="399.1" width="37.9" height="49.7" fill="#32373a"/>
<rect x="1441.0" y="403.7" width="28.7" height="40.5" fill="#151515"/>
<rect x="1484.4" y="399.1" width="37.9" height="49.7" fill="#32373a"/>
<rect x="1489.0" y="403.7" width="28.7" height="40.5" fill="#151515"/>
<rect x="1348.8" y="407.3" width="49.4" height="38.4" fill="#32373a"/>
<rect x="1356.7" y="415.2" width="33.1" height="22.8" fill="#151515"/>
<circle cx="1374" cy="427.2" r="9.6" fill="#fff"/>
<rect x="1320.6" y="1006.7" width="95.5" height="25.2" fill="none" stroke="#2e3336" stroke-width="2.5"/>
<rect x="1329.1" y="1012.9" width="27.5" height="13.6" fill="none" stroke="#2e3336" stroke-width="2.2"/>
<rect x="1385.5" y="1011.7" width="26" height="5" fill="none" stroke="#2e3336" stroke-width="2"/>
<rect x="1321.8" y="1053.6" width="95.8" height="32.9" fill="#4a2a08"/>
<rect x="1318.5" y="1087.3" width="50" height="4" fill="#e2e2e2" stroke="#9a9a9a" stroke-width="0.6"/>
<rect x="1372.6" y="1087.3" width="50" height="4" fill="#e2e2e2" stroke="#9a9a9a" stroke-width="0.6"/>
<rect x="1338.4" y="1091.5" width="10.2" height="4" fill="#222"/>
<rect x="1392.8" y="1091.5" width="9.5" height="4" fill="#222"/>
</g>
<g id="cables">
<rect x="104" y="162.6" width="370.4" height="42.599999999999994" fill="none" stroke="#33383c" stroke-width="2.6"/>
<circle cx="118.90" cy="175.30" r="3.65" fill="none" stroke="#2f3438" stroke-width="3.4"/>
<circle cx="118.90" cy="192.40" r="3.65" fill="none" stroke="#2f3438" stroke-width="3.4"/>
<circle cx="133.77" cy="175.30" r="3.65" fill="none" stroke="#2f3438" stroke-width="3.4"/>
<circle cx="133.77" cy="192.40" r="3.65" fill="none" stroke="#2f3438" stroke-width="3.4"/>
<circle cx="148.64" cy="175.30" r="3.65" fill="none" stroke="#2f3438" stroke-width="3.4"/>
<circle cx="148.64" cy="192.40" r="3.65" fill="none" stroke="#2f3438" stroke-width="3.4"/>
<circle cx="163.51" cy="175.30" r="3.65" fill="none" stroke="#2f3438" stroke-width="3.4"/>
<circle cx="163.51" cy="192.40" r="3.65" fill="none" stroke="#2f3438" stroke-width="3.4"/>
<circle cx="178.38" cy="175.30" r="3.65" fill="none" stroke="#2f3438" stroke-width="3.4"/>
<circle cx="178.38" cy="192.40" r="3.65" fill="none" stroke="#2f3438" stroke-width="3.4"/>
<circle cx="193.25" cy="175.30" r="3.65" fill="none" stroke="#2f3438" stroke-width="3.4"/>
<circle cx="193.25" cy="192.40" r="3.65" fill="none" stroke="#2f3438" stroke-width="3.4"/>
<circle cx="208.12" cy="175.30" r="3.65" fill="none" stroke="#2f3438" stroke-width="3.4"/>
<circle cx="208.12" cy="192.40" r="3.65" fill="none" stroke="#2f3438" stroke-width="3.4"/>
<circle cx="222.99" cy="175.30" r="3.65" fill="none" stroke="#2f3438" stroke-width="3.4"/>
<circle cx="222.99" cy="192.40" r="3.65" fill="none" stroke="#2f3438" stroke-width="3.4"/>
<circle cx="237.86" cy="175.30" r="3.65" fill="none" stroke="#2f3438" stroke-width="3.4"/>
<circle cx="237.86" cy="192.40" r="3.65" fill="none" stroke="#2f3438" stroke-width="3.4"/>
<circle cx="252.73" cy="175.30" r="3.65" fill="none" stroke="#2f3438" stroke-width="3.4"/>
<circle cx="252.73" cy="192.40" r="3.65" fill="none" stroke="#2f3438" stroke-width="3.4"/>
<circle cx="267.60" cy="175.30" r="3.65" fill="none" stroke="#2f3438" stroke-width="3.4"/>
<circle cx="267.60" cy="192.40" r="3.65" fill="none" stroke="#2f3438" stroke-width="3.4"/>
<circle cx="282.47" cy="175.30" r="3.65" fill="none" stroke="#2f3438" stroke-width="3.4"/>
<circle cx="282.47" cy="192.40" r="3.65" fill="none" stroke="#2f3438" stroke-width="3.4"/>
<circle cx="297.34" cy="175.30" r="3.65" fill="none" stroke="#2f3438" stroke-width="3.4"/>
<circle cx="297.34" cy="192.40" r="3.65" fill="none" stroke="#2f3438" stroke-width="3.4"/>
<circle cx="312.21" cy="175.30" r="3.65" fill="none" stroke="#2f3438" stroke-width="3.4"/>
<circle cx="312.21" cy="192.40" r="3.65" fill="none" stroke="#2f3438" stroke-width="3.4"/>
<circle cx="327.08" cy="175.30" r="3.65" fill="none" stroke="#2f3438" stroke-width="3.4"/>
<circle cx="327.08" cy="192.40" r="3.65" fill="none" stroke="#2f3438" stroke-width="3.4"/>
<circle cx="341.95" cy="175.30" r="3.65" fill="none" stroke="#2f3438" stroke-width="3.4"/>
<circle cx="341.95" cy="192.40" r="3.65" fill="none" stroke="#2f3438" stroke-width="3.4"/>
<circle cx="356.82" cy="175.30" r="3.65" fill="none" stroke="#2f3438" stroke-width="3.4"/>
<circle cx="356.82" cy="192.40" r="3.65" fill="none" stroke="#2f3438" stroke-width="3.4"/>
<circle cx="371.69" cy="175.30" r="3.65" fill="none" stroke="#2f3438" stroke-width="3.4"/>
<circle cx="371.69" cy="192.40" r="3.65" fill="none" stroke="#2f3438" stroke-width="3.4"/>
<circle cx="386.56" cy="175.30" r="3.65" fill="none" stroke="#2f3438" stroke-width="3.4"/>
<circle cx="386.56" cy="192.40" r="3.65" fill="none" stroke="#2f3438" stroke-width="3.4"/>
<circle cx="401.43" cy="175.30" r="3.65" fill="none" stroke="#2f3438" stroke-width="3.4"/>
<circle cx="401.43" cy="192.40" r="3.65" fill="none" stroke="#2f3438" stroke-width="3.4"/>
<circle cx="416.30" cy="175.30" r="3.65" fill="none" stroke="#2f3438" stroke-width="3.4"/>
<circle cx="416.30" cy="192.40" r="3.65" fill="none" stroke="#2f3438" stroke-width="3.4"/>
<circle cx="431.17" cy="175.30" r="3.65" fill="none" stroke="#2f3438" stroke-width="3.4"/>
<circle cx="431.17" cy="192.40" r="3.65" fill="none" stroke="#2f3438" stroke-width="3.4"/>
<circle cx="446.04" cy="175.30" r="3.65" fill="none" stroke="#2f3438" stroke-width="3.4"/>
<circle cx="446.04" cy="192.40" r="3.65" fill="none" stroke="#2f3438" stroke-width="3.4"/>
<circle cx="460.91" cy="175.30" r="3.65" fill="none" stroke="#2f3438" stroke-width="3.4"/>
<circle cx="460.91" cy="192.40" r="3.65" fill="none" stroke="#2f3438" stroke-width="3.4"/>
<rect x="104" y="305" width="370.8" height="42.19999999999999" fill="none" stroke="#33383c" stroke-width="2.6"/>
<circle cx="118.80" cy="317.40" r="3.65" fill="none" stroke="#2f3438" stroke-width="3.4"/>
<circle cx="118.80" cy="334.50" r="3.65" fill="none" stroke="#2f3438" stroke-width="3.4"/>
<circle cx="133.65" cy="317.40" r="3.65" fill="none" stroke="#2f3438" stroke-width="3.4"/>
<circle cx="133.65" cy="334.50" r="3.65" fill="none" stroke="#2f3438" stroke-width="3.4"/>
<circle cx="148.50" cy="317.40" r="3.65" fill="none" stroke="#2f3438" stroke-width="3.4"/>
<circle cx="148.50" cy="334.50" r="3.65" fill="none" stroke="#2f3438" stroke-width="3.4"/>
<circle cx="163.35" cy="317.40" r="3.65" fill="none" stroke="#2f3438" stroke-width="3.4"/>
<circle cx="163.35" cy="334.50" r="3.65" fill="none" stroke="#2f3438" stroke-width="3.4"/>
<circle cx="178.20" cy="317.40" r="3.65" fill="none" stroke="#2f3438" stroke-width="3.4"/>
<circle cx="178.20" cy="334.50" r="3.65" fill="none" stroke="#2f3438" stroke-width="3.4"/>
<circle cx="193.05" cy="317.40" r="3.65" fill="none" stroke="#2f3438" stroke-width="3.4"/>
<circle cx="193.05" cy="334.50" r="3.65" fill="none" stroke="#2f3438" stroke-width="3.4"/>
<circle cx="207.90" cy="317.40" r="3.65" fill="none" stroke="#2f3438" stroke-width="3.4"/>
<circle cx="207.90" cy="334.50" r="3.65" fill="none" stroke="#2f3438" stroke-width="3.4"/>
<circle cx="222.75" cy="317.40" r="3.65" fill="none" stroke="#2f3438" stroke-width="3.4"/>
<circle cx="222.75" cy="334.50" r="3.65" fill="none" stroke="#2f3438" stroke-width="3.4"/>
<circle cx="237.60" cy="317.40" r="3.65" fill="none" stroke="#2f3438" stroke-width="3.4"/>
<circle cx="237.60" cy="334.50" r="3.65" fill="none" stroke="#2f3438" stroke-width="3.4"/>
<circle cx="252.45" cy="317.40" r="3.65" fill="none" stroke="#2f3438" stroke-width="3.4"/>
<circle cx="252.45" cy="334.50" r="3.65" fill="none" stroke="#2f3438" stroke-width="3.4"/>
<circle cx="267.30" cy="317.40" r="3.65" fill="none" stroke="#2f3438" stroke-width="3.4"/>
<circle cx="267.30" cy="334.50" r="3.65" fill="none" stroke="#2f3438" stroke-width="3.4"/>
<circle cx="282.15" cy="317.40" r="3.65" fill="none" stroke="#2f3438" stroke-width="3.4"/>
<circle cx="282.15" cy="334.50" r="3.65" fill="none" stroke="#2f3438" stroke-width="3.4"/>
<circle cx="297.00" cy="317.40" r="3.65" fill="none" stroke="#2f3438" stroke-width="3.4"/>
<circle cx="297.00" cy="334.50" r="3.65" fill="none" stroke="#2f3438" stroke-width="3.4"/>
<circle cx="311.85" cy="317.40" r="3.65" fill="none" stroke="#2f3438" stroke-width="3.4"/>
<circle cx="311.85" cy="334.50" r="3.65" fill="none" stroke="#2f3438" stroke-width="3.4"/>
<circle cx="326.70" cy="317.40" r="3.65" fill="none" stroke="#2f3438" stroke-width="3.4"/>
<circle cx="326.70" cy="334.50" r="3.65" fill="none" stroke="#2f3438" stroke-width="3.4"/>
<circle cx="341.55" cy="317.40" r="3.65" fill="none" stroke="#2f3438" stroke-width="3.4"/>
<circle cx="341.55" cy="334.50" r="3.65" fill="none" stroke="#2f3438" stroke-width="3.4"/>
<circle cx="356.40" cy="317.40" r="3.65" fill="none" stroke="#2f3438" stroke-width="3.4"/>
<circle cx="356.40" cy="334.50" r="3.65" fill="none" stroke="#2f3438" stroke-width="3.4"/>
<circle cx="371.25" cy="317.40" r="3.65" fill="none" stroke="#2f3438" stroke-width="3.4"/>
<circle cx="371.25" cy="334.50" r="3.65" fill="none" stroke="#2f3438" stroke-width="3.4"/>
<circle cx="386.10" cy="317.40" r="3.65" fill="none" stroke="#2f3438" stroke-width="3.4"/>
<circle cx="386.10" cy="334.50" r="3.65" fill="none" stroke="#2f3438" stroke-width="3.4"/>
<circle cx="400.95" cy="317.40" r="3.65" fill="none" stroke="#2f3438" stroke-width="3.4"/>
<circle cx="400.95" cy="334.50" r="3.65" fill="none" stroke="#2f3438" stroke-width="3.4"/>
<circle cx="415.80" cy="317.40" r="3.65" fill="none" stroke="#2f3438" stroke-width="3.4"/>
<circle cx="415.80" cy="334.50" r="3.65" fill="none" stroke="#2f3438" stroke-width="3.4"/>
<circle cx="430.65" cy="317.40" r="3.65" fill="none" stroke="#2f3438" stroke-width="3.4"/>
<circle cx="430.65" cy="334.50" r="3.65" fill="none" stroke="#2f3438" stroke-width="3.4"/>
<circle cx="445.50" cy="317.40" r="3.65" fill="none" stroke="#2f3438" stroke-width="3.4"/>
<circle cx="445.50" cy="334.50" r="3.65" fill="none" stroke="#2f3438" stroke-width="3.4"/>
<circle cx="460.35" cy="317.40" r="3.65" fill="none" stroke="#2f3438" stroke-width="3.4"/>
<circle cx="460.35" cy="334.50" r="3.65" fill="none" stroke="#2f3438" stroke-width="3.4"/>
<rect x="247.2" y="452.6" width="251.0" height="42.0" fill="none" stroke="#33383c" stroke-width="2.6"/>
<circle cx="261.50" cy="465.30" r="3.65" fill="none" stroke="#2f3438" stroke-width="3.4"/>
<circle cx="261.50" cy="482.30" r="3.65" fill="none" stroke="#2f3438" stroke-width="3.4"/>
<circle cx="276.38" cy="465.30" r="3.65" fill="none" stroke="#2f3438" stroke-width="3.4"/>
<circle cx="276.38" cy="482.30" r="3.65" fill="none" stroke="#2f3438" stroke-width="3.4"/>
<circle cx="291.26" cy="465.30" r="3.65" fill="none" stroke="#2f3438" stroke-width="3.4"/>
<circle cx="291.26" cy="482.30" r="3.65" fill="none" stroke="#2f3438" stroke-width="3.4"/>
<circle cx="306.14" cy="465.30" r="3.65" fill="none" stroke="#2f3438" stroke-width="3.4"/>
<circle cx="306.14" cy="482.30" r="3.65" fill="none" stroke="#2f3438" stroke-width="3.4"/>
<circle cx="321.02" cy="465.30" r="3.65" fill="none" stroke="#2f3438" stroke-width="3.4"/>
<circle cx="321.02" cy="482.30" r="3.65" fill="none" stroke="#2f3438" stroke-width="3.4"/>
<circle cx="335.90" cy="465.30" r="3.65" fill="none" stroke="#2f3438" stroke-width="3.4"/>
<circle cx="335.90" cy="482.30" r="3.65" fill="none" stroke="#2f3438" stroke-width="3.4"/>
<circle cx="350.78" cy="465.30" r="3.65" fill="none" stroke="#2f3438" stroke-width="3.4"/>
<circle cx="350.78" cy="482.30" r="3.65" fill="none" stroke="#2f3438" stroke-width="3.4"/>
<circle cx="365.66" cy="465.30" r="3.65" fill="none" stroke="#2f3438" stroke-width="3.4"/>
<circle cx="365.66" cy="482.30" r="3.65" fill="none" stroke="#2f3438" stroke-width="3.4"/>
<circle cx="380.54" cy="465.30" r="3.65" fill="none" stroke="#2f3438" stroke-width="3.4"/>
<circle cx="380.54" cy="482.30" r="3.65" fill="none" stroke="#2f3438" stroke-width="3.4"/>
<circle cx="395.42" cy="465.30" r="3.65" fill="none" stroke="#2f3438" stroke-width="3.4"/>
<circle cx="395.42" cy="482.30" r="3.65" fill="none" stroke="#2f3438" stroke-width="3.4"/>
<circle cx="410.30" cy="465.30" r="3.65" fill="none" stroke="#2f3438" stroke-width="3.4"/>
<circle cx="410.30" cy="482.30" r="3.65" fill="none" stroke="#2f3438" stroke-width="3.4"/>
<circle cx="425.18" cy="465.30" r="3.65" fill="none" stroke="#2f3438" stroke-width="3.4"/>
<circle cx="425.18" cy="482.30" r="3.65" fill="none" stroke="#2f3438" stroke-width="3.4"/>
<circle cx="440.06" cy="465.30" r="3.65" fill="none" stroke="#2f3438" stroke-width="3.4"/>
<circle cx="440.06" cy="482.30" r="3.65" fill="none" stroke="#2f3438" stroke-width="3.4"/>
<circle cx="454.94" cy="465.30" r="3.65" fill="none" stroke="#2f3438" stroke-width="3.4"/>
<circle cx="454.94" cy="482.30" r="3.65" fill="none" stroke="#2f3438" stroke-width="3.4"/>
<circle cx="469.82" cy="465.30" r="3.65" fill="none" stroke="#2f3438" stroke-width="3.4"/>
<circle cx="469.82" cy="482.30" r="3.65" fill="none" stroke="#2f3438" stroke-width="3.4"/>
<circle cx="484.70" cy="465.30" r="3.65" fill="none" stroke="#2f3438" stroke-width="3.4"/>
<circle cx="484.70" cy="482.30" r="3.65" fill="none" stroke="#2f3438" stroke-width="3.4"/>
<rect x="104" y="625.6" width="252" height="42.2" fill="none" stroke="#33383c" stroke-width="2.6"/>
<circle cx="119.20" cy="637.8" r="3.65" fill="#fff" stroke="#2b3034" stroke-width="3.5"/>
<circle cx="119.20" cy="655.4" r="3.65" fill="#fff" stroke="#2b3034" stroke-width="3.5"/>
<circle cx="134.05" cy="637.8" r="3.65" fill="#fff" stroke="#2b3034" stroke-width="3.5"/>
<circle cx="134.05" cy="655.4" r="3.65" fill="#fff" stroke="#2b3034" stroke-width="3.5"/>
<circle cx="148.90" cy="637.8" r="3.65" fill="#fff" stroke="#2b3034" stroke-width="3.5"/>
<circle cx="148.90" cy="655.4" r="3.65" fill="#fff" stroke="#2b3034" stroke-width="3.5"/>
<circle cx="163.75" cy="637.8" r="3.65" fill="#fff" stroke="#2b3034" stroke-width="3.5"/>
<circle cx="163.75" cy="655.4" r="3.65" fill="#fff" stroke="#2b3034" stroke-width="3.5"/>
<circle cx="178.60" cy="637.8" r="3.65" fill="#fff" stroke="#2b3034" stroke-width="3.5"/>
<circle cx="178.60" cy="655.4" r="3.65" fill="#fff" stroke="#2b3034" stroke-width="3.5"/>
<circle cx="193.45" cy="637.8" r="3.65" fill="#fff" stroke="#2b3034" stroke-width="3.5"/>
<circle cx="193.45" cy="655.4" r="3.65" fill="#fff" stroke="#2b3034" stroke-width="3.5"/>
<circle cx="208.30" cy="637.8" r="3.65" fill="#fff" stroke="#2b3034" stroke-width="3.5"/>
<circle cx="208.30" cy="655.4" r="3.65" fill="#fff" stroke="#2b3034" stroke-width="3.5"/>
<circle cx="223.15" cy="637.8" r="3.65" fill="#fff" stroke="#2b3034" stroke-width="3.5"/>
<circle cx="223.15" cy="655.4" r="3.65" fill="#fff" stroke="#2b3034" stroke-width="3.5"/>
<circle cx="238.00" cy="637.8" r="3.65" fill="#fff" stroke="#2b3034" stroke-width="3.5"/>
<circle cx="238.00" cy="655.4" r="3.65" fill="#fff" stroke="#2b3034" stroke-width="3.5"/>
<circle cx="252.85" cy="637.8" r="3.65" fill="#fff" stroke="#2b3034" stroke-width="3.5"/>
<circle cx="252.85" cy="655.4" r="3.65" fill="#fff" stroke="#2b3034" stroke-width="3.5"/>
<circle cx="267.70" cy="637.8" r="3.65" fill="#fff" stroke="#2b3034" stroke-width="3.5"/>
<circle cx="267.70" cy="655.4" r="3.65" fill="#fff" stroke="#2b3034" stroke-width="3.5"/>
<circle cx="282.55" cy="637.8" r="3.65" fill="#fff" stroke="#2b3034" stroke-width="3.5"/>
<circle cx="282.55" cy="655.4" r="3.65" fill="#fff" stroke="#2b3034" stroke-width="3.5"/>
<circle cx="297.40" cy="637.8" r="3.65" fill="#fff" stroke="#2b3034" stroke-width="3.5"/>
<circle cx="297.40" cy="655.4" r="3.65" fill="#fff" stroke="#2b3034" stroke-width="3.5"/>
<circle cx="312.25" cy="637.8" r="3.65" fill="#fff" stroke="#2b3034" stroke-width="3.5"/>
<circle cx="312.25" cy="655.4" r="3.65" fill="#fff" stroke="#2b3034" stroke-width="3.5"/>
<circle cx="327.10" cy="637.8" r="3.65" fill="#fff" stroke="#2b3034" stroke-width="3.5"/>
<circle cx="327.10" cy="655.4" r="3.65" fill="#fff" stroke="#2b3034" stroke-width="3.5"/>
<circle cx="341.95" cy="637.8" r="3.65" fill="#fff" stroke="#2b3034" stroke-width="3.5"/>
<circle cx="341.95" cy="655.4" r="3.65" fill="#fff" stroke="#2b3034" stroke-width="3.5"/>
<line x1="116.0" y1="637.8" x2="137.25" y2="637.8" stroke="#a2a2a2" stroke-width="3" stroke-linecap="butt"/>
<line x1="116.0" y1="655.4" x2="137.25" y2="655.4" stroke="#a2a2a2" stroke-width="3" stroke-linecap="butt"/>
<line x1="145.70000000000002" y1="637.8" x2="166.95" y2="637.8" stroke="#a2a2a2" stroke-width="3" stroke-linecap="butt"/>
<line x1="145.70000000000002" y1="655.4" x2="166.95" y2="655.4" stroke="#a2a2a2" stroke-width="3" stroke-linecap="butt"/>
<line x1="175.4" y1="637.8" x2="196.64999999999998" y2="637.8" stroke="#a2a2a2" stroke-width="3" stroke-linecap="butt"/>
<line x1="175.4" y1="655.4" x2="196.64999999999998" y2="655.4" stroke="#a2a2a2" stroke-width="3" stroke-linecap="butt"/>
<line x1="205.10000000000002" y1="637.8" x2="226.35" y2="637.8" stroke="#a2a2a2" stroke-width="3" stroke-linecap="butt"/>
<line x1="205.10000000000002" y1="655.4" x2="226.35" y2="655.4" stroke="#a2a2a2" stroke-width="3" stroke-linecap="butt"/>
<line x1="234.8" y1="637.8" x2="256.05" y2="637.8" stroke="#a2a2a2" stroke-width="3" stroke-linecap="butt"/>
<line x1="234.8" y1="655.4" x2="256.05" y2="655.4" stroke="#a2a2a2" stroke-width="3" stroke-linecap="butt"/>
<line x1="264.5" y1="637.8" x2="285.75" y2="637.8" stroke="#a2a2a2" stroke-width="3" stroke-linecap="butt"/>
<line x1="264.5" y1="655.4" x2="285.75" y2="655.4" stroke="#a2a2a2" stroke-width="3" stroke-linecap="butt"/>
<line x1="294.2" y1="637.8" x2="315.45" y2="637.8" stroke="#a2a2a2" stroke-width="3" stroke-linecap="butt"/>
<line x1="294.2" y1="655.4" x2="315.45" y2="655.4" stroke="#a2a2a2" stroke-width="3" stroke-linecap="butt"/>
<line x1="323.90000000000003" y1="637.8" x2="330.3" y2="637.8" stroke="#a2a2a2" stroke-width="3" stroke-linecap="butt"/>
<line x1="323.90000000000003" y1="655.4" x2="330.3" y2="655.4" stroke="#a2a2a2" stroke-width="3" stroke-linecap="butt"/>
<line x1="338.75" y1="637.8" x2="345.15" y2="637.8" stroke="#a2a2a2" stroke-width="3" stroke-linecap="butt"/>
<line x1="338.75" y1="655.4" x2="345.15" y2="655.4" stroke="#a2a2a2" stroke-width="3" stroke-linecap="butt"/>
<line x1="118.9" y1="175.3" x2="133.77" y2="175.3" stroke="#18f0f0" stroke-width="3" stroke-linecap="butt"/>
<line x1="148.64000000000001" y1="175.3" x2="312.21000000000004" y2="175.3" stroke="#0000e0" stroke-width="3" stroke-linecap="butt"/>
<line x1="327.08" y1="175.3" x2="341.95" y2="175.3" stroke="#3c00e6" stroke-width="2.6" stroke-linecap="butt"/>
<line x1="356.82" y1="175.3" x2="371.69" y2="175.3" stroke="#3c00e6" stroke-width="2.6" stroke-linecap="butt"/>
<line x1="386.55999999999995" y1="175.3" x2="401.42999999999995" y2="175.3" stroke="#3c00e6" stroke-width="2.6" stroke-linecap="butt"/>
<line x1="416.29999999999995" y1="175.3" x2="431.16999999999996" y2="175.3" stroke="#4e2a0c" stroke-width="2.6" stroke-linecap="butt"/>
<line x1="446.03999999999996" y1="175.3" x2="460.90999999999997" y2="175.3" stroke="#87532c" stroke-width="2.6" stroke-linecap="butt"/>
<line x1="118.9" y1="192.4" x2="133.77" y2="192.4" stroke="#18f0f0" stroke-width="3" stroke-linecap="butt"/>
<line x1="148.64000000000001" y1="192.4" x2="312.21000000000004" y2="192.4" stroke="#0000e0" stroke-width="3" stroke-linecap="butt"/>
<line x1="327.08" y1="192.4" x2="341.95" y2="192.4" stroke="#3c00e6" stroke-width="2.6" stroke-linecap="butt"/>
<line x1="356.82" y1="192.4" x2="371.69" y2="192.4" stroke="#3c00e6" stroke-width="2.6" stroke-linecap="butt"/>
<line x1="386.55999999999995" y1="192.4" x2="401.42999999999995" y2="192.4" stroke="#3c00e6" stroke-width="2.6" stroke-linecap="butt"/>
<line x1="416.29999999999995" y1="192.4" x2="431.16999999999996" y2="192.4" stroke="#4e2a0c" stroke-width="2.6" stroke-linecap="butt"/>
<line x1="446.03999999999996" y1="192.4" x2="460.90999999999997" y2="192.4" stroke="#87532c" stroke-width="2.6" stroke-linecap="butt"/>
<line x1="118.8" y1="317.4" x2="400.95" y2="317.4" stroke="#f0f020" stroke-width="3.9" stroke-linecap="butt"/>
<line x1="415.8" y1="317.4" x2="430.65" y2="317.4" stroke="#3c00e6" stroke-width="2.6" stroke-linecap="butt"/>
<line x1="445.5" y1="317.4" x2="460.35" y2="317.4" stroke="#3c00e6" stroke-width="2.6" stroke-linecap="butt"/>
<line x1="118.8" y1="334.5" x2="400.95" y2="334.5" stroke="#f0f020" stroke-width="3.9" stroke-linecap="butt"/>
<line x1="415.8" y1="334.5" x2="430.65" y2="334.5" stroke="#3c00e6" stroke-width="2.6" stroke-linecap="butt"/>
<line x1="445.5" y1="334.5" x2="460.35" y2="334.5" stroke="#3c00e6" stroke-width="2.6" stroke-linecap="butt"/>
<line x1="261.5" y1="465.3" x2="484.70000000000005" y2="465.3" stroke="#f41ccc" stroke-width="3.2" stroke-linecap="butt"/>
<line x1="261.5" y1="482.3" x2="484.70000000000005" y2="482.3" stroke="#f41ccc" stroke-width="3.2" stroke-linecap="butt"/>
<polyline points="118.9,175.3 118.9,133.3 537.8,133.3 537.8,720.8 712.3,720.8 712.3,742.2" fill="none" stroke="#18f0f0" stroke-width="3.5" stroke-linejoin="miter" stroke-linecap="butt" />
<polyline points="701.1,720.8 701.1,742.2" fill="none" stroke="#18f0f0" stroke-width="3.5" stroke-linejoin="miter" stroke-linecap="butt" />
<polyline points="148.7,175.3 148.7,144.8 522.2,144.8 522.2,750.8 943.6,750.8 943.6,772.7" fill="none" stroke="#0000e0" stroke-width="3.5" stroke-linejoin="miter" stroke-linecap="butt" />
<polyline points="118.8,317.4 118.3,272 622.6,272 622.6,591.7 943.6,591.7 943.6,612.8" fill="none" stroke="#f0f020" stroke-width="3.5" stroke-linejoin="miter" stroke-linecap="butt" />
<polyline points="416.3,175.3 416.3,111.5 598,111.5 598,466 1059.2,466 1059.2,806" fill="none" stroke="#4e2a0c" stroke-width="3.4" stroke-linejoin="miter" stroke-linecap="butt" />
<polyline points="1048.4,466 1048.4,806" fill="none" stroke="#4e2a0c" stroke-width="3.4" stroke-linejoin="miter" stroke-linecap="butt" />
<polyline points="1027.8,806 1027.8,484.7 1038.9,484.7 1038.9,806" fill="none" stroke="#4e2a0c" stroke-width="3.4" stroke-linejoin="miter" stroke-linecap="butt" />
<polyline points="446.1,175.3 446.1,126.5 610.3,126.5 610.3,484.3 996.4,484.3" fill="none" stroke="#87532c" stroke-width="3.4" stroke-linejoin="miter" stroke-linecap="butt" />
<polyline points="965.6,484.3 965.6,806" fill="none" stroke="#87532c" stroke-width="3.4" stroke-linejoin="miter" stroke-linecap="butt" />
<polyline points="975.8,484.3 975.8,806" fill="none" stroke="#87532c" stroke-width="3.4" stroke-linejoin="miter" stroke-linecap="butt" />
<polyline points="986,806 986,453.4 996.4,453.4 996.4,806" fill="none" stroke="#87532c" stroke-width="3.4" stroke-linejoin="miter" stroke-linecap="butt" />
<polyline points="68,948.2 26.1,948.2 26.1,74.2 386.6,74.2 386.6,175.3" fill="none" stroke="#3c00e6" stroke-width="3.5" stroke-linejoin="miter" stroke-linecap="butt" />
<polyline points="68,871.3 35.5,871.3 35.5,88.9 356.8,88.9 356.8,175.3" fill="none" stroke="#3c00e6" stroke-width="3.5" stroke-linejoin="miter" stroke-linecap="butt" />
<polyline points="68,787 46,787 46,105 327.1,105 327.1,175.3" fill="none" stroke="#3c00e6" stroke-width="3.5" stroke-linejoin="miter" stroke-linecap="butt" />
<polyline points="416.2,317.4 416.2,289.7 577.5,289.7 577.5,1030.5 274,1030.5" fill="none" stroke="#3c00e6" stroke-width="3.2" stroke-linejoin="miter" stroke-linecap="butt" />
<polyline points="445.7,317.4 445.7,296.3 584.6,296.3 584.6,1112.7 274,1112.7" fill="none" stroke="#3c00e6" stroke-width="3.2" stroke-linejoin="miter" stroke-linecap="butt" />
<polyline points="484.7,465.3 495,465.3 497,462.8 561.2,462.8 561.2,624.8 890.7,624.8 890.7,646.5" fill="none" stroke="#f41ccc" stroke-width="3.4" stroke-linejoin="miter" stroke-linecap="butt" />
<polyline points="195,482.3 261.5,482.3" fill="none" stroke="#f41ccc" stroke-width="3.4" stroke-linejoin="miter" stroke-linecap="butt" />
<polyline points="484.7,482.5 504.8,482.5 504.8,513.8 859.7,513.8 859.7,557.6 1367.9,557.6 1367.9,600.4" fill="none" stroke="#f41ccc" stroke-width="3.4" stroke-linejoin="miter" stroke-linecap="butt" />
<polyline points="195,540.9 545.8,540.9 545.8,658.2 890.7,658.2 890.7,679.3" fill="none" stroke="#80f412" stroke-width="3.5" stroke-linejoin="miter" stroke-linecap="butt" />
<polyline points="897.3,657.6 1241.5,657.6 1241.5,1077.3 1316.3,1077.3" fill="none" stroke="#1a7a12" stroke-width="3.5" stroke-linejoin="miter" stroke-linecap="butt" />
<polyline points="1241.5,1012.6 1316.3,1012.6" fill="none" stroke="#1a7a12" stroke-width="3.5" stroke-linejoin="miter" stroke-linecap="butt" />
<line x1="910.2" y1="657.6" x2="910.2" y2="679.3" stroke="#1a7a12" stroke-width="3.6" stroke-linecap="butt"/>
<line x1="920.8" y1="657.6" x2="920.8" y2="679.3" stroke="#1a7a12" stroke-width="3.6" stroke-linecap="butt"/>
<line x1="931.1" y1="657.6" x2="931.1" y2="679.3" stroke="#1a7a12" stroke-width="3.6" stroke-linecap="butt"/>
<line x1="941.8" y1="657.6" x2="941.8" y2="679.3" stroke="#1a7a12" stroke-width="3.6" stroke-linecap="butt"/>
<polyline points="931.2,712.2 931.2,691.8 942.6,691.8 942.6,712.2" fill="none" stroke="#f41ccc" stroke-width="3.4" stroke-linejoin="miter" stroke-linecap="butt" />
<polyline points="942.6,701.4 1209.8,701.4 1209.8,1023.8 1316.3,1023.8" fill="none" stroke="#f41ccc" stroke-width="3.4" stroke-linejoin="miter" stroke-linecap="butt" />
<polyline points="909.1,742.2 909.1,720.8 920.5,720.8 920.5,742.2" fill="none" stroke="#f41ccc" stroke-width="3.4" stroke-linejoin="miter" stroke-linecap="butt" />
<polyline points="920.5,731.2 1178.9,731.2 1178.9,1068.6 1316.3,1068.6" fill="none" stroke="#f41ccc" stroke-width="3.4" stroke-linejoin="miter" stroke-linecap="butt" />
<polyline points="558.6,784.8 943.6,784.8 943.6,805" fill="none" stroke="#f08a1e" stroke-width="3.4" stroke-linejoin="miter" stroke-linecap="butt" />
<polyline points="230.5,690.5 230.5,729 292.3,729 292.3,948 303.5,948" fill="none" stroke="#a0a0a0" stroke-width="3.2" stroke-linejoin="miter" stroke-linecap="butt" />
<polyline points="1090.1,806 1090.1,521 1370,521 1370,449" fill="none" stroke="#5ee22e" stroke-width="3.5" stroke-linejoin="miter" stroke-linecap="butt" />
<polyline points="1101,521 1101,806" fill="none" stroke="#5ee22e" stroke-width="3.5" stroke-linejoin="miter" stroke-linecap="butt" />
<polyline points="1380,449 1380,520.4 1457.5,520.4 1457.5,659.7 1428.5,659.7" fill="none" stroke="#5ee22e" stroke-width="3.5" stroke-linejoin="miter" stroke-linecap="butt" />
<polyline points="1068.8,806 1068.8,630.7 1076.9,630.7 1076.9,806" fill="none" stroke="#5ee22e" stroke-width="3.2" stroke-linejoin="miter" stroke-linecap="butt" />
<line x1="1301.5" y1="425.5" x2="1342.3" y2="425.5" stroke="#5ee22e" stroke-width="3.5" stroke-linecap="butt"/>
<line x1="1402.8" y1="424" x2="1430" y2="424" stroke="#5ee22e" stroke-width="3.5" stroke-linecap="butt"/>
<rect x="698.6" y="227.5" width="209.7" height="54.4" fill="none" stroke="#5ee22e" stroke-width="3.5"/>
<line x1="803.1" y1="227.5" x2="803.1" y2="343.4" stroke="#5ee22e" stroke-width="3.5" stroke-linecap="butt"/>
<line x1="700.8" y1="591.7" x2="700.8" y2="612.8" stroke="#f0f020" stroke-width="3.6" stroke-linecap="butt"/>
<line x1="711.7" y1="591.7" x2="711.7" y2="612.8" stroke="#f0f020" stroke-width="3.6" stroke-linecap="butt"/>
<line x1="723.2" y1="591.7" x2="723.2" y2="612.8" stroke="#f0f020" stroke-width="3.6" stroke-linecap="butt"/>
<line x1="734" y1="591.7" x2="734" y2="612.8" stroke="#f0f020" stroke-width="3.6" stroke-linecap="butt"/>
<line x1="756" y1="591.7" x2="756" y2="612.8" stroke="#f0f020" stroke-width="3.6" stroke-linecap="butt"/>
<line x1="766.6" y1="591.7" x2="766.6" y2="612.8" stroke="#f0f020" stroke-width="3.6" stroke-linecap="butt"/>
<line x1="778.2" y1="591.7" x2="778.2" y2="612.8" stroke="#f0f020" stroke-width="3.6" stroke-linecap="butt"/>
<line x1="788.8" y1="591.7" x2="788.8" y2="612.8" stroke="#f0f020" stroke-width="3.6" stroke-linecap="butt"/>
<line x1="805" y1="591.7" x2="805" y2="612.8" stroke="#f0f020" stroke-width="3.6" stroke-linecap="butt"/>
<line x1="815.8" y1="591.7" x2="815.8" y2="612.8" stroke="#f0f020" stroke-width="3.6" stroke-linecap="butt"/>
<line x1="827.2" y1="591.7" x2="827.2" y2="612.8" stroke="#f0f020" stroke-width="3.6" stroke-linecap="butt"/>
<line x1="838" y1="591.7" x2="838" y2="612.8" stroke="#f0f020" stroke-width="3.6" stroke-linecap="butt"/>
<line x1="857.7" y1="591.7" x2="857.7" y2="612.8" stroke="#f0f020" stroke-width="3.6" stroke-linecap="butt"/>
<line x1="868.5" y1="591.7" x2="868.5" y2="612.8" stroke="#f0f020" stroke-width="3.6" stroke-linecap="butt"/>
<line x1="879.8" y1="591.7" x2="879.8" y2="612.8" stroke="#f0f020" stroke-width="3.6" stroke-linecap="butt"/>
<line x1="890.7" y1="591.7" x2="890.7" y2="612.8" stroke="#f0f020" stroke-width="3.6" stroke-linecap="butt"/>
<line x1="910.1" y1="591.7" x2="910.1" y2="612.8" stroke="#f0f020" stroke-width="3.6" stroke-linecap="butt"/>
<line x1="920.8" y1="591.7" x2="920.8" y2="612.8" stroke="#f0f020" stroke-width="3.6" stroke-linecap="butt"/>
<line x1="932.3" y1="591.7" x2="932.3" y2="612.8" stroke="#f0f020" stroke-width="3.6" stroke-linecap="butt"/>
<line x1="700.8" y1="624.8" x2="700.8" y2="646.5" stroke="#f41ccc" stroke-width="3.6" stroke-linecap="butt"/>
<line x1="711.7" y1="624.8" x2="711.7" y2="646.5" stroke="#f41ccc" stroke-width="3.6" stroke-linecap="butt"/>
<line x1="723.2" y1="624.8" x2="723.2" y2="646.5" stroke="#f41ccc" stroke-width="3.6" stroke-linecap="butt"/>
<line x1="734" y1="624.8" x2="734" y2="646.5" stroke="#f41ccc" stroke-width="3.6" stroke-linecap="butt"/>
<line x1="756" y1="624.8" x2="756" y2="646.5" stroke="#f41ccc" stroke-width="3.6" stroke-linecap="butt"/>
<line x1="766.6" y1="624.8" x2="766.6" y2="646.5" stroke="#f41ccc" stroke-width="3.6" stroke-linecap="butt"/>
<line x1="778.2" y1="624.8" x2="778.2" y2="646.5" stroke="#f41ccc" stroke-width="3.6" stroke-linecap="butt"/>
<line x1="788.8" y1="624.8" x2="788.8" y2="646.5" stroke="#f41ccc" stroke-width="3.6" stroke-linecap="butt"/>
<line x1="805" y1="624.8" x2="805" y2="646.5" stroke="#f41ccc" stroke-width="3.6" stroke-linecap="butt"/>
<line x1="815.8" y1="624.8" x2="815.8" y2="646.5" stroke="#f41ccc" stroke-width="3.6" stroke-linecap="butt"/>
<line x1="827.2" y1="624.8" x2="827.2" y2="646.5" stroke="#f41ccc" stroke-width="3.6" stroke-linecap="butt"/>
<line x1="838" y1="624.8" x2="838" y2="646.5" stroke="#f41ccc" stroke-width="3.6" stroke-linecap="butt"/>
<line x1="857.7" y1="624.8" x2="857.7" y2="646.5" stroke="#f41ccc" stroke-width="3.6" stroke-linecap="butt"/>
<line x1="868.5" y1="624.8" x2="868.5" y2="646.5" stroke="#f41ccc" stroke-width="3.6" stroke-linecap="butt"/>
<line x1="879.8" y1="624.8" x2="879.8" y2="646.5" stroke="#f41ccc" stroke-width="3.6" stroke-linecap="butt"/>
<line x1="700.8" y1="658.2" x2="700.8" y2="679.3" stroke="#80f412" stroke-width="3.6" stroke-linecap="butt"/>
<line x1="711.7" y1="658.2" x2="711.7" y2="679.3" stroke="#80f412" stroke-width="3.6" stroke-linecap="butt"/>
<line x1="723.2" y1="658.2" x2="723.2" y2="679.3" stroke="#80f412" stroke-width="3.6" stroke-linecap="butt"/>
<line x1="734" y1="658.2" x2="734" y2="679.3" stroke="#80f412" stroke-width="3.6" stroke-linecap="butt"/>
<line x1="756" y1="658.2" x2="756" y2="679.3" stroke="#80f412" stroke-width="3.6" stroke-linecap="butt"/>
<line x1="766.6" y1="658.2" x2="766.6" y2="679.3" stroke="#80f412" stroke-width="3.6" stroke-linecap="butt"/>
<line x1="778.2" y1="658.2" x2="778.2" y2="679.3" stroke="#80f412" stroke-width="3.6" stroke-linecap="butt"/>
<line x1="788.8" y1="658.2" x2="788.8" y2="679.3" stroke="#80f412" stroke-width="3.6" stroke-linecap="butt"/>
<line x1="805" y1="658.2" x2="805" y2="679.3" stroke="#80f412" stroke-width="3.6" stroke-linecap="butt"/>
<line x1="815.8" y1="658.2" x2="815.8" y2="679.3" stroke="#80f412" stroke-width="3.6" stroke-linecap="butt"/>
<line x1="827.2" y1="658.2" x2="827.2" y2="679.3" stroke="#80f412" stroke-width="3.6" stroke-linecap="butt"/>
<line x1="838" y1="658.2" x2="838" y2="679.3" stroke="#80f412" stroke-width="3.6" stroke-linecap="butt"/>
<line x1="857.7" y1="658.2" x2="857.7" y2="679.3" stroke="#80f412" stroke-width="3.6" stroke-linecap="butt"/>
<line x1="868.5" y1="658.2" x2="868.5" y2="679.3" stroke="#80f412" stroke-width="3.6" stroke-linecap="butt"/>
<line x1="879.8" y1="658.2" x2="879.8" y2="679.3" stroke="#80f412" stroke-width="3.6" stroke-linecap="butt"/>
<line x1="756" y1="750.8" x2="756" y2="772.7" stroke="#0000e0" stroke-width="3.6" stroke-linecap="butt"/>
<line x1="766.6" y1="750.8" x2="766.6" y2="772.7" stroke="#0000e0" stroke-width="3.6" stroke-linecap="butt"/>
<line x1="778.2" y1="750.8" x2="778.2" y2="772.7" stroke="#0000e0" stroke-width="3.6" stroke-linecap="butt"/>
<line x1="788.8" y1="750.8" x2="788.8" y2="772.7" stroke="#0000e0" stroke-width="3.6" stroke-linecap="butt"/>
<line x1="805" y1="750.8" x2="805" y2="772.7" stroke="#0000e0" stroke-width="3.6" stroke-linecap="butt"/>
<line x1="815.8" y1="750.8" x2="815.8" y2="772.7" stroke="#0000e0" stroke-width="3.6" stroke-linecap="butt"/>
<line x1="827.2" y1="750.8" x2="827.2" y2="772.7" stroke="#0000e0" stroke-width="3.6" stroke-linecap="butt"/>
<line x1="838" y1="750.8" x2="838" y2="772.7" stroke="#0000e0" stroke-width="3.6" stroke-linecap="butt"/>
<line x1="857.7" y1="750.8" x2="857.7" y2="772.7" stroke="#0000e0" stroke-width="3.6" stroke-linecap="butt"/>
<line x1="868.5" y1="750.8" x2="868.5" y2="772.7" stroke="#0000e0" stroke-width="3.6" stroke-linecap="butt"/>
<line x1="879.8" y1="750.8" x2="879.8" y2="772.7" stroke="#0000e0" stroke-width="3.6" stroke-linecap="butt"/>
<line x1="890.7" y1="750.8" x2="890.7" y2="772.7" stroke="#0000e0" stroke-width="3.6" stroke-linecap="butt"/>
<line x1="910.1" y1="750.8" x2="910.1" y2="772.7" stroke="#0000e0" stroke-width="3.6" stroke-linecap="butt"/>
<line x1="920.8" y1="750.8" x2="920.8" y2="772.7" stroke="#0000e0" stroke-width="3.6" stroke-linecap="butt"/>
<line x1="932.3" y1="750.8" x2="932.3" y2="772.7" stroke="#0000e0" stroke-width="3.6" stroke-linecap="butt"/>
<line x1="700.8" y1="784.8" x2="700.8" y2="805" stroke="#f08a1e" stroke-width="3.6" stroke-linecap="butt"/>
<line x1="711.7" y1="784.8" x2="711.7" y2="805" stroke="#f08a1e" stroke-width="3.6" stroke-linecap="butt"/>
<line x1="723.2" y1="784.8" x2="723.2" y2="805" stroke="#f08a1e" stroke-width="3.6" stroke-linecap="butt"/>
<line x1="734" y1="784.8" x2="734" y2="805" stroke="#f08a1e" stroke-width="3.6" stroke-linecap="butt"/>
<line x1="756" y1="784.8" x2="756" y2="805" stroke="#f08a1e" stroke-width="3.6" stroke-linecap="butt"/>
<line x1="766.6" y1="784.8" x2="766.6" y2="805" stroke="#f08a1e" stroke-width="3.6" stroke-linecap="butt"/>
<line x1="778.2" y1="784.8" x2="778.2" y2="805" stroke="#f08a1e" stroke-width="3.6" stroke-linecap="butt"/>
<line x1="788.8" y1="784.8" x2="788.8" y2="805" stroke="#f08a1e" stroke-width="3.6" stroke-linecap="butt"/>
<line x1="805" y1="784.8" x2="805" y2="805" stroke="#f08a1e" stroke-width="3.6" stroke-linecap="butt"/>
<line x1="815.8" y1="784.8" x2="815.8" y2="805" stroke="#f08a1e" stroke-width="3.6" stroke-linecap="butt"/>
<line x1="827.2" y1="784.8" x2="827.2" y2="805" stroke="#f08a1e" stroke-width="3.6" stroke-linecap="butt"/>
<line x1="838" y1="784.8" x2="838" y2="805" stroke="#f08a1e" stroke-width="3.6" stroke-linecap="butt"/>
<line x1="857.7" y1="784.8" x2="857.7" y2="805" stroke="#f08a1e" stroke-width="3.6" stroke-linecap="butt"/>
<line x1="868.5" y1="784.8" x2="868.5" y2="805" stroke="#f08a1e" stroke-width="3.6" stroke-linecap="butt"/>
<line x1="879.8" y1="784.8" x2="879.8" y2="805" stroke="#f08a1e" stroke-width="3.6" stroke-linecap="butt"/>
<line x1="890.7" y1="784.8" x2="890.7" y2="805" stroke="#f08a1e" stroke-width="3.6" stroke-linecap="butt"/>
<line x1="910.1" y1="784.8" x2="910.1" y2="805" stroke="#f08a1e" stroke-width="3.6" stroke-linecap="butt"/>
<line x1="920.8" y1="784.8" x2="920.8" y2="805" stroke="#f08a1e" stroke-width="3.6" stroke-linecap="butt"/>
<line x1="932.3" y1="784.8" x2="932.3" y2="805" stroke="#f08a1e" stroke-width="3.6" stroke-linecap="butt"/>
</g>
<g id="labels" style="will-change:opacity" opacity="0.999" stroke-width="0.3">
<text x="203.4" y="220.68" font-size="11.2" fill="#141414" stroke="#141414" textLength="171.6" lengthAdjust="spacingAndGlyphs" font-weight="normal" font-family="Liberation Sans, sans-serif" >48 PATCH BAY 1 - UNBALANCED</text>
<text x="203.4" y="364.88" font-size="11.2" fill="#141414" stroke="#141414" textLength="171.6" lengthAdjust="spacingAndGlyphs" font-weight="normal" font-family="Liberation Sans, sans-serif" >48 PATCH BAY 2 - UNBALANCED</text>
<text x="286.8" y="517.68" font-size="11.2" fill="#141414" stroke="#141414" textLength="171.7" lengthAdjust="spacingAndGlyphs" font-weight="normal" font-family="Liberation Sans, sans-serif" >32 PATCH BAY 3 - UNBALANCED</text>
<text x="177.9" y="600.62" font-size="14.6" fill="#141414" stroke="#141414" textLength="103.9" lengthAdjust="spacingAndGlyphs" font-weight="normal" font-family="Liberation Sans, sans-serif" >SYNTHESIZERS</text>
<text x="152.8" y="685.68" font-size="11.2" fill="#141414" stroke="#141414" textLength="154.3" lengthAdjust="spacingAndGlyphs" font-weight="normal" font-family="Liberation Sans, sans-serif" >32 PATCH BAY 4 - BALANCED</text>
<text x="118" y="761.22" font-size="12.4" fill="#141414" stroke="#141414" textLength="104.5" lengthAdjust="spacingAndGlyphs" font-weight="normal" font-family="Liberation Sans, sans-serif" >2 CH EFFECTS UNIT</text>
<text x="132.2" y="842.32" font-size="12.4" fill="#141414" stroke="#141414" textLength="76.1" lengthAdjust="spacingAndGlyphs" font-weight="normal" font-family="Liberation Sans, sans-serif" >COMPRESSOR</text>
<text x="135.8" y="922.12" font-size="12.4" fill="#141414" stroke="#141414" textLength="69.4" lengthAdjust="spacingAndGlyphs" font-weight="normal" font-family="Liberation Sans, sans-serif" >MIC PREAMP</text>
<text x="98.6" y="1002.12" font-size="12.4" fill="#141414" stroke="#141414" textLength="144.0" lengthAdjust="spacingAndGlyphs" font-weight="normal" font-family="Liberation Sans, sans-serif" >OTHER OUTBOARD INSERT</text>
<text x="98.6" y="1084.02" font-size="12.4" fill="#141414" stroke="#141414" textLength="144.0" lengthAdjust="spacingAndGlyphs" font-weight="normal" font-family="Liberation Sans, sans-serif" >OTHER OUTBOARD INSERT</text>
<text x="398" y="759.32" font-size="12.4" fill="#141414" stroke="#141414" textLength="69.0" lengthAdjust="spacingAndGlyphs" font-weight="normal" font-family="Liberation Sans, sans-serif" >XLR Wall Box</text>
<text x="324" y="881.32" font-size="12.4" fill="#141414" stroke="#141414" textLength="211.4" lengthAdjust="spacingAndGlyphs" font-weight="normal" font-family="Liberation Sans, sans-serif" >ROLAND 16 IN / 2 OUT  – SYNTH MIXER</text>
<text x="88.4" y="545.57" font-size="12" fill="#141414" stroke="#141414" textLength="76.8" lengthAdjust="spacingAndGlyphs" font-weight="normal" font-family="Liberation Sans, sans-serif" >Tascam MS-16</text>
<text x="212.4" y="472.93" font-size="16" fill="#141414" stroke="#141414" textLength="14.2" lengthAdjust="spacingAndGlyphs" font-weight="normal" font-family="Liberation Sans, sans-serif" >IN</text>
<text x="203.6" y="531.53" font-size="16" fill="#141414" stroke="#141414" textLength="31.0" lengthAdjust="spacingAndGlyphs" font-weight="normal" font-family="Liberation Sans, sans-serif" >OUT</text>
<text x="814.1" y="330.99" font-size="12.6" fill="#141414" stroke="#141414" textLength="54.9" lengthAdjust="spacingAndGlyphs" font-weight="normal" font-family="Liberation Sans, sans-serif" >BUSS OUT</text>
<text x="1177" y="320.83" font-size="16" fill="#141414" stroke="#141414" textLength="16.8" lengthAdjust="spacingAndGlyphs" font-weight="normal" font-family="Liberation Sans, sans-serif" >X2</text>
<text x="1287.5" y="320.83" font-size="16" fill="#141414" stroke="#141414" textLength="17.0" lengthAdjust="spacingAndGlyphs" font-weight="normal" font-family="Liberation Sans, sans-serif" >X2</text>
<text x="1407" y="320.83" font-size="16" fill="#141414" stroke="#141414" textLength="24.8" lengthAdjust="spacingAndGlyphs" font-weight="normal" font-family="Liberation Sans, sans-serif" >X12</text>
<text x="1517.1" y="320.83" font-size="16" fill="#141414" stroke="#141414" textLength="16.9" lengthAdjust="spacingAndGlyphs" font-weight="normal" font-family="Liberation Sans, sans-serif" >X4</text>
<text x="1212.3" y="378.07" font-size="12" fill="#141414" stroke="#141414" textLength="40.8" lengthAdjust="spacingAndGlyphs" font-weight="normal" font-family="Liberation Sans, sans-serif" >JBL 308</text>
<text x="1341.6" y="394.87" font-size="12" fill="#141414" stroke="#141414" textLength="63.6" lengthAdjust="spacingAndGlyphs" font-weight="normal" font-family="Liberation Sans, sans-serif" >MACKIE A/B</text>
<text x="1441.2" y="388.37" font-size="12" fill="#141414" stroke="#141414" textLength="72.7" lengthAdjust="spacingAndGlyphs" font-weight="normal" font-family="Liberation Sans, sans-serif" >YAMAHA HS5</text>
<text x="1271.2" y="577.31" font-size="16.5" fill="#141414" stroke="#141414" textLength="86.1" lengthAdjust="spacingAndGlyphs" font-weight="normal" font-family="Liberation Sans, sans-serif" >16 SNAKE IN</text>
<text x="1329.5" y="614.00" font-size="11.8" fill="#141414" stroke="#141414" textLength="80.8" lengthAdjust="spacingAndGlyphs" font-weight="normal" font-family="Liberation Sans, sans-serif" >LIVETRACK L20</text>
<text x="1426.5" y="681.41" font-size="16.5" fill="#141414" stroke="#141414" textLength="30.3" lengthAdjust="spacingAndGlyphs" font-weight="normal" font-family="Liberation Sans, sans-serif" >OUT</text>
<text x="1332.8" y="998.69" font-size="11.5" fill="#141414" stroke="#141414" textLength="81.3" lengthAdjust="spacingAndGlyphs" font-weight="normal" font-family="Liberation Sans, sans-serif" >CASSETTE/CDR</text>
<text x="1342.8" y="1049.59" font-size="11.5" fill="#141414" stroke="#141414" textLength="61.8" lengthAdjust="spacingAndGlyphs" font-weight="normal" font-family="Liberation Sans, sans-serif" >TEAC 32-2B</text>
<text x="1271.8" y="1004.73" font-size="16" fill="#141414" stroke="#141414" textLength="30.6" lengthAdjust="spacingAndGlyphs" font-weight="normal" font-family="Liberation Sans, sans-serif" >OUT</text>
<text x="1282.3" y="1042.83" font-size="16" fill="#141414" stroke="#141414" textLength="15.0" lengthAdjust="spacingAndGlyphs" font-weight="normal" font-family="Liberation Sans, sans-serif" >IN</text>
<text x="1282.3" y="1061.03" font-size="16" fill="#141414" stroke="#141414" textLength="15.0" lengthAdjust="spacingAndGlyphs" font-weight="normal" font-family="Liberation Sans, sans-serif" >IN</text>
<text x="1280" y="1096.53" font-size="16" fill="#141414" stroke="#141414" textLength="30.0" lengthAdjust="spacingAndGlyphs" font-weight="normal" font-family="Liberation Sans, sans-serif" >OUT</text>
<text x="642" y="608.59" font-size="12.6" fill="#f0f020" stroke="#f0f020" textLength="53.5" lengthAdjust="spacingAndGlyphs" font-weight="normal" font-family="Liberation Sans, sans-serif" >SND/RCV</text>
<text x="658" y="642.09" font-size="12.6" fill="#e21cc0" stroke="#e21cc0" textLength="36.3" lengthAdjust="spacingAndGlyphs" font-weight="normal" font-family="Liberation Sans, sans-serif" >D OUT</text>
<text x="647.7" y="675.29" font-size="12.6" fill="#7ee81a" stroke="#7ee81a" textLength="43.3" lengthAdjust="spacingAndGlyphs" font-weight="normal" font-family="Liberation Sans, sans-serif" >TAPE IN</text>
<text x="644" y="738.29" font-size="12.6" fill="#22e0e6" stroke="#22e0e6" textLength="42.1" lengthAdjust="spacingAndGlyphs" font-weight="normal" font-family="Liberation Sans, sans-serif" >INST IN</text>
<text x="709" y="768.29" font-size="12.6" fill="#1010c8" stroke="#1010c8" textLength="40.9" lengthAdjust="spacingAndGlyphs" font-weight="normal" font-family="Liberation Sans, sans-serif" >LINE IN</text>
<text x="654.8" y="802.19" font-size="12.6" fill="#ea6a18" stroke="#ea6a18" textLength="37.7" lengthAdjust="spacingAndGlyphs" font-weight="normal" font-family="Liberation Sans, sans-serif" >MIC IN</text>
<text x="854" y="706.59" font-size="12.6" fill="#e0231e" stroke="#e0231e" textLength="70.3" lengthAdjust="spacingAndGlyphs" font-weight="normal" font-family="Liberation Sans, sans-serif" >2TRB D OUT</text>
<text x="833.5" y="737.79" font-size="12.6" fill="#e0231e" stroke="#e0231e" textLength="70.9" lengthAdjust="spacingAndGlyphs" font-weight="normal" font-family="Liberation Sans, sans-serif" >2TRA D OUT</text>
<text x="979.2" y="418.72" font-size="12.4" fill="#7d5232" stroke="#7d5232" textLength="24.4" lengthAdjust="spacingAndGlyphs" font-weight="normal" font-family="Liberation Sans, sans-serif" >AUX</text>
<text x="982.5" y="431.22" font-size="12.4" fill="#7d5232" stroke="#7d5232" textLength="18.5" lengthAdjust="spacingAndGlyphs" font-weight="normal" font-family="Liberation Sans, sans-serif" >3/4</text>
<text x="955.9" y="443.12" font-size="12.4" fill="#7d5232" stroke="#7d5232" textLength="24.4" lengthAdjust="spacingAndGlyphs" font-weight="normal" font-family="Liberation Sans, sans-serif" >AUX</text>
<text x="961" y="456.22" font-size="12.4" fill="#7d5232" stroke="#7d5232" textLength="18.0" lengthAdjust="spacingAndGlyphs" font-weight="normal" font-family="Liberation Sans, sans-serif" >1/2</text>
<text x="1027.3" y="417.92" font-size="12.4" fill="#4a2e14" stroke="#4a2e14" textLength="53.6" lengthAdjust="spacingAndGlyphs" font-weight="normal" font-family="Liberation Sans, sans-serif" >AUX OUT</text>
<text x="1044.6" y="430.92" font-size="12.4" fill="#4a2e14" stroke="#4a2e14" textLength="18.4" lengthAdjust="spacingAndGlyphs" font-weight="normal" font-family="Liberation Sans, sans-serif" >3/4</text>
<text x="1005.3" y="446.52" font-size="12.4" fill="#4a2e14" stroke="#4a2e14" textLength="53.5" lengthAdjust="spacingAndGlyphs" font-weight="normal" font-family="Liberation Sans, sans-serif" >AUX OUT</text>
<text x="1023.5" y="459.62" font-size="12.4" fill="#4a2e14" stroke="#4a2e14" textLength="17.5" lengthAdjust="spacingAndGlyphs" font-weight="normal" font-family="Liberation Sans, sans-serif" >1/2</text>
<text x="1079.8" y="496.52" font-size="12.4" fill="#5ee22e" stroke="#5ee22e" textLength="28.4" lengthAdjust="spacingAndGlyphs" font-weight="normal" font-family="Liberation Sans, sans-serif" >MON</text>
<text x="1085.5" y="513.02" font-size="12.4" fill="#5ee22e" stroke="#5ee22e" textLength="17.5" lengthAdjust="spacingAndGlyphs" font-weight="normal" font-family="Liberation Sans, sans-serif" >L/R</text>
<text x="0" y="0" font-size="11.4" fill="#5ee22e" font-family="Liberation Sans, sans-serif" textLength="33.7" lengthAdjust="spacingAndGlyphs" transform="translate(1077.6,625.3) rotate(-90)">SPARE</text>
<text x="127.7" y="618" font-size="9" fill="#222" font-family="Liberation Sans, sans-serif" text-anchor="middle" transform="translate(15.32,0) scale(0.88,1)">DX11</text>
<text x="158" y="618" font-size="9" fill="#222" font-family="Liberation Sans, sans-serif" text-anchor="middle" transform="translate(18.96,0) scale(0.88,1)">D50</text>
<text x="186" y="618" font-size="9" fill="#222" font-family="Liberation Sans, sans-serif" text-anchor="middle" transform="translate(22.32,0) scale(0.88,1)">GAIA</text>
<text x="216" y="618" font-size="9" fill="#222" font-family="Liberation Sans, sans-serif" text-anchor="middle" transform="translate(25.92,0) scale(0.88,1)">ESQ</text>
<text x="245.2" y="618" font-size="9" fill="#222" font-family="Liberation Sans, sans-serif" text-anchor="middle" transform="translate(29.42,0) scale(0.88,1)">JP50</text>
<text x="275.6" y="618" font-size="9" fill="#222" font-family="Liberation Sans, sans-serif" text-anchor="middle" transform="translate(33.07,0) scale(0.88,1)">AJ2</text>
<text x="303.9" y="618" font-size="9" fill="#222" font-family="Liberation Sans, sans-serif" text-anchor="middle" transform="translate(36.47,0) scale(0.88,1)">XV</text>
<text x="326.5" y="618" font-size="9" fill="#222" font-family="Liberation Sans, sans-serif" text-anchor="middle" transform="translate(39.18,0) scale(0.88,1)">CZ1</text>
<text x="343.7" y="618" font-size="9" fill="#222" font-family="Liberation Sans, sans-serif" text-anchor="middle" transform="translate(41.24,0) scale(0.88,1)">CZ3</text>
</g>
</svg>
</body></html>
